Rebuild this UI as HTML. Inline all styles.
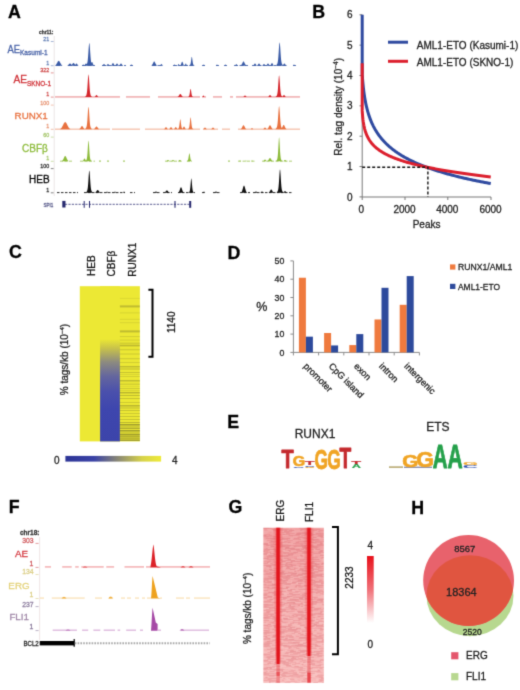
<!DOCTYPE html>
<html><head><meta charset="utf-8"><style>
html,body{margin:0;padding:0;background:#fff;width:520px;height:690px;overflow:hidden}
svg{display:block}
text{font-family:"Liberation Sans",sans-serif}
</style></head><body>
<svg width="520" height="690" viewBox="0 0 520 690">
<defs><filter id="bl" x="0" y="0" width="1" height="1" color-interpolation-filters="sRGB"><feConvolveMatrix order="3" kernelMatrix="0.0192 0.1001 0.0192 0.1001 0.5228 0.1001 0.0192 0.1001 0.0192" edgeMode="duplicate"/></filter></defs>
<rect width="520" height="690" fill="#fff"/>
<g filter="url(#bl)">
<rect width="520" height="690" fill="#fff"/>
<text x="8.05" y="18.10" font-size="17.8" fill="#000" text-anchor="start" font-weight="bold"  stroke="#000" stroke-width="0.28">A</text>
<text x="312.30" y="18.40" font-size="17.8" fill="#000" text-anchor="start" font-weight="bold"  stroke="#000" stroke-width="0.28">B</text>
<text x="8.90" y="258.20" font-size="17.8" fill="#000" text-anchor="start" font-weight="bold"  stroke="#000" stroke-width="0.28">C</text>
<text x="227.50" y="259.40" font-size="17.8" fill="#000" text-anchor="start" font-weight="bold"  stroke="#000" stroke-width="0.28">D</text>
<text x="227.30" y="427.60" font-size="17.8" fill="#000" text-anchor="start" font-weight="bold"  stroke="#000" stroke-width="0.28">E</text>
<text x="8.70" y="512.80" font-size="17.8" fill="#000" text-anchor="start" font-weight="bold"  stroke="#000" stroke-width="0.28">F</text>
<text x="228.60" y="513.00" font-size="17.8" fill="#000" text-anchor="start" font-weight="bold"  stroke="#000" stroke-width="0.28">G</text>
<text x="411.30" y="514.10" font-size="17.8" fill="#000" text-anchor="start" font-weight="bold"  stroke="#000" stroke-width="0.28">H</text>
<line x1="54.2" y1="36" x2="54.2" y2="196" stroke="#e6dede" stroke-width="0.8"/>
<text x="53.40" y="34.00" font-size="5.8" fill="#333" text-anchor="end" font-weight="bold" textLength="14.5" lengthAdjust="spacingAndGlyphs" stroke="#333" stroke-width="0.28">chr11:</text>
<text x="49.20" y="41.00" font-size="5.4" fill="#6a84b8" text-anchor="end" font-weight="normal"  stroke="#6a84b8" stroke-width="0.28">21</text>
<line x1="50.8" y1="41.50" x2="53.6" y2="41.50" stroke="#6a84b8" stroke-width="0.6"/>
<text x="49.20" y="64.50" font-size="5.4" fill="#6a84b8" text-anchor="end" font-weight="normal"  stroke="#6a84b8" stroke-width="0.28">1</text>
<line x1="50.8" y1="65.70" x2="53.6" y2="65.70" stroke="#6a84b8" stroke-width="0.6"/>
<text x="49.20" y="72.40" font-size="5.4" fill="#d05050" text-anchor="end" font-weight="normal"  stroke="#d05050" stroke-width="0.28">322</text>
<line x1="50.8" y1="72.90" x2="53.6" y2="72.90" stroke="#d05050" stroke-width="0.6"/>
<text x="49.20" y="95.90" font-size="5.4" fill="#d05050" text-anchor="end" font-weight="normal"  stroke="#d05050" stroke-width="0.28">1</text>
<line x1="50.8" y1="97.10" x2="53.6" y2="97.10" stroke="#d05050" stroke-width="0.6"/>
<text x="49.20" y="104.60" font-size="5.4" fill="#e89878" text-anchor="end" font-weight="normal"  stroke="#e89878" stroke-width="0.28">100</text>
<line x1="50.8" y1="105.10" x2="53.6" y2="105.10" stroke="#e89878" stroke-width="0.6"/>
<text x="49.20" y="128.10" font-size="5.4" fill="#e89878" text-anchor="end" font-weight="normal"  stroke="#e89878" stroke-width="0.28">1</text>
<line x1="50.8" y1="129.30" x2="53.6" y2="129.30" stroke="#e89878" stroke-width="0.6"/>
<text x="49.20" y="136.60" font-size="5.4" fill="#a8c870" text-anchor="end" font-weight="normal"  stroke="#a8c870" stroke-width="0.28">60</text>
<line x1="50.8" y1="137.10" x2="53.6" y2="137.10" stroke="#a8c870" stroke-width="0.6"/>
<text x="49.20" y="160.10" font-size="5.4" fill="#a8c870" text-anchor="end" font-weight="normal"  stroke="#a8c870" stroke-width="0.28">1</text>
<line x1="50.8" y1="161.30" x2="53.6" y2="161.30" stroke="#a8c870" stroke-width="0.6"/>
<text x="49.20" y="168.10" font-size="5.4" fill="#333" text-anchor="end" font-weight="normal"  stroke="#333" stroke-width="0.28">100</text>
<line x1="50.8" y1="168.60" x2="53.6" y2="168.60" stroke="#333" stroke-width="0.6"/>
<text x="49.20" y="191.60" font-size="5.4" fill="#333" text-anchor="end" font-weight="normal"  stroke="#333" stroke-width="0.28">1</text>
<line x1="50.8" y1="192.80" x2="53.6" y2="192.80" stroke="#333" stroke-width="0.6"/>
<text x="7.4" y="52.6" font-size="10.2" fill="#4a64a8" stroke="#4a64a8" stroke-width="0.28"><tspan textLength="12.6" lengthAdjust="spacingAndGlyphs">AE</tspan><tspan font-size="6.5" dy="2.4" textLength="27.6" lengthAdjust="spacingAndGlyphs">Kasumi-1</tspan></text>
<text x="13.4" y="83.4" font-size="10.2" fill="#d0343a" stroke="#d0343a" stroke-width="0.28"><tspan textLength="13.6" lengthAdjust="spacingAndGlyphs">AE</tspan><tspan font-size="6.5" dy="2.3" textLength="24" lengthAdjust="spacingAndGlyphs">SKNO-1</tspan></text>
<text x="47.80" y="118.60" font-size="9.8" fill="#e8713f" text-anchor="end" font-weight="normal"  stroke="#e8713f" stroke-width="0.28">RUNX1</text>
<text x="47.80" y="151.90" font-size="10" fill="#8dbb3b" text-anchor="end" font-weight="normal"  stroke="#8dbb3b" stroke-width="0.28">CBFβ</text>
<text x="49.60" y="182.60" font-size="10" fill="#000" text-anchor="end" font-weight="normal"  stroke="#000" stroke-width="0.28">HEB</text>
<path d="M55.10,65.70 L55.10,65.42 L55.40,65.26 L55.70,65.04 L56.00,64.73 L56.30,64.34 L56.60,63.86 L56.90,63.31 L57.20,62.73 L57.50,62.14 L57.80,61.61 L58.10,61.18 L58.40,60.90 L58.70,60.80 L59.00,60.90 L59.30,61.18 L59.60,61.61 L59.90,62.14 L60.20,62.73 L60.50,63.31 L60.80,63.86 L61.10,64.34 L61.40,64.73 L61.70,65.04 L62.00,65.26 L62.30,65.42 L62.30,65.70ZM67.20,65.70 L67.20,65.58 L67.43,65.50 L67.67,65.40 L67.90,65.26 L68.13,65.09 L68.37,64.87 L68.60,64.63 L68.83,64.37 L69.07,64.10 L69.30,63.86 L69.53,63.67 L69.77,63.54 L70.00,63.50 L70.23,63.54 L70.47,63.67 L70.70,63.86 L70.93,64.10 L71.17,64.37 L71.40,64.63 L71.63,64.87 L71.87,65.09 L72.10,65.26 L72.33,65.40 L72.57,65.50 L72.80,65.58 L72.80,65.70ZM70.70,65.70 L70.70,65.55 L70.93,65.46 L71.17,65.33 L71.40,65.17 L71.63,64.95 L71.87,64.69 L72.10,64.39 L72.33,64.06 L72.57,63.74 L72.80,63.44 L73.03,63.21 L73.27,63.05 L73.50,63.00 L73.73,63.05 L73.97,63.21 L74.20,63.44 L74.43,63.74 L74.67,64.06 L74.90,64.39 L75.13,64.69 L75.37,64.95 L75.60,65.17 L75.83,65.33 L76.07,65.46 L76.30,65.55 L76.30,65.70ZM74.50,65.70 L74.50,65.58 L74.67,65.50 L74.83,65.40 L75.00,65.26 L75.17,65.09 L75.33,64.87 L75.50,64.63 L75.67,64.37 L75.83,64.10 L76.00,63.86 L76.17,63.67 L76.33,63.54 L76.50,63.50 L76.67,63.54 L76.83,63.67 L77.00,63.86 L77.17,64.10 L77.33,64.37 L77.50,64.63 L77.67,64.87 L77.83,65.09 L78.00,65.26 L78.17,65.40 L78.33,65.50 L78.50,65.58 L78.50,65.70ZM82.00,65.70 L82.00,65.63 L82.11,65.59 L82.22,65.54 L82.33,65.46 L82.43,65.37 L82.54,65.25 L82.65,65.12 L82.76,64.97 L82.87,64.83 L82.97,64.70 L83.08,64.59 L83.19,64.52 L83.30,64.50 L83.41,64.52 L83.52,64.59 L83.62,64.70 L83.73,64.83 L83.84,64.97 L83.95,65.12 L84.06,65.25 L84.17,65.37 L84.28,65.46 L84.38,65.54 L84.49,65.59 L84.60,65.63 L84.60,65.70ZM84.00,65.70 L84.00,65.58 L84.17,65.50 L84.33,65.40 L84.50,65.26 L84.67,65.09 L84.83,64.87 L85.00,64.63 L85.17,64.37 L85.33,64.10 L85.50,63.86 L85.67,63.67 L85.83,63.54 L86.00,63.50 L86.17,63.54 L86.33,63.67 L86.50,63.86 L86.67,64.10 L86.83,64.37 L87.00,64.63 L87.17,64.87 L87.33,65.09 L87.50,65.26 L87.67,65.40 L87.83,65.50 L88.00,65.58 L88.00,65.70ZM85.70,65.70 L85.70,65.29 L86.00,65.10 L86.30,64.84 L86.60,64.48 L86.90,63.97 L87.20,63.19 L87.50,61.90 L87.80,59.77 L88.10,56.55 L88.40,52.31 L88.70,47.76 L89.00,44.17 L89.30,42.80 L89.60,44.17 L89.90,47.76 L90.20,52.31 L90.50,56.55 L90.80,59.77 L91.10,61.90 L91.40,63.19 L91.70,63.97 L92.00,64.48 L92.30,64.84 L92.60,65.10 L92.90,65.29 L92.90,65.70ZM90.00,65.70 L90.00,65.49 L90.17,65.37 L90.33,65.20 L90.50,64.97 L90.67,64.67 L90.83,64.31 L91.00,63.90 L91.17,63.46 L91.33,63.01 L91.50,62.61 L91.67,62.28 L91.83,62.07 L92.00,62.00 L92.17,62.07 L92.33,62.28 L92.50,62.61 L92.67,63.01 L92.83,63.46 L93.00,63.90 L93.17,64.31 L93.33,64.67 L93.50,64.97 L93.67,65.20 L93.83,65.37 L94.00,65.49 L94.00,65.70ZM102.00,65.70 L102.00,65.60 L102.17,65.55 L102.33,65.47 L102.50,65.36 L102.67,65.23 L102.83,65.06 L103.00,64.87 L103.17,64.67 L103.33,64.47 L103.50,64.28 L103.67,64.13 L103.83,64.03 L104.00,64.00 L104.17,64.03 L104.33,64.13 L104.50,64.28 L104.67,64.47 L104.83,64.67 L105.00,64.87 L105.17,65.06 L105.33,65.23 L105.50,65.36 L105.67,65.47 L105.83,65.55 L106.00,65.60 L106.00,65.70ZM106.00,65.70 L106.00,65.60 L106.17,65.55 L106.33,65.47 L106.50,65.36 L106.67,65.23 L106.83,65.06 L107.00,64.87 L107.17,64.67 L107.33,64.47 L107.50,64.28 L107.67,64.13 L107.83,64.03 L108.00,64.00 L108.17,64.03 L108.33,64.13 L108.50,64.28 L108.67,64.47 L108.83,64.67 L109.00,64.87 L109.17,65.06 L109.33,65.23 L109.50,65.36 L109.67,65.47 L109.83,65.55 L110.00,65.60 L110.00,65.70ZM111.00,65.70 L111.00,65.55 L111.17,65.46 L111.33,65.33 L111.50,65.17 L111.67,64.95 L111.83,64.69 L112.00,64.39 L112.17,64.06 L112.33,63.74 L112.50,63.44 L112.67,63.21 L112.83,63.05 L113.00,63.00 L113.17,63.05 L113.33,63.21 L113.50,63.44 L113.67,63.74 L113.83,64.06 L114.00,64.39 L114.17,64.69 L114.33,64.95 L114.50,65.17 L114.67,65.33 L114.83,65.46 L115.00,65.55 L115.00,65.70ZM115.00,65.70 L115.00,65.58 L115.17,65.50 L115.33,65.40 L115.50,65.26 L115.67,65.09 L115.83,64.87 L116.00,64.63 L116.17,64.37 L116.33,64.10 L116.50,63.86 L116.67,63.67 L116.83,63.54 L117.00,63.50 L117.17,63.54 L117.33,63.67 L117.50,63.86 L117.67,64.10 L117.83,64.37 L118.00,64.63 L118.17,64.87 L118.33,65.09 L118.50,65.26 L118.67,65.40 L118.83,65.50 L119.00,65.58 L119.00,65.70ZM119.00,65.70 L119.00,65.58 L119.17,65.50 L119.33,65.40 L119.50,65.26 L119.67,65.09 L119.83,64.87 L120.00,64.63 L120.17,64.37 L120.33,64.10 L120.50,63.86 L120.67,63.67 L120.83,63.54 L121.00,63.50 L121.17,63.54 L121.33,63.67 L121.50,63.86 L121.67,64.10 L121.83,64.37 L122.00,64.63 L122.17,64.87 L122.33,65.09 L122.50,65.26 L122.67,65.40 L122.83,65.50 L123.00,65.58 L123.00,65.70ZM130.00,65.70 L130.00,65.63 L130.11,65.59 L130.22,65.54 L130.32,65.46 L130.43,65.37 L130.54,65.25 L130.65,65.12 L130.76,64.97 L130.87,64.83 L130.97,64.70 L131.08,64.59 L131.19,64.52 L131.30,64.50 L131.41,64.52 L131.52,64.59 L131.62,64.70 L131.73,64.83 L131.84,64.97 L131.95,65.12 L132.06,65.25 L132.17,65.37 L132.28,65.46 L132.38,65.54 L132.49,65.59 L132.60,65.63 L132.60,65.70ZM151.40,65.70 L151.40,65.46 L151.63,65.33 L151.87,65.13 L152.10,64.87 L152.33,64.53 L152.57,64.12 L152.80,63.66 L153.03,63.15 L153.27,62.65 L153.50,62.19 L153.73,61.82 L153.97,61.58 L154.20,61.50 L154.43,61.58 L154.67,61.82 L154.90,62.19 L155.13,62.65 L155.37,63.15 L155.60,63.66 L155.83,64.12 L156.07,64.53 L156.30,64.87 L156.53,65.13 L156.77,65.33 L157.00,65.46 L157.00,65.70ZM159.70,65.70 L159.70,65.60 L159.84,65.55 L159.98,65.47 L160.13,65.36 L160.27,65.23 L160.41,65.06 L160.55,64.87 L160.69,64.67 L160.83,64.47 L160.98,64.28 L161.12,64.13 L161.26,64.03 L161.40,64.00 L161.54,64.03 L161.68,64.13 L161.83,64.28 L161.97,64.47 L162.11,64.67 L162.25,64.87 L162.39,65.06 L162.53,65.23 L162.68,65.36 L162.82,65.47 L162.96,65.55 L163.10,65.60 L163.10,65.70ZM173.30,65.70 L173.30,65.63 L173.41,65.59 L173.52,65.54 L173.62,65.46 L173.73,65.37 L173.84,65.25 L173.95,65.12 L174.06,64.97 L174.17,64.83 L174.27,64.70 L174.38,64.59 L174.49,64.52 L174.60,64.50 L174.71,64.52 L174.82,64.59 L174.92,64.70 L175.03,64.83 L175.14,64.97 L175.25,65.12 L175.36,65.25 L175.47,65.37 L175.57,65.46 L175.68,65.54 L175.79,65.59 L175.90,65.63 L175.90,65.70ZM177.30,65.70 L177.30,65.60 L177.41,65.55 L177.52,65.47 L177.62,65.36 L177.73,65.23 L177.84,65.06 L177.95,64.87 L178.06,64.67 L178.17,64.47 L178.27,64.28 L178.38,64.13 L178.49,64.03 L178.60,64.00 L178.71,64.03 L178.82,64.13 L178.92,64.28 L179.03,64.47 L179.14,64.67 L179.25,64.87 L179.36,65.06 L179.47,65.23 L179.57,65.36 L179.68,65.47 L179.79,65.55 L179.90,65.60 L179.90,65.70ZM180.20,65.70 L180.20,65.48 L180.37,65.34 L180.53,65.16 L180.70,64.91 L180.87,64.59 L181.03,64.20 L181.20,63.75 L181.37,63.27 L181.53,62.80 L181.70,62.36 L181.87,62.01 L182.03,61.78 L182.20,61.70 L182.37,61.78 L182.53,62.01 L182.70,62.36 L182.87,62.80 L183.03,63.27 L183.20,63.75 L183.37,64.20 L183.53,64.59 L183.70,64.91 L183.87,65.16 L184.03,65.34 L184.20,65.48 L184.20,65.70ZM184.50,65.70 L184.50,65.58 L184.61,65.50 L184.72,65.40 L184.82,65.26 L184.93,65.09 L185.04,64.87 L185.15,64.63 L185.26,64.37 L185.37,64.10 L185.47,63.86 L185.58,63.67 L185.69,63.54 L185.80,63.50 L185.91,63.54 L186.02,63.67 L186.12,63.86 L186.23,64.10 L186.34,64.37 L186.45,64.63 L186.56,64.87 L186.67,65.09 L186.78,65.26 L186.88,65.40 L186.99,65.50 L187.10,65.58 L187.10,65.70ZM189.00,65.70 L189.00,65.54 L189.23,65.47 L189.47,65.36 L189.70,65.23 L189.93,65.03 L190.17,64.72 L190.40,64.22 L190.63,63.40 L190.87,62.14 L191.10,60.49 L191.33,58.73 L191.57,57.33 L191.80,56.80 L192.03,57.33 L192.27,58.73 L192.50,60.49 L192.73,62.14 L192.97,63.40 L193.20,64.22 L193.43,64.72 L193.67,65.03 L193.90,65.23 L194.13,65.36 L194.37,65.47 L194.60,65.54 L194.60,65.70ZM202.70,65.70 L202.70,65.63 L202.79,65.59 L202.88,65.54 L202.98,65.46 L203.07,65.37 L203.16,65.25 L203.25,65.12 L203.34,64.97 L203.43,64.83 L203.53,64.70 L203.62,64.59 L203.71,64.52 L203.80,64.50 L203.89,64.52 L203.98,64.59 L204.08,64.70 L204.17,64.83 L204.26,64.97 L204.35,65.12 L204.44,65.25 L204.53,65.37 L204.63,65.46 L204.72,65.54 L204.81,65.59 L204.90,65.63 L204.90,65.70ZM215.90,65.70 L215.90,65.63 L215.99,65.59 L216.08,65.54 L216.18,65.46 L216.27,65.37 L216.36,65.25 L216.45,65.12 L216.54,64.97 L216.63,64.83 L216.72,64.70 L216.82,64.59 L216.91,64.52 L217.00,64.50 L217.09,64.52 L217.18,64.59 L217.28,64.70 L217.37,64.83 L217.46,64.97 L217.55,65.12 L217.64,65.25 L217.73,65.37 L217.83,65.46 L217.92,65.54 L218.01,65.59 L218.10,65.63 L218.10,65.70ZM224.40,65.70 L224.40,65.63 L224.49,65.59 L224.58,65.54 L224.68,65.46 L224.77,65.37 L224.86,65.25 L224.95,65.12 L225.04,64.97 L225.13,64.83 L225.22,64.70 L225.32,64.59 L225.41,64.52 L225.50,64.50 L225.59,64.52 L225.68,64.59 L225.78,64.70 L225.87,64.83 L225.96,64.97 L226.05,65.12 L226.14,65.25 L226.23,65.37 L226.33,65.46 L226.42,65.54 L226.51,65.59 L226.60,65.63 L226.60,65.70ZM235.00,65.70 L235.00,65.60 L235.11,65.55 L235.22,65.47 L235.32,65.36 L235.43,65.23 L235.54,65.06 L235.65,64.87 L235.76,64.67 L235.87,64.47 L235.97,64.28 L236.08,64.13 L236.19,64.03 L236.30,64.00 L236.41,64.03 L236.52,64.13 L236.62,64.28 L236.73,64.47 L236.84,64.67 L236.95,64.87 L237.06,65.06 L237.17,65.23 L237.28,65.36 L237.38,65.47 L237.49,65.55 L237.60,65.60 L237.60,65.70ZM240.70,65.70 L240.70,65.46 L240.93,65.33 L241.17,65.13 L241.40,64.87 L241.63,64.53 L241.87,64.12 L242.10,63.66 L242.33,63.15 L242.57,62.65 L242.80,62.19 L243.03,61.82 L243.27,61.58 L243.50,61.50 L243.73,61.58 L243.97,61.82 L244.20,62.19 L244.43,62.65 L244.67,63.15 L244.90,63.66 L245.13,64.12 L245.37,64.53 L245.60,64.87 L245.83,65.13 L246.07,65.33 L246.30,65.46 L246.30,65.70ZM253.00,65.70 L253.00,65.58 L253.17,65.50 L253.33,65.40 L253.50,65.26 L253.67,65.09 L253.83,64.87 L254.00,64.63 L254.17,64.37 L254.33,64.10 L254.50,63.86 L254.67,63.67 L254.83,63.54 L255.00,63.50 L255.17,63.54 L255.33,63.67 L255.50,63.86 L255.67,64.10 L255.83,64.37 L256.00,64.63 L256.17,64.87 L256.33,65.09 L256.50,65.26 L256.67,65.40 L256.83,65.50 L257.00,65.58 L257.00,65.70ZM257.00,65.70 L257.00,65.58 L257.17,65.50 L257.33,65.40 L257.50,65.26 L257.67,65.09 L257.83,64.87 L258.00,64.63 L258.17,64.37 L258.33,64.10 L258.50,63.86 L258.67,63.67 L258.83,63.54 L259.00,63.50 L259.17,63.54 L259.33,63.67 L259.50,63.86 L259.67,64.10 L259.83,64.37 L260.00,64.63 L260.17,64.87 L260.33,65.09 L260.50,65.26 L260.67,65.40 L260.83,65.50 L261.00,65.58 L261.00,65.70ZM262.00,65.70 L262.00,65.60 L262.17,65.55 L262.33,65.47 L262.50,65.36 L262.67,65.23 L262.83,65.06 L263.00,64.87 L263.17,64.67 L263.33,64.47 L263.50,64.28 L263.67,64.13 L263.83,64.03 L264.00,64.00 L264.17,64.03 L264.33,64.13 L264.50,64.28 L264.67,64.47 L264.83,64.67 L265.00,64.87 L265.17,65.06 L265.33,65.23 L265.50,65.36 L265.67,65.47 L265.83,65.55 L266.00,65.60 L266.00,65.70ZM266.00,65.70 L266.00,65.58 L266.17,65.50 L266.33,65.40 L266.50,65.26 L266.67,65.09 L266.83,64.87 L267.00,64.63 L267.17,64.37 L267.33,64.10 L267.50,63.86 L267.67,63.67 L267.83,63.54 L268.00,63.50 L268.17,63.54 L268.33,63.67 L268.50,63.86 L268.67,64.10 L268.83,64.37 L269.00,64.63 L269.17,64.87 L269.33,65.09 L269.50,65.26 L269.67,65.40 L269.83,65.50 L270.00,65.58 L270.00,65.70ZM270.00,65.70 L270.00,65.55 L270.17,65.46 L270.33,65.33 L270.50,65.17 L270.67,64.95 L270.83,64.69 L271.00,64.39 L271.17,64.06 L271.33,63.74 L271.50,63.44 L271.67,63.21 L271.83,63.05 L272.00,63.00 L272.17,63.05 L272.33,63.21 L272.50,63.44 L272.67,63.74 L272.83,64.06 L273.00,64.39 L273.17,64.69 L273.33,64.95 L273.50,65.17 L273.67,65.33 L273.83,65.46 L274.00,65.55 L274.00,65.70ZM276.00,65.70 L276.00,65.28 L276.30,65.08 L276.60,64.82 L276.90,64.45 L277.20,63.93 L277.50,63.13 L277.80,61.82 L278.10,59.64 L278.40,56.35 L278.70,52.01 L279.00,47.37 L279.30,43.70 L279.60,42.30 L279.90,43.70 L280.20,47.37 L280.50,52.01 L280.80,56.35 L281.10,59.64 L281.40,61.82 L281.70,63.13 L282.00,63.93 L282.30,64.45 L282.60,64.82 L282.90,65.08 L283.20,65.28 L283.20,65.70ZM282.40,65.70 L282.40,65.58 L282.57,65.50 L282.73,65.40 L282.90,65.26 L283.07,65.09 L283.23,64.87 L283.40,64.63 L283.57,64.37 L283.73,64.10 L283.90,63.86 L284.07,63.67 L284.23,63.54 L284.40,63.50 L284.57,63.54 L284.73,63.67 L284.90,63.86 L285.07,64.10 L285.23,64.37 L285.40,64.63 L285.57,64.87 L285.73,65.09 L285.90,65.26 L286.07,65.40 L286.23,65.50 L286.40,65.58 L286.40,65.70ZM292.90,65.70 L292.90,65.63 L292.99,65.59 L293.08,65.54 L293.17,65.46 L293.27,65.37 L293.36,65.25 L293.45,65.12 L293.54,64.97 L293.63,64.83 L293.72,64.70 L293.82,64.59 L293.91,64.52 L294.00,64.50 L294.09,64.52 L294.18,64.59 L294.27,64.70 L294.37,64.83 L294.46,64.97 L294.55,65.12 L294.64,65.25 L294.73,65.37 L294.82,65.46 L294.92,65.54 L295.01,65.59 L295.10,65.63 L295.10,65.70Z" fill="#3a5ba6"/>
<line x1="56" y1="65.50" x2="62" y2="65.50" stroke="#3a5ba6" stroke-width="1.0" opacity="0.85" stroke-dasharray="4 1.5"/>
<line x1="68" y1="65.50" x2="79" y2="65.50" stroke="#3a5ba6" stroke-width="1.0" opacity="0.85" stroke-dasharray="4 1.5"/>
<line x1="82" y1="65.50" x2="95" y2="65.50" stroke="#3a5ba6" stroke-width="1.0" opacity="0.85" stroke-dasharray="4 1.5"/>
<line x1="102" y1="65.50" x2="126" y2="65.50" stroke="#3a5ba6" stroke-width="1.0" opacity="0.85" stroke-dasharray="4 1.5"/>
<line x1="130" y1="65.50" x2="133" y2="65.50" stroke="#3a5ba6" stroke-width="1.0" opacity="0.85" stroke-dasharray="4 1.5"/>
<line x1="152" y1="65.50" x2="163" y2="65.50" stroke="#3a5ba6" stroke-width="1.0" opacity="0.85" stroke-dasharray="4 1.5"/>
<line x1="173" y1="65.50" x2="195" y2="65.50" stroke="#3a5ba6" stroke-width="1.0" opacity="0.85" stroke-dasharray="4 1.5"/>
<line x1="202" y1="65.50" x2="205" y2="65.50" stroke="#3a5ba6" stroke-width="1.0" opacity="0.85" stroke-dasharray="4 1.5"/>
<line x1="216" y1="65.50" x2="219" y2="65.50" stroke="#3a5ba6" stroke-width="1.0" opacity="0.85" stroke-dasharray="4 1.5"/>
<line x1="224" y1="65.50" x2="227" y2="65.50" stroke="#3a5ba6" stroke-width="1.0" opacity="0.85" stroke-dasharray="4 1.5"/>
<line x1="234" y1="65.50" x2="248" y2="65.50" stroke="#3a5ba6" stroke-width="1.0" opacity="0.85" stroke-dasharray="4 1.5"/>
<line x1="252" y1="65.50" x2="276" y2="65.50" stroke="#3a5ba6" stroke-width="1.0" opacity="0.85" stroke-dasharray="4 1.5"/>
<line x1="277" y1="65.50" x2="287" y2="65.50" stroke="#3a5ba6" stroke-width="1.0" opacity="0.85" stroke-dasharray="4 1.5"/>
<line x1="293" y1="65.50" x2="296" y2="65.50" stroke="#3a5ba6" stroke-width="1.0" opacity="0.85" stroke-dasharray="4 1.5"/>
<path d="M85.10,97.10 L85.10,96.69 L85.38,96.50 L85.67,96.24 L85.95,95.88 L86.23,95.38 L86.52,94.60 L86.80,93.31 L87.08,91.20 L87.37,87.99 L87.65,83.76 L87.93,79.24 L88.22,75.67 L88.50,74.30 L88.78,75.67 L89.07,79.24 L89.35,83.76 L89.63,87.99 L89.92,91.20 L90.20,93.31 L90.48,94.60 L90.77,95.38 L91.05,95.88 L91.33,96.24 L91.62,96.50 L91.90,96.69 L91.90,97.10ZM94.50,97.10 L94.50,96.98 L94.67,96.91 L94.83,96.82 L95.00,96.68 L95.17,96.52 L95.33,96.31 L95.50,96.08 L95.67,95.83 L95.83,95.58 L96.00,95.35 L96.17,95.16 L96.33,95.04 L96.50,95.00 L96.67,95.04 L96.83,95.16 L97.00,95.35 L97.17,95.58 L97.33,95.83 L97.50,96.08 L97.67,96.31 L97.83,96.52 L98.00,96.68 L98.17,96.82 L98.33,96.91 L98.50,96.98 L98.50,97.10ZM177.50,97.10 L177.50,96.93 L177.73,96.82 L177.97,96.68 L178.20,96.49 L178.43,96.24 L178.67,95.94 L178.90,95.59 L179.13,95.22 L179.37,94.85 L179.60,94.51 L179.83,94.24 L180.07,94.06 L180.30,94.00 L180.53,94.06 L180.77,94.24 L181.00,94.51 L181.23,94.85 L181.47,95.22 L181.70,95.59 L181.93,95.94 L182.17,96.24 L182.40,96.49 L182.63,96.68 L182.87,96.82 L183.10,96.93 L183.10,97.10ZM187.80,97.10 L187.80,96.95 L188.03,96.88 L188.27,96.78 L188.50,96.65 L188.73,96.47 L188.97,96.18 L189.20,95.71 L189.43,94.94 L189.67,93.76 L189.90,92.22 L190.13,90.56 L190.37,89.25 L190.60,88.75 L190.83,89.25 L191.07,90.56 L191.30,92.22 L191.53,93.76 L191.77,94.94 L192.00,95.71 L192.23,96.18 L192.47,96.47 L192.70,96.65 L192.93,96.78 L193.17,96.88 L193.40,96.95 L193.40,97.10ZM202.10,97.10 L202.10,97.01 L202.21,96.96 L202.32,96.88 L202.42,96.78 L202.53,96.66 L202.64,96.50 L202.75,96.32 L202.86,96.13 L202.97,95.94 L203.07,95.76 L203.18,95.62 L203.29,95.53 L203.40,95.50 L203.51,95.53 L203.62,95.62 L203.72,95.76 L203.83,95.94 L203.94,96.13 L204.05,96.32 L204.16,96.50 L204.27,96.66 L204.38,96.78 L204.48,96.88 L204.59,96.96 L204.70,97.01 L204.70,97.10ZM243.00,97.10 L243.00,97.01 L243.17,96.96 L243.33,96.88 L243.50,96.78 L243.67,96.66 L243.83,96.50 L244.00,96.32 L244.17,96.13 L244.33,95.94 L244.50,95.76 L244.67,95.62 L244.83,95.53 L245.00,95.50 L245.17,95.53 L245.33,95.62 L245.50,95.76 L245.67,95.94 L245.83,96.13 L246.00,96.32 L246.17,96.50 L246.33,96.66 L246.50,96.78 L246.67,96.88 L246.83,96.96 L247.00,97.01 L247.00,97.10ZM268.00,97.10 L268.00,96.98 L268.17,96.91 L268.33,96.82 L268.50,96.68 L268.67,96.52 L268.83,96.31 L269.00,96.08 L269.17,95.83 L269.33,95.58 L269.50,95.35 L269.67,95.16 L269.83,95.04 L270.00,95.00 L270.17,95.04 L270.33,95.16 L270.50,95.35 L270.67,95.58 L270.83,95.83 L271.00,96.08 L271.17,96.31 L271.33,96.52 L271.50,96.68 L271.67,96.82 L271.83,96.91 L272.00,96.98 L272.00,97.10ZM275.70,97.10 L275.70,96.71 L275.98,96.53 L276.27,96.28 L276.55,95.94 L276.83,95.45 L277.12,94.71 L277.40,93.48 L277.68,91.46 L277.97,88.39 L278.25,84.35 L278.53,80.02 L278.82,76.61 L279.10,75.30 L279.38,76.61 L279.67,80.02 L279.95,84.35 L280.23,88.39 L280.52,91.46 L280.80,93.48 L281.08,94.71 L281.37,95.45 L281.65,95.94 L281.93,96.28 L282.22,96.53 L282.50,96.71 L282.50,97.10ZM282.00,97.10 L282.00,96.98 L282.17,96.91 L282.33,96.82 L282.50,96.68 L282.67,96.52 L282.83,96.31 L283.00,96.08 L283.17,95.83 L283.33,95.58 L283.50,95.35 L283.67,95.16 L283.83,95.04 L284.00,95.00 L284.17,95.04 L284.33,95.16 L284.50,95.35 L284.67,95.58 L284.83,95.83 L285.00,96.08 L285.17,96.31 L285.33,96.52 L285.50,96.68 L285.67,96.82 L285.83,96.91 L286.00,96.98 L286.00,97.10Z" fill="#d5262c"/>
<line x1="55" y1="96.95" x2="120" y2="96.95" stroke="#d5262c" stroke-width="0.9" opacity="0.65"/>
<line x1="126" y1="96.95" x2="150" y2="96.95" stroke="#d5262c" stroke-width="0.9" opacity="0.65"/>
<line x1="158" y1="96.95" x2="200" y2="96.95" stroke="#d5262c" stroke-width="0.9" opacity="0.65"/>
<line x1="202" y1="96.95" x2="206" y2="96.95" stroke="#d5262c" stroke-width="0.9" opacity="0.65"/>
<line x1="213" y1="96.95" x2="222" y2="96.95" stroke="#d5262c" stroke-width="0.9" opacity="0.65"/>
<line x1="230" y1="96.95" x2="233" y2="96.95" stroke="#d5262c" stroke-width="0.9" opacity="0.65"/>
<line x1="236" y1="96.95" x2="300" y2="96.95" stroke="#d5262c" stroke-width="0.9" opacity="0.65"/>
<path d="M60.20,129.30 L60.20,128.90 L60.62,128.66 L61.03,128.33 L61.45,127.88 L61.87,127.30 L62.28,126.60 L62.70,125.80 L63.12,124.93 L63.53,124.07 L63.95,123.29 L64.37,122.65 L64.78,122.24 L65.20,122.10 L65.62,122.24 L66.03,122.65 L66.45,123.29 L66.87,124.07 L67.28,124.93 L67.70,125.80 L68.12,126.60 L68.53,127.30 L68.95,127.88 L69.37,128.33 L69.78,128.66 L70.20,128.90 L70.20,129.30ZM79.20,129.30 L79.20,129.11 L79.43,129.01 L79.67,128.85 L79.90,128.65 L80.13,128.38 L80.37,128.06 L80.60,127.69 L80.83,127.30 L81.07,126.90 L81.30,126.54 L81.53,126.25 L81.77,126.07 L82.00,126.00 L82.23,126.07 L82.47,126.25 L82.70,126.54 L82.93,126.90 L83.17,127.30 L83.40,127.69 L83.63,128.06 L83.87,128.38 L84.10,128.65 L84.33,128.85 L84.57,129.01 L84.80,129.11 L84.80,129.30ZM85.10,129.30 L85.10,128.90 L85.38,128.71 L85.67,128.45 L85.95,128.09 L86.23,127.59 L86.52,126.82 L86.80,125.55 L87.08,123.45 L87.37,120.27 L87.65,116.08 L87.93,111.60 L88.22,108.06 L88.50,106.70 L88.78,108.06 L89.07,111.60 L89.35,116.08 L89.63,120.27 L89.92,123.45 L90.20,125.55 L90.48,126.82 L90.77,127.59 L91.05,128.09 L91.33,128.45 L91.62,128.71 L91.90,128.90 L91.90,129.30ZM93.70,129.30 L93.70,129.14 L93.93,129.05 L94.17,128.92 L94.40,128.75 L94.63,128.52 L94.87,128.25 L95.10,127.94 L95.33,127.60 L95.57,127.27 L95.80,126.96 L96.03,126.72 L96.27,126.56 L96.50,126.50 L96.73,126.56 L96.97,126.72 L97.20,126.96 L97.43,127.27 L97.67,127.60 L97.90,127.94 L98.13,128.25 L98.37,128.52 L98.60,128.75 L98.83,128.92 L99.07,129.05 L99.30,129.14 L99.30,129.30ZM164.00,129.30 L164.00,129.17 L164.17,129.10 L164.33,128.99 L164.50,128.84 L164.67,128.66 L164.83,128.44 L165.00,128.18 L165.17,127.90 L165.33,127.63 L165.50,127.38 L165.67,127.18 L165.83,127.05 L166.00,127.00 L166.17,127.05 L166.33,127.18 L166.50,127.38 L166.67,127.63 L166.83,127.90 L167.00,128.18 L167.17,128.44 L167.33,128.66 L167.50,128.84 L167.67,128.99 L167.83,129.10 L168.00,129.17 L168.00,129.30ZM169.00,129.30 L169.00,129.17 L169.17,129.10 L169.33,128.99 L169.50,128.84 L169.67,128.66 L169.83,128.44 L170.00,128.18 L170.17,127.90 L170.33,127.63 L170.50,127.38 L170.67,127.18 L170.83,127.05 L171.00,127.00 L171.17,127.05 L171.33,127.18 L171.50,127.38 L171.67,127.63 L171.83,127.90 L172.00,128.18 L172.17,128.44 L172.33,128.66 L172.50,128.84 L172.67,128.99 L172.83,129.10 L173.00,129.17 L173.00,129.30ZM173.80,129.30 L173.80,129.17 L173.97,129.10 L174.13,128.99 L174.30,128.84 L174.47,128.66 L174.63,128.44 L174.80,128.18 L174.97,127.90 L175.13,127.63 L175.30,127.38 L175.47,127.18 L175.63,127.05 L175.80,127.00 L175.97,127.05 L176.13,127.18 L176.30,127.38 L176.47,127.63 L176.63,127.90 L176.80,128.18 L176.97,128.44 L177.13,128.66 L177.30,128.84 L177.47,128.99 L177.63,129.10 L177.80,129.17 L177.80,129.30ZM177.50,129.30 L177.50,129.12 L177.73,129.03 L177.97,128.92 L178.20,128.76 L178.43,128.54 L178.67,128.19 L178.90,127.62 L179.13,126.69 L179.37,125.26 L179.60,123.39 L179.83,121.39 L180.07,119.81 L180.30,119.20 L180.53,119.81 L180.77,121.39 L181.00,123.39 L181.23,125.26 L181.47,126.69 L181.70,127.62 L181.93,128.19 L182.17,128.54 L182.40,128.76 L182.63,128.92 L182.87,129.03 L183.10,129.12 L183.10,129.30ZM182.00,129.30 L182.00,129.14 L182.17,129.05 L182.33,128.92 L182.50,128.75 L182.67,128.52 L182.83,128.25 L183.00,127.94 L183.17,127.60 L183.33,127.27 L183.50,126.96 L183.67,126.72 L183.83,126.56 L184.00,126.50 L184.17,126.56 L184.33,126.72 L184.50,126.96 L184.67,127.27 L184.83,127.60 L185.00,127.94 L185.17,128.25 L185.33,128.52 L185.50,128.75 L185.67,128.92 L185.83,129.05 L186.00,129.14 L186.00,129.30ZM187.80,129.30 L187.80,129.09 L188.03,128.98 L188.27,128.85 L188.50,128.66 L188.73,128.39 L188.97,127.98 L189.20,127.31 L189.43,126.19 L189.67,124.50 L189.90,122.28 L190.13,119.90 L190.37,118.02 L190.60,117.30 L190.83,118.02 L191.07,119.90 L191.30,122.28 L191.53,124.50 L191.77,126.19 L192.00,127.31 L192.23,127.98 L192.47,128.39 L192.70,128.66 L192.93,128.85 L193.17,128.98 L193.40,129.09 L193.40,129.30ZM203.00,129.30 L203.00,129.20 L203.17,129.14 L203.33,129.06 L203.50,128.94 L203.67,128.80 L203.83,128.62 L204.00,128.42 L204.17,128.21 L204.33,127.99 L204.50,127.80 L204.67,127.64 L204.83,127.54 L205.00,127.50 L205.17,127.54 L205.33,127.64 L205.50,127.80 L205.67,127.99 L205.83,128.21 L206.00,128.42 L206.17,128.62 L206.33,128.80 L206.50,128.94 L206.67,129.06 L206.83,129.14 L207.00,129.20 L207.00,129.30ZM211.00,129.30 L211.00,129.20 L211.17,129.14 L211.33,129.06 L211.50,128.94 L211.67,128.80 L211.83,128.62 L212.00,128.42 L212.17,128.21 L212.33,127.99 L212.50,127.80 L212.67,127.64 L212.83,127.54 L213.00,127.50 L213.17,127.54 L213.33,127.64 L213.50,127.80 L213.67,127.99 L213.83,128.21 L214.00,128.42 L214.17,128.62 L214.33,128.80 L214.50,128.94 L214.67,129.06 L214.83,129.14 L215.00,129.20 L215.00,129.30ZM240.70,129.30 L240.70,129.07 L240.93,128.94 L241.17,128.75 L241.40,128.49 L241.63,128.16 L241.87,127.76 L242.10,127.30 L242.33,126.81 L242.57,126.32 L242.80,125.88 L243.03,125.52 L243.27,125.28 L243.50,125.20 L243.73,125.28 L243.97,125.52 L244.20,125.88 L244.43,126.32 L244.67,126.81 L244.90,127.30 L245.13,127.76 L245.37,128.16 L245.60,128.49 L245.83,128.75 L246.07,128.94 L246.30,129.07 L246.30,129.30ZM250.70,129.30 L250.70,129.23 L250.81,129.18 L250.92,129.12 L251.02,129.04 L251.13,128.94 L251.24,128.81 L251.35,128.67 L251.46,128.51 L251.57,128.36 L251.67,128.21 L251.78,128.10 L251.89,128.03 L252.00,128.00 L252.11,128.03 L252.22,128.10 L252.32,128.21 L252.43,128.36 L252.54,128.51 L252.65,128.67 L252.76,128.81 L252.87,128.94 L252.97,129.04 L253.08,129.12 L253.19,129.18 L253.30,129.23 L253.30,129.30ZM263.00,129.30 L263.00,129.20 L263.17,129.14 L263.33,129.06 L263.50,128.94 L263.67,128.80 L263.83,128.62 L264.00,128.42 L264.17,128.21 L264.33,127.99 L264.50,127.80 L264.67,127.64 L264.83,127.54 L265.00,127.50 L265.17,127.54 L265.33,127.64 L265.50,127.80 L265.67,127.99 L265.83,128.21 L266.00,128.42 L266.17,128.62 L266.33,128.80 L266.50,128.94 L266.67,129.06 L266.83,129.14 L267.00,129.20 L267.00,129.30ZM267.20,129.30 L267.20,129.07 L267.43,128.94 L267.67,128.75 L267.90,128.49 L268.13,128.16 L268.37,127.76 L268.60,127.30 L268.83,126.81 L269.07,126.32 L269.30,125.88 L269.53,125.52 L269.77,125.28 L270.00,125.20 L270.23,125.28 L270.47,125.52 L270.70,125.88 L270.93,126.32 L271.17,126.81 L271.40,127.30 L271.63,127.76 L271.87,128.16 L272.10,128.49 L272.33,128.75 L272.57,128.94 L272.80,129.07 L272.80,129.30ZM275.50,129.30 L275.50,128.89 L275.80,128.69 L276.10,128.42 L276.40,128.06 L276.70,127.54 L277.00,126.75 L277.30,125.43 L277.60,123.27 L277.90,119.99 L278.20,115.67 L278.50,111.05 L278.80,107.40 L279.10,106.00 L279.40,107.40 L279.70,111.05 L280.00,115.67 L280.30,119.99 L280.60,123.27 L280.90,125.43 L281.20,126.75 L281.50,127.54 L281.80,128.06 L282.10,128.42 L282.40,128.69 L282.70,128.89 L282.70,129.30ZM280.90,129.30 L280.90,129.06 L281.13,128.92 L281.37,128.72 L281.60,128.45 L281.83,128.10 L282.07,127.69 L282.30,127.21 L282.53,126.69 L282.77,126.18 L283.00,125.71 L283.23,125.33 L283.47,125.09 L283.70,125.00 L283.93,125.09 L284.17,125.33 L284.40,125.71 L284.63,126.18 L284.87,126.69 L285.10,127.21 L285.33,127.69 L285.57,128.10 L285.80,128.45 L286.03,128.72 L286.27,128.92 L286.50,129.06 L286.50,129.30Z" fill="#e8713f"/>
<line x1="55" y1="129.15" x2="110" y2="129.15" stroke="#e8713f" stroke-width="0.9" opacity="0.65"/>
<line x1="112" y1="129.15" x2="140" y2="129.15" stroke="#e8713f" stroke-width="0.9" opacity="0.65"/>
<line x1="145" y1="129.15" x2="200" y2="129.15" stroke="#e8713f" stroke-width="0.9" opacity="0.65"/>
<line x1="203" y1="129.15" x2="218" y2="129.15" stroke="#e8713f" stroke-width="0.9" opacity="0.65"/>
<line x1="222" y1="129.15" x2="230" y2="129.15" stroke="#e8713f" stroke-width="0.9" opacity="0.65"/>
<line x1="238" y1="129.15" x2="300" y2="129.15" stroke="#e8713f" stroke-width="0.9" opacity="0.65"/>
<path d="M61.90,161.30 L61.90,161.00 L62.18,160.83 L62.45,160.58 L62.73,160.25 L63.00,159.83 L63.28,159.31 L63.55,158.72 L63.83,158.09 L64.10,157.45 L64.38,156.87 L64.65,156.41 L64.93,156.10 L65.20,156.00 L65.48,156.10 L65.75,156.41 L66.03,156.87 L66.30,157.45 L66.58,158.09 L66.85,158.72 L67.12,159.31 L67.40,159.83 L67.68,160.25 L67.95,160.58 L68.23,160.83 L68.50,161.00 L68.50,161.30ZM82.50,161.30 L82.50,161.14 L82.67,161.05 L82.83,160.92 L83.00,160.75 L83.17,160.52 L83.33,160.25 L83.50,159.94 L83.67,159.60 L83.83,159.27 L84.00,158.96 L84.17,158.72 L84.33,158.56 L84.50,158.50 L84.67,158.56 L84.83,158.72 L85.00,158.96 L85.17,159.27 L85.33,159.60 L85.50,159.94 L85.67,160.25 L85.83,160.52 L86.00,160.75 L86.17,160.92 L86.33,161.05 L86.50,161.14 L86.50,161.30ZM85.50,161.30 L85.50,160.93 L85.75,160.75 L86.00,160.51 L86.25,160.18 L86.50,159.72 L86.75,159.01 L87.00,157.83 L87.25,155.89 L87.50,152.94 L87.75,149.08 L88.00,144.93 L88.25,141.65 L88.50,140.40 L88.75,141.65 L89.00,144.93 L89.25,149.08 L89.50,152.94 L89.75,155.89 L90.00,157.83 L90.25,159.01 L90.50,159.72 L90.75,160.18 L91.00,160.51 L91.25,160.75 L91.50,160.93 L91.50,161.30ZM98.90,161.30 L98.90,161.26 L98.99,161.23 L99.08,161.19 L99.18,161.14 L99.27,161.08 L99.36,161.00 L99.45,160.91 L99.54,160.81 L99.63,160.72 L99.73,160.63 L99.82,160.56 L99.91,160.52 L100.00,160.50 L100.09,160.52 L100.18,160.56 L100.28,160.63 L100.37,160.72 L100.46,160.81 L100.55,160.91 L100.64,161.00 L100.73,161.08 L100.83,161.14 L100.92,161.19 L101.01,161.23 L101.10,161.26 L101.10,161.30ZM106.90,161.30 L106.90,161.26 L106.99,161.23 L107.08,161.19 L107.18,161.14 L107.27,161.08 L107.36,161.00 L107.45,160.91 L107.54,160.81 L107.63,160.72 L107.73,160.63 L107.82,160.56 L107.91,160.52 L108.00,160.50 L108.09,160.52 L108.18,160.56 L108.28,160.63 L108.37,160.72 L108.46,160.81 L108.55,160.91 L108.64,161.00 L108.73,161.08 L108.83,161.14 L108.92,161.19 L109.01,161.23 L109.10,161.26 L109.10,161.30ZM122.90,161.30 L122.90,161.26 L122.99,161.23 L123.08,161.19 L123.18,161.14 L123.27,161.08 L123.36,161.00 L123.45,160.91 L123.54,160.81 L123.63,160.72 L123.73,160.63 L123.82,160.56 L123.91,160.52 L124.00,160.50 L124.09,160.52 L124.18,160.56 L124.28,160.63 L124.37,160.72 L124.46,160.81 L124.55,160.91 L124.64,161.00 L124.73,161.08 L124.83,161.14 L124.92,161.19 L125.01,161.23 L125.10,161.26 L125.10,161.30ZM166.00,161.30 L166.00,161.23 L166.17,161.18 L166.33,161.12 L166.50,161.04 L166.67,160.94 L166.83,160.81 L167.00,160.67 L167.17,160.51 L167.33,160.36 L167.50,160.21 L167.67,160.10 L167.83,160.03 L168.00,160.00 L168.17,160.03 L168.33,160.10 L168.50,160.21 L168.67,160.36 L168.83,160.51 L169.00,160.67 L169.17,160.81 L169.33,160.94 L169.50,161.04 L169.67,161.12 L169.83,161.18 L170.00,161.23 L170.00,161.30ZM171.00,161.30 L171.00,161.23 L171.17,161.18 L171.33,161.12 L171.50,161.04 L171.67,160.94 L171.83,160.81 L172.00,160.67 L172.17,160.51 L172.33,160.36 L172.50,160.21 L172.67,160.10 L172.83,160.03 L173.00,160.00 L173.17,160.03 L173.33,160.10 L173.50,160.21 L173.67,160.36 L173.83,160.51 L174.00,160.67 L174.17,160.81 L174.33,160.94 L174.50,161.04 L174.67,161.12 L174.83,161.18 L175.00,161.23 L175.00,161.30ZM177.80,161.30 L177.80,161.23 L177.97,161.18 L178.13,161.12 L178.30,161.04 L178.47,160.94 L178.63,160.81 L178.80,160.67 L178.97,160.51 L179.13,160.36 L179.30,160.21 L179.47,160.10 L179.63,160.03 L179.80,160.00 L179.97,160.03 L180.13,160.10 L180.30,160.21 L180.47,160.36 L180.63,160.51 L180.80,160.67 L180.97,160.81 L181.13,160.94 L181.30,161.04 L181.47,161.12 L181.63,161.18 L181.80,161.23 L181.80,161.30ZM186.60,161.30 L186.60,161.16 L186.83,161.09 L187.07,160.99 L187.30,160.87 L187.53,160.69 L187.77,160.41 L188.00,159.96 L188.23,159.20 L188.47,158.06 L188.70,156.56 L188.93,154.96 L189.17,153.69 L189.40,153.20 L189.63,153.69 L189.87,154.96 L190.10,156.56 L190.33,158.06 L190.57,159.20 L190.80,159.96 L191.03,160.41 L191.27,160.69 L191.50,160.87 L191.73,160.99 L191.97,161.09 L192.20,161.16 L192.20,161.30ZM227.90,161.30 L227.90,161.26 L227.99,161.23 L228.08,161.19 L228.18,161.14 L228.27,161.08 L228.36,161.00 L228.45,160.91 L228.54,160.81 L228.63,160.72 L228.72,160.63 L228.82,160.56 L228.91,160.52 L229.00,160.50 L229.09,160.52 L229.18,160.56 L229.28,160.63 L229.37,160.72 L229.46,160.81 L229.55,160.91 L229.64,161.00 L229.73,161.08 L229.83,161.14 L229.92,161.19 L230.01,161.23 L230.10,161.26 L230.10,161.30ZM238.70,161.30 L238.70,161.26 L238.81,161.23 L238.92,161.19 L239.02,161.14 L239.13,161.08 L239.24,161.00 L239.35,160.91 L239.46,160.81 L239.57,160.72 L239.67,160.63 L239.78,160.56 L239.89,160.52 L240.00,160.50 L240.11,160.52 L240.22,160.56 L240.32,160.63 L240.43,160.72 L240.54,160.81 L240.65,160.91 L240.76,161.00 L240.87,161.08 L240.97,161.14 L241.08,161.19 L241.19,161.23 L241.30,161.26 L241.30,161.30ZM244.70,161.30 L244.70,161.26 L244.81,161.23 L244.92,161.19 L245.02,161.14 L245.13,161.08 L245.24,161.00 L245.35,160.91 L245.46,160.81 L245.57,160.72 L245.67,160.63 L245.78,160.56 L245.89,160.52 L246.00,160.50 L246.11,160.52 L246.22,160.56 L246.32,160.63 L246.43,160.72 L246.54,160.81 L246.65,160.91 L246.76,161.00 L246.87,161.08 L246.97,161.14 L247.08,161.19 L247.19,161.23 L247.30,161.26 L247.30,161.30ZM250.70,161.30 L250.70,161.26 L250.81,161.23 L250.92,161.19 L251.02,161.14 L251.13,161.08 L251.24,161.00 L251.35,160.91 L251.46,160.81 L251.57,160.72 L251.67,160.63 L251.78,160.56 L251.89,160.52 L252.00,160.50 L252.11,160.52 L252.22,160.56 L252.32,160.63 L252.43,160.72 L252.54,160.81 L252.65,160.91 L252.76,161.00 L252.87,161.08 L252.97,161.14 L253.08,161.19 L253.19,161.23 L253.30,161.26 L253.30,161.30ZM263.00,161.30 L263.00,161.20 L263.17,161.14 L263.33,161.06 L263.50,160.94 L263.67,160.80 L263.83,160.62 L264.00,160.42 L264.17,160.21 L264.33,159.99 L264.50,159.80 L264.67,159.64 L264.83,159.54 L265.00,159.50 L265.17,159.54 L265.33,159.64 L265.50,159.80 L265.67,159.99 L265.83,160.21 L266.00,160.42 L266.17,160.62 L266.33,160.80 L266.50,160.94 L266.67,161.06 L266.83,161.14 L267.00,161.20 L267.00,161.30ZM267.20,161.30 L267.20,161.11 L267.43,161.01 L267.67,160.85 L267.90,160.65 L268.13,160.38 L268.37,160.06 L268.60,159.69 L268.83,159.30 L269.07,158.90 L269.30,158.54 L269.53,158.25 L269.77,158.07 L270.00,158.00 L270.23,158.07 L270.47,158.25 L270.70,158.54 L270.93,158.90 L271.17,159.30 L271.40,159.69 L271.63,160.06 L271.87,160.38 L272.10,160.65 L272.33,160.85 L272.57,161.01 L272.80,161.11 L272.80,161.30ZM276.10,161.30 L276.10,160.87 L276.35,160.67 L276.60,160.39 L276.85,160.02 L277.10,159.49 L277.35,158.67 L277.60,157.32 L277.85,155.09 L278.10,151.71 L278.35,147.26 L278.60,142.50 L278.85,138.74 L279.10,137.30 L279.35,138.74 L279.60,142.50 L279.85,147.26 L280.10,151.71 L280.35,155.09 L280.60,157.32 L280.85,158.67 L281.10,159.49 L281.35,160.02 L281.60,160.39 L281.85,160.67 L282.10,160.87 L282.10,161.30ZM283.00,161.30 L283.00,161.23 L283.17,161.18 L283.33,161.12 L283.50,161.04 L283.67,160.94 L283.83,160.81 L284.00,160.67 L284.17,160.51 L284.33,160.36 L284.50,160.21 L284.67,160.10 L284.83,160.03 L285.00,160.00 L285.17,160.03 L285.33,160.10 L285.50,160.21 L285.67,160.36 L285.83,160.51 L286.00,160.67 L286.17,160.81 L286.33,160.94 L286.50,161.04 L286.67,161.12 L286.83,161.18 L287.00,161.23 L287.00,161.30Z" fill="#8dbb3b"/>
<line x1="60" y1="161.15" x2="72" y2="161.15" stroke="#8dbb3b" stroke-width="0.9" opacity="0.8" stroke-dasharray="3 1.5"/>
<line x1="80" y1="161.15" x2="95" y2="161.15" stroke="#8dbb3b" stroke-width="0.9" opacity="0.8" stroke-dasharray="3 1.5"/>
<line x1="99" y1="161.15" x2="101" y2="161.15" stroke="#8dbb3b" stroke-width="0.9" opacity="0.8" stroke-dasharray="3 1.5"/>
<line x1="107" y1="161.15" x2="109" y2="161.15" stroke="#8dbb3b" stroke-width="0.9" opacity="0.8" stroke-dasharray="3 1.5"/>
<line x1="123" y1="161.15" x2="125" y2="161.15" stroke="#8dbb3b" stroke-width="0.9" opacity="0.8" stroke-dasharray="3 1.5"/>
<line x1="165" y1="161.15" x2="182" y2="161.15" stroke="#8dbb3b" stroke-width="0.9" opacity="0.8" stroke-dasharray="3 1.5"/>
<line x1="187" y1="161.15" x2="192" y2="161.15" stroke="#8dbb3b" stroke-width="0.9" opacity="0.8" stroke-dasharray="3 1.5"/>
<line x1="228" y1="161.15" x2="230" y2="161.15" stroke="#8dbb3b" stroke-width="0.9" opacity="0.8" stroke-dasharray="3 1.5"/>
<line x1="238" y1="161.15" x2="255" y2="161.15" stroke="#8dbb3b" stroke-width="0.9" opacity="0.8" stroke-dasharray="3 1.5"/>
<line x1="262" y1="161.15" x2="292" y2="161.15" stroke="#8dbb3b" stroke-width="0.9" opacity="0.8" stroke-dasharray="3 1.5"/>
<path d="M85.90,192.80 L85.90,192.40 L86.18,192.21 L86.47,191.95 L86.75,191.60 L87.03,191.11 L87.32,190.34 L87.60,189.08 L87.88,187.00 L88.17,183.85 L88.45,179.70 L88.73,175.25 L89.02,171.74 L89.30,170.40 L89.58,171.74 L89.87,175.25 L90.15,179.70 L90.43,183.85 L90.72,187.00 L91.00,189.08 L91.28,190.34 L91.57,191.11 L91.85,191.60 L92.13,191.95 L92.42,192.21 L92.70,192.40 L92.70,192.80ZM94.90,192.80 L94.90,192.64 L95.13,192.55 L95.37,192.42 L95.60,192.25 L95.83,192.02 L96.07,191.75 L96.30,191.44 L96.53,191.10 L96.77,190.77 L97.00,190.46 L97.23,190.22 L97.47,190.06 L97.70,190.00 L97.93,190.06 L98.17,190.22 L98.40,190.46 L98.63,190.77 L98.87,191.10 L99.10,191.44 L99.33,191.75 L99.57,192.02 L99.80,192.25 L100.03,192.42 L100.27,192.55 L100.50,192.64 L100.50,192.80ZM105.90,192.80 L105.90,192.73 L105.99,192.68 L106.08,192.62 L106.18,192.54 L106.27,192.44 L106.36,192.31 L106.45,192.17 L106.54,192.01 L106.63,191.86 L106.73,191.71 L106.82,191.60 L106.91,191.53 L107.00,191.50 L107.09,191.53 L107.18,191.60 L107.28,191.71 L107.37,191.86 L107.46,192.01 L107.55,192.17 L107.64,192.31 L107.73,192.44 L107.83,192.54 L107.92,192.62 L108.01,192.68 L108.10,192.73 L108.10,192.80ZM113.90,192.80 L113.90,192.73 L113.99,192.68 L114.08,192.62 L114.18,192.54 L114.27,192.44 L114.36,192.31 L114.45,192.17 L114.54,192.01 L114.63,191.86 L114.73,191.71 L114.82,191.60 L114.91,191.53 L115.00,191.50 L115.09,191.53 L115.18,191.60 L115.28,191.71 L115.37,191.86 L115.46,192.01 L115.55,192.17 L115.64,192.31 L115.73,192.44 L115.83,192.54 L115.92,192.62 L116.01,192.68 L116.10,192.73 L116.10,192.80ZM122.90,192.80 L122.90,192.73 L122.99,192.68 L123.08,192.62 L123.18,192.54 L123.27,192.44 L123.36,192.31 L123.45,192.17 L123.54,192.01 L123.63,191.86 L123.73,191.71 L123.82,191.60 L123.91,191.53 L124.00,191.50 L124.09,191.53 L124.18,191.60 L124.28,191.71 L124.37,191.86 L124.46,192.01 L124.55,192.17 L124.64,192.31 L124.73,192.44 L124.83,192.54 L124.92,192.62 L125.01,192.68 L125.10,192.73 L125.10,192.80ZM154.00,192.80 L154.00,192.73 L154.17,192.68 L154.33,192.62 L154.50,192.54 L154.67,192.44 L154.83,192.31 L155.00,192.17 L155.17,192.01 L155.33,191.86 L155.50,191.71 L155.67,191.60 L155.83,191.53 L156.00,191.50 L156.17,191.53 L156.33,191.60 L156.50,191.71 L156.67,191.86 L156.83,192.01 L157.00,192.17 L157.17,192.31 L157.33,192.44 L157.50,192.54 L157.67,192.62 L157.83,192.68 L158.00,192.73 L158.00,192.80ZM164.10,192.80 L164.10,192.67 L164.33,192.59 L164.57,192.48 L164.80,192.33 L165.03,192.13 L165.27,191.90 L165.50,191.63 L165.73,191.34 L165.97,191.06 L166.20,190.80 L166.43,190.58 L166.67,190.45 L166.90,190.40 L167.13,190.45 L167.37,190.58 L167.60,190.80 L167.83,191.06 L168.07,191.34 L168.30,191.63 L168.53,191.90 L168.77,192.13 L169.00,192.33 L169.23,192.48 L169.47,192.59 L169.70,192.67 L169.70,192.80ZM178.40,192.80 L178.40,192.49 L178.62,192.30 L178.83,192.04 L179.05,191.69 L179.27,191.24 L179.48,190.70 L179.70,190.07 L179.92,189.40 L180.13,188.73 L180.35,188.12 L180.57,187.63 L180.78,187.31 L181.00,187.20 L181.22,187.31 L181.43,187.63 L181.65,188.12 L181.87,188.73 L182.08,189.40 L182.30,190.07 L182.52,190.70 L182.73,191.24 L182.95,191.69 L183.17,192.04 L183.38,192.30 L183.60,192.49 L183.60,192.80ZM188.50,192.80 L188.50,192.54 L188.73,192.42 L188.97,192.25 L189.20,192.03 L189.43,191.71 L189.67,191.21 L189.90,190.39 L190.13,189.05 L190.37,187.00 L190.60,184.32 L190.83,181.44 L191.07,179.17 L191.30,178.30 L191.53,179.17 L191.77,181.44 L192.00,184.32 L192.23,187.00 L192.47,189.05 L192.70,190.39 L192.93,191.21 L193.17,191.71 L193.40,192.03 L193.63,192.25 L193.87,192.42 L194.10,192.54 L194.10,192.80ZM202.90,192.80 L202.90,192.73 L202.99,192.68 L203.08,192.62 L203.18,192.54 L203.27,192.44 L203.36,192.31 L203.45,192.17 L203.54,192.01 L203.63,191.86 L203.72,191.71 L203.82,191.60 L203.91,191.53 L204.00,191.50 L204.09,191.53 L204.18,191.60 L204.28,191.71 L204.37,191.86 L204.46,192.01 L204.55,192.17 L204.64,192.31 L204.73,192.44 L204.83,192.54 L204.92,192.62 L205.01,192.68 L205.10,192.73 L205.10,192.80ZM214.00,192.80 L214.00,192.73 L214.17,192.68 L214.33,192.62 L214.50,192.54 L214.67,192.44 L214.83,192.31 L215.00,192.17 L215.17,192.01 L215.33,191.86 L215.50,191.71 L215.67,191.60 L215.83,191.53 L216.00,191.50 L216.17,191.53 L216.33,191.60 L216.50,191.71 L216.67,191.86 L216.83,192.01 L217.00,192.17 L217.17,192.31 L217.33,192.44 L217.50,192.54 L217.67,192.62 L217.83,192.68 L218.00,192.73 L218.00,192.80ZM241.20,192.80 L241.20,192.40 L241.43,192.16 L241.67,191.83 L241.90,191.38 L242.13,190.80 L242.37,190.10 L242.60,189.30 L242.83,188.43 L243.07,187.57 L243.30,186.79 L243.53,186.15 L243.77,185.74 L244.00,185.60 L244.23,185.74 L244.47,186.15 L244.70,186.79 L244.93,187.57 L245.17,188.43 L245.40,189.30 L245.63,190.10 L245.87,190.80 L246.10,191.38 L246.33,191.83 L246.57,192.16 L246.80,192.40 L246.80,192.80ZM254.00,192.80 L254.00,192.73 L254.17,192.68 L254.33,192.62 L254.50,192.54 L254.67,192.44 L254.83,192.31 L255.00,192.17 L255.17,192.01 L255.33,191.86 L255.50,191.71 L255.67,191.60 L255.83,191.53 L256.00,191.50 L256.17,191.53 L256.33,191.60 L256.50,191.71 L256.67,191.86 L256.83,192.01 L257.00,192.17 L257.17,192.31 L257.33,192.44 L257.50,192.54 L257.67,192.62 L257.83,192.68 L258.00,192.73 L258.00,192.80ZM260.00,192.80 L260.00,192.73 L260.17,192.68 L260.33,192.62 L260.50,192.54 L260.67,192.44 L260.83,192.31 L261.00,192.17 L261.17,192.01 L261.33,191.86 L261.50,191.71 L261.67,191.60 L261.83,191.53 L262.00,191.50 L262.17,191.53 L262.33,191.60 L262.50,191.71 L262.67,191.86 L262.83,192.01 L263.00,192.17 L263.17,192.31 L263.33,192.44 L263.50,192.54 L263.67,192.62 L263.83,192.68 L264.00,192.73 L264.00,192.80ZM268.60,192.80 L268.60,192.61 L268.82,192.51 L269.03,192.35 L269.25,192.15 L269.47,191.88 L269.68,191.56 L269.90,191.19 L270.12,190.80 L270.33,190.40 L270.55,190.04 L270.77,189.75 L270.98,189.57 L271.20,189.50 L271.42,189.57 L271.63,189.75 L271.85,190.04 L272.07,190.40 L272.28,190.80 L272.50,191.19 L272.72,191.56 L272.93,191.88 L273.15,192.15 L273.37,192.35 L273.58,192.51 L273.80,192.61 L273.80,192.80ZM276.60,192.80 L276.60,192.38 L276.88,192.18 L277.17,191.91 L277.45,191.54 L277.73,191.02 L278.02,190.21 L278.30,188.88 L278.58,186.69 L278.87,183.37 L279.15,179.00 L279.43,174.31 L279.72,170.62 L280.00,169.20 L280.28,170.62 L280.57,174.31 L280.85,179.00 L281.13,183.37 L281.42,186.69 L281.70,188.88 L281.98,190.21 L282.27,191.02 L282.55,191.54 L282.83,191.91 L283.12,192.18 L283.40,192.38 L283.40,192.80ZM283.00,192.80 L283.00,192.70 L283.17,192.64 L283.33,192.56 L283.50,192.44 L283.67,192.30 L283.83,192.12 L284.00,191.92 L284.17,191.71 L284.33,191.49 L284.50,191.30 L284.67,191.14 L284.83,191.04 L285.00,191.00 L285.17,191.04 L285.33,191.14 L285.50,191.30 L285.67,191.49 L285.83,191.71 L286.00,191.92 L286.17,192.12 L286.33,192.30 L286.50,192.44 L286.67,192.56 L286.83,192.64 L287.00,192.70 L287.00,192.80Z" fill="#111111"/>
<line x1="57" y1="192.60" x2="78" y2="192.60" stroke="#111111" stroke-width="1.0" opacity="0.9" stroke-dasharray="2.5 1.5"/>
<line x1="84" y1="192.60" x2="125" y2="192.60" stroke="#111111" stroke-width="1.0" opacity="0.9" stroke-dasharray="2.5 1.5"/>
<line x1="130" y1="192.60" x2="135" y2="192.60" stroke="#111111" stroke-width="1.0" opacity="0.9" stroke-dasharray="2.5 1.5"/>
<line x1="153" y1="192.60" x2="160" y2="192.60" stroke="#111111" stroke-width="1.0" opacity="0.9" stroke-dasharray="2.5 1.5"/>
<line x1="163" y1="192.60" x2="172" y2="192.60" stroke="#111111" stroke-width="1.0" opacity="0.9" stroke-dasharray="2.5 1.5"/>
<line x1="178" y1="192.60" x2="195" y2="192.60" stroke="#111111" stroke-width="1.0" opacity="0.9" stroke-dasharray="2.5 1.5"/>
<line x1="202" y1="192.60" x2="206" y2="192.60" stroke="#111111" stroke-width="1.0" opacity="0.9" stroke-dasharray="2.5 1.5"/>
<line x1="213" y1="192.60" x2="220" y2="192.60" stroke="#111111" stroke-width="1.0" opacity="0.9" stroke-dasharray="2.5 1.5"/>
<line x1="240" y1="192.60" x2="250" y2="192.60" stroke="#111111" stroke-width="1.0" opacity="0.9" stroke-dasharray="2.5 1.5"/>
<line x1="253" y1="192.60" x2="293" y2="192.60" stroke="#111111" stroke-width="1.0" opacity="0.9" stroke-dasharray="2.5 1.5"/>
<text x="53.40" y="206.60" font-size="5.6" fill="#5a5c8c" text-anchor="end" font-weight="normal" textLength="10" lengthAdjust="spacingAndGlyphs" stroke="#5a5c8c" stroke-width="0.28">SPI1</text>
<line x1="65" y1="204.3" x2="189.5" y2="204.3" stroke="#26286e" stroke-width="0.9" stroke-dasharray="2.2 1.2" opacity="0.85"/>
<rect x="62.3" y="200.9" width="3.2" height="6.6" fill="#26286e"/>
<line x1="84.2" y1="201.0" x2="84.2" y2="207.8" stroke="#26286e" stroke-width="1"/>
<line x1="89.5" y1="201.0" x2="89.5" y2="207.8" stroke="#26286e" stroke-width="1"/>
<line x1="175" y1="201.0" x2="175" y2="207.8" stroke="#26286e" stroke-width="1.1"/>
<line x1="190.2" y1="201.0" x2="190.2" y2="207.8" stroke="#26286e" stroke-width="2"/>
<line x1="362.2" y1="14.8" x2="362.2" y2="197" stroke="#777" stroke-width="1"/>
<line x1="362.2" y1="197" x2="491" y2="197" stroke="#777" stroke-width="1"/>
<line x1="359.5" y1="196.90" x2="362.2" y2="196.90" stroke="#777" stroke-width="1"/>
<text x="352.60" y="200.50" font-size="10" fill="#222" text-anchor="end" font-weight="normal"  stroke="#222" stroke-width="0.28">0</text>
<line x1="359.5" y1="166.55" x2="362.2" y2="166.55" stroke="#777" stroke-width="1"/>
<text x="352.60" y="170.15" font-size="10" fill="#222" text-anchor="end" font-weight="normal"  stroke="#222" stroke-width="0.28">1</text>
<line x1="359.5" y1="136.20" x2="362.2" y2="136.20" stroke="#777" stroke-width="1"/>
<text x="352.60" y="139.80" font-size="10" fill="#222" text-anchor="end" font-weight="normal"  stroke="#222" stroke-width="0.28">2</text>
<line x1="359.5" y1="105.85" x2="362.2" y2="105.85" stroke="#777" stroke-width="1"/>
<text x="352.60" y="109.45" font-size="10" fill="#222" text-anchor="end" font-weight="normal"  stroke="#222" stroke-width="0.28">3</text>
<line x1="359.5" y1="75.50" x2="362.2" y2="75.50" stroke="#777" stroke-width="1"/>
<text x="352.60" y="79.10" font-size="10" fill="#222" text-anchor="end" font-weight="normal"  stroke="#222" stroke-width="0.28">4</text>
<line x1="359.5" y1="45.15" x2="362.2" y2="45.15" stroke="#777" stroke-width="1"/>
<text x="352.60" y="48.75" font-size="10" fill="#222" text-anchor="end" font-weight="normal"  stroke="#222" stroke-width="0.28">5</text>
<line x1="359.5" y1="14.80" x2="362.2" y2="14.80" stroke="#777" stroke-width="1"/>
<text x="352.60" y="18.40" font-size="10" fill="#222" text-anchor="end" font-weight="normal"  stroke="#222" stroke-width="0.28">6</text>
<line x1="362.2" y1="197" x2="362.2" y2="200" stroke="#777" stroke-width="1"/>
<text x="361.20" y="212.60" font-size="10" fill="#222" text-anchor="middle" font-weight="normal"  stroke="#222" stroke-width="0.28">0</text>
<line x1="405" y1="197" x2="405" y2="200" stroke="#777" stroke-width="1"/>
<text x="404.50" y="212.60" font-size="10" fill="#222" text-anchor="middle" font-weight="normal"  stroke="#222" stroke-width="0.28">2000</text>
<line x1="447.8" y1="197" x2="447.8" y2="200" stroke="#777" stroke-width="1"/>
<text x="447.30" y="212.60" font-size="10" fill="#222" text-anchor="middle" font-weight="normal"  stroke="#222" stroke-width="0.28">4000</text>
<line x1="491" y1="197" x2="491" y2="200" stroke="#777" stroke-width="1"/>
<text x="490.50" y="212.60" font-size="10" fill="#222" text-anchor="middle" font-weight="normal"  stroke="#222" stroke-width="0.28">6000</text>
<text x="426.60" y="227.60" font-size="10" fill="#222" text-anchor="middle" font-weight="normal"  stroke="#222" stroke-width="0.28">Peaks</text>
<text transform="translate(341.6,106.8) rotate(-90)" font-size="10.1" fill="#222" text-anchor="middle" stroke="#222" stroke-width="0.28">Rel. tag density (10<tspan font-size="6.5" dy="-4">−4</tspan><tspan dy="4">)</tspan></text>
<polyline points="362.20,14.80 362.20,73.85 362.20,73.85 362.20,73.88 362.21,73.94 362.21,74.05 362.22,74.20 362.24,74.40 362.25,74.65 362.27,74.96 362.30,75.33 362.33,75.76 362.36,76.26 362.40,76.81 362.45,77.42 362.50,78.09 362.55,78.82 362.61,79.59 362.68,80.42 362.75,81.30 362.83,82.21 362.92,83.17 363.01,84.16 363.12,85.19 363.22,86.24 363.34,87.32 363.46,88.42 363.59,89.54 363.73,90.67 363.87,91.81 364.03,92.97 364.19,94.13 364.36,95.29 364.54,96.46 364.72,97.63 364.92,98.80 365.12,99.97 365.34,101.13 365.56,102.29 365.79,103.44 366.03,104.59 366.28,105.72 366.54,106.85 366.81,107.97 367.09,109.09 367.38,110.19 367.68,111.28 367.99,112.36 368.31,113.43 368.64,114.49 368.98,115.54 369.33,116.57 369.69,117.60 370.06,118.61 370.45,119.62 370.84,120.61 371.25,121.59 371.66,122.56 372.09,123.52 372.53,124.46 372.98,125.40 373.44,126.33 373.92,127.24 374.41,128.14 374.90,129.04 375.41,129.92 375.94,130.80 376.47,131.66 377.02,132.51 377.58,133.35 378.15,134.19 378.73,135.01 379.33,135.83 379.94,136.63 380.56,137.43 381.20,138.22 381.84,139.00 382.51,139.77 383.18,140.53 383.87,141.28 384.57,142.03 385.28,142.76 386.01,143.49 386.75,144.21 387.51,144.93 388.28,145.63 389.06,146.33 389.86,147.02 390.67,147.71 391.49,148.39 392.33,149.06 393.19,149.72 394.06,150.37 394.94,151.02 395.83,151.67 396.75,152.30 397.67,152.94 398.61,153.56 399.57,154.18 400.54,154.79 401.52,155.40 402.53,156.00 403.54,156.59 404.57,157.18 405.62,157.76 406.68,158.34 407.76,158.92 408.85,159.48 409.96,160.04 411.08,160.60 412.22,161.15 413.38,161.70 414.55,162.24 415.73,162.78 416.94,163.31 418.16,163.84 419.39,164.36 420.64,164.88 421.91,165.39 423.19,165.90 424.49,166.41 425.81,166.91 427.14,167.41 428.49,167.90 429.86,168.39 431.25,168.87 432.65,169.35 434.06,169.83 435.50,170.30 436.95,170.77 438.42,171.23 439.90,171.69 441.41,172.15 442.93,172.60 444.46,173.05 446.02,173.49 447.59,173.94 449.18,174.38 450.79,174.81 452.41,175.24 454.06,175.67 455.72,176.10 457.40,176.52 459.09,176.94 460.81,177.35 462.54,177.76 464.29,178.17 466.06,178.58 467.85,178.98 469.66,179.38 471.48,179.78 473.32,180.17 475.19,180.56 477.07,180.95 478.96,181.33 480.88,181.71 482.82,182.09 484.77,182.47 486.75,182.84 488.74,183.21 490.75,183.58" fill="none" stroke="#2f4aa0" stroke-width="3" stroke-linejoin="round"/>
<polyline points="362.20,63.36 362.20,110.57 362.20,110.57 362.20,110.60 362.21,110.67 362.21,110.79 362.22,110.95 362.24,111.16 362.25,111.43 362.27,111.76 362.30,112.14 362.33,112.58 362.36,113.07 362.40,113.61 362.45,114.19 362.50,114.82 362.55,115.47 362.61,116.16 362.68,116.88 362.75,117.61 362.83,118.36 362.92,119.13 363.01,119.90 363.12,120.68 363.22,121.47 363.34,122.25 363.46,123.03 363.59,123.81 363.73,124.59 363.87,125.36 364.03,126.13 364.19,126.88 364.36,127.63 364.54,128.37 364.72,129.10 364.92,129.82 365.12,130.53 365.34,131.23 365.56,131.92 365.79,132.60 366.03,133.27 366.28,133.93 366.54,134.58 366.81,135.22 367.09,135.85 367.38,136.47 367.68,137.08 367.99,137.68 368.31,138.27 368.64,138.85 368.98,139.43 369.33,140.00 369.69,140.55 370.06,141.10 370.45,141.65 370.84,142.18 371.25,142.71 371.66,143.23 372.09,143.74 372.53,144.24 372.98,144.74 373.44,145.23 373.92,145.72 374.41,146.20 374.90,146.67 375.41,147.13 375.94,147.60 376.47,148.05 377.02,148.50 377.58,148.94 378.15,149.38 378.73,149.81 379.33,150.24 379.94,150.67 380.56,151.08 381.20,151.50 381.84,151.91 382.51,152.31 383.18,152.71 383.87,153.11 384.57,153.50 385.28,153.89 386.01,154.27 386.75,154.65 387.51,155.03 388.28,155.40 389.06,155.77 389.86,156.13 390.67,156.50 391.49,156.85 392.33,157.21 393.19,157.56 394.06,157.91 394.94,158.26 395.83,158.60 396.75,158.94 397.67,159.28 398.61,159.61 399.57,159.94 400.54,160.27 401.52,160.60 402.53,160.92 403.54,161.24 404.57,161.56 405.62,161.88 406.68,162.19 407.76,162.50 408.85,162.81 409.96,163.12 411.08,163.42 412.22,163.72 413.38,164.02 414.55,164.32 415.73,164.62 416.94,164.91 418.16,165.21 419.39,165.50 420.64,165.79 421.91,166.07 423.19,166.36 424.49,166.64 425.81,166.92 427.14,167.20 428.49,167.48 429.86,167.76 431.25,168.04 432.65,168.31 434.06,168.58 435.50,168.85 436.95,169.12 438.42,169.39 439.90,169.66 441.41,169.92 442.93,170.19 444.46,170.45 446.02,170.71 447.59,170.97 449.18,171.23 450.79,171.49 452.41,171.74 454.06,172.00 455.72,172.25 457.40,172.51 459.09,172.76 460.81,173.01 462.54,173.26 464.29,173.51 466.06,173.76 467.85,174.01 469.66,174.25 471.48,174.50 473.32,174.74 475.19,174.98 477.07,175.23 478.96,175.47 480.88,175.71 482.82,175.95 484.77,176.19 486.75,176.43 488.74,176.66 490.75,176.90" fill="none" stroke="#dc1f2d" stroke-width="3" stroke-linejoin="round"/>
<polyline points="362.2,167.2 427.9,167.2 427.9,197" fill="none" stroke="#111" stroke-width="1.4" stroke-dasharray="3 2"/>
<line x1="388" y1="42.2" x2="408" y2="42.2" stroke="#2f4aa0" stroke-width="3"/>
<line x1="388" y1="61.3" x2="408" y2="61.3" stroke="#dc1f2d" stroke-width="3"/>
<text x="416.80" y="48.80" font-size="10" fill="#222" text-anchor="start" font-weight="normal"  stroke="#222" stroke-width="0.28">AML1-ETO (Kasumi-1)</text>
<text x="416.80" y="65.80" font-size="10" fill="#222" text-anchor="start" font-weight="normal"  stroke="#222" stroke-width="0.28">AML1-ETO (SKNO-1)</text>
<text transform="translate(91.20,265.60) rotate(-90)" x="0" y="3.60" font-size="10" fill="#111" text-anchor="middle" stroke="#111" stroke-width="0.28">HEB</text>
<text transform="translate(111.60,263.50) rotate(-90)" x="0" y="3.60" font-size="10" fill="#111" text-anchor="middle" stroke="#111" stroke-width="0.28">CBFβ</text>
<text transform="translate(131.90,259.70) rotate(-90)" x="0" y="3.60" font-size="10" fill="#111" text-anchor="middle" stroke="#111" stroke-width="0.28">RUNX1</text>
<defs><linearGradient id="cg" x1="0" y1="0" x2="0" y2="1"><stop offset="0" stop-color="#ece834"/><stop offset="0.34" stop-color="#ece834"/><stop offset="0.40" stop-color="#c8c24a"/><stop offset="0.49" stop-color="#8c8a80"/><stop offset="0.58" stop-color="#64669e"/><stop offset="0.68" stop-color="#4a50ac"/><stop offset="0.79" stop-color="#3e46ae"/><stop offset="1" stop-color="#3c44aa"/></linearGradient><linearGradient id="cb" x1="0" y1="0" x2="1" y2="0"><stop offset="0" stop-color="#2c3496"/><stop offset="0.3" stop-color="#3a42a6"/><stop offset="0.55" stop-color="#8a8874"/><stop offset="0.8" stop-color="#d6d24a"/><stop offset="1" stop-color="#eeea38"/></linearGradient><linearGradient id="rg" x1="0" y1="0" x2="0" y2="1"><stop offset="0" stop-color="#e8101a"/><stop offset="0.5" stop-color="#f07078"/><stop offset="1" stop-color="#ffffff"/></linearGradient></defs>
<rect x="79.8" y="286.2" width="60.1" height="155.2" fill="#ece834"/>
<rect x="100.1" y="286.2" width="19.8" height="155.2" fill="url(#cg)"/>
<rect x="119.9" y="297.9" width="20" height="1" fill="#6e6a28" opacity="0.12"/>
<rect x="119.9" y="305.4" width="20" height="2" fill="#6e6a28" opacity="0.35"/>
<rect x="119.9" y="312.4" width="20" height="1" fill="#6e6a28" opacity="0.15"/>
<rect x="119.9" y="318.8" width="20" height="1" fill="#6e6a28" opacity="0.15"/>
<rect x="119.9" y="322.2" width="20" height="1" fill="#6e6a28" opacity="0.15"/>
<rect x="119.9" y="330.4" width="20" height="2" fill="#6e6a28" opacity="0.35"/>
<rect x="119.9" y="336.1" width="20" height="1" fill="#6e6a28" opacity="0.20"/>
<rect x="119.9" y="339.6" width="20" height="1" fill="#6e6a28" opacity="0.20"/>
<rect x="119.9" y="342.5" width="20" height="1" fill="#6e6a28" opacity="0.20"/>
<rect x="119.9" y="344.8" width="20" height="1.5" fill="#6e6a28" opacity="0.30"/>
<rect x="119.9" y="348.9" width="20" height="1" fill="#6e6a28" opacity="0.20"/>
<rect x="119.9" y="353.5" width="20" height="1" fill="#6e6a28" opacity="0.25"/>
<rect x="119.9" y="358.2" width="20" height="1" fill="#6e6a28" opacity="0.25"/>
<rect x="119.9" y="362.0" width="20" height="1" fill="#6e6a28" opacity="0.20"/>
<rect x="119.9" y="366.0" width="20" height="1.5" fill="#6e6a28" opacity="0.30"/>
<rect x="119.9" y="368.5" width="20" height="1" fill="#6e6a28" opacity="0.35"/>
<rect x="119.9" y="372.0" width="20" height="1" fill="#6e6a28" opacity="0.30"/>
<rect x="119.9" y="376.0" width="20" height="1" fill="#6e6a28" opacity="0.20"/>
<rect x="119.9" y="380.0" width="20" height="1.5" fill="#6e6a28" opacity="0.35"/>
<rect x="119.9" y="384.0" width="20" height="1" fill="#6e6a28" opacity="0.20"/>
<rect x="119.9" y="388.0" width="20" height="1" fill="#6e6a28" opacity="0.25"/>
<rect x="119.9" y="392.0" width="20" height="1.5" fill="#6e6a28" opacity="0.35"/>
<rect x="119.9" y="395.0" width="20" height="1" fill="#6e6a28" opacity="0.35"/>
<rect x="119.9" y="398.0" width="20" height="1" fill="#6e6a28" opacity="0.30"/>
<rect x="119.9" y="402.0" width="20" height="1" fill="#6e6a28" opacity="0.25"/>
<rect x="119.9" y="405.0" width="20" height="1.5" fill="#6e6a28" opacity="0.40"/>
<rect x="119.9" y="407.5" width="20" height="1" fill="#6e6a28" opacity="0.35"/>
<rect x="119.9" y="410.0" width="20" height="1" fill="#6e6a28" opacity="0.30"/>
<rect x="119.9" y="413.0" width="20" height="1" fill="#6e6a28" opacity="0.25"/>
<rect x="119.9" y="416.0" width="20" height="1" fill="#6e6a28" opacity="0.30"/>
<rect x="119.9" y="419.0" width="20" height="1" fill="#6e6a28" opacity="0.30"/>
<rect x="119.9" y="422.0" width="20" height="1" fill="#6e6a28" opacity="0.40"/>
<rect x="119.9" y="424.0" width="20" height="1.5" fill="#6e6a28" opacity="0.60"/>
<rect x="119.9" y="426.5" width="20" height="1" fill="#6e6a28" opacity="0.45"/>
<rect x="119.9" y="428.0" width="20" height="1" fill="#6e6a28" opacity="0.50"/>
<rect x="119.9" y="430.0" width="20" height="1.5" fill="#6e6a28" opacity="0.60"/>
<rect x="119.9" y="432.5" width="20" height="1" fill="#6e6a28" opacity="0.40"/>
<rect x="119.9" y="434.0" width="20" height="1.5" fill="#6e6a28" opacity="0.60"/>
<rect x="119.9" y="436.0" width="20" height="1" fill="#6e6a28" opacity="0.45"/>
<rect x="119.9" y="437.5" width="20" height="1.2" fill="#6e6a28" opacity="0.55"/>
<rect x="119.9" y="439.5" width="20" height="1.5" fill="#6e6a28" opacity="0.60"/>
<rect x="119.9" y="365.9" width="20" height="0.8" fill="#8a8630" opacity="0.14"/>
<rect x="119.9" y="392.1" width="20" height="0.8" fill="#8a8630" opacity="0.13"/>
<rect x="119.9" y="382.9" width="20" height="0.8" fill="#8a8630" opacity="0.17"/>
<rect x="119.9" y="344.6" width="20" height="0.8" fill="#8a8630" opacity="0.20"/>
<rect x="119.9" y="343.0" width="20" height="0.8" fill="#8a8630" opacity="0.19"/>
<rect x="119.9" y="345.6" width="20" height="0.8" fill="#8a8630" opacity="0.13"/>
<rect x="119.9" y="374.0" width="20" height="0.8" fill="#8a8630" opacity="0.24"/>
<rect x="119.9" y="349.9" width="20" height="0.8" fill="#8a8630" opacity="0.15"/>
<rect x="119.9" y="390.2" width="20" height="0.8" fill="#8a8630" opacity="0.26"/>
<rect x="119.9" y="386.2" width="20" height="0.8" fill="#8a8630" opacity="0.18"/>
<path d="M148.4,289.8 H152.5 V356.8 H148.4" fill="none" stroke="#000" stroke-width="2"/>
<text transform="translate(171.20,322.30) rotate(-90)" x="0" y="3.60" font-size="10" fill="#111" text-anchor="middle" stroke="#111" stroke-width="0.28">1140</text>
<text transform="translate(68.2,359.6) rotate(-90)" font-size="10" fill="#222" text-anchor="middle" stroke="#222" stroke-width="0.28">% tags/kb (10<tspan font-size="6" dy="-4">−4</tspan><tspan dy="4">)</tspan></text>
<rect x="65.4" y="455.9" width="95.7" height="5.7" fill="url(#cb)"/>
<text x="56.80" y="463.60" font-size="10" fill="#222" text-anchor="middle" font-weight="normal"  stroke="#222" stroke-width="0.28">0</text>
<text x="174.70" y="463.60" font-size="10" fill="#222" text-anchor="middle" font-weight="normal"  stroke="#222" stroke-width="0.28">4</text>
<line x1="293.4" y1="260.9" x2="293.4" y2="352.4" stroke="#8a8a8a" stroke-width="1"/>
<line x1="293.4" y1="352.4" x2="419.4" y2="352.4" stroke="#8a8a8a" stroke-width="1"/>
<line x1="290.4" y1="352.40" x2="293.4" y2="352.40" stroke="#8a8a8a" stroke-width="1"/>
<text x="284.40" y="355.50" font-size="8.8" fill="#222" text-anchor="end" font-weight="normal"  stroke="#222" stroke-width="0.28">0</text>
<line x1="290.4" y1="334.10" x2="293.4" y2="334.10" stroke="#8a8a8a" stroke-width="1"/>
<text x="284.40" y="337.20" font-size="8.8" fill="#222" text-anchor="end" font-weight="normal"  stroke="#222" stroke-width="0.28">10</text>
<line x1="290.4" y1="315.80" x2="293.4" y2="315.80" stroke="#8a8a8a" stroke-width="1"/>
<text x="284.40" y="318.90" font-size="8.8" fill="#222" text-anchor="end" font-weight="normal"  stroke="#222" stroke-width="0.28">20</text>
<line x1="290.4" y1="297.50" x2="293.4" y2="297.50" stroke="#8a8a8a" stroke-width="1"/>
<text x="284.40" y="300.60" font-size="8.8" fill="#222" text-anchor="end" font-weight="normal"  stroke="#222" stroke-width="0.28">30</text>
<line x1="290.4" y1="279.20" x2="293.4" y2="279.20" stroke="#8a8a8a" stroke-width="1"/>
<text x="284.40" y="282.30" font-size="8.8" fill="#222" text-anchor="end" font-weight="normal"  stroke="#222" stroke-width="0.28">40</text>
<line x1="290.4" y1="260.90" x2="293.4" y2="260.90" stroke="#8a8a8a" stroke-width="1"/>
<text x="284.40" y="264.00" font-size="8.8" fill="#222" text-anchor="end" font-weight="normal"  stroke="#222" stroke-width="0.28">50</text>
<line x1="293.40" y1="352.4" x2="293.40" y2="355.4" stroke="#8a8a8a" stroke-width="1"/>
<line x1="318.60" y1="352.4" x2="318.60" y2="355.4" stroke="#8a8a8a" stroke-width="1"/>
<line x1="343.80" y1="352.4" x2="343.80" y2="355.4" stroke="#8a8a8a" stroke-width="1"/>
<line x1="369.00" y1="352.4" x2="369.00" y2="355.4" stroke="#8a8a8a" stroke-width="1"/>
<line x1="394.20" y1="352.4" x2="394.20" y2="355.4" stroke="#8a8a8a" stroke-width="1"/>
<line x1="419.40" y1="352.4" x2="419.40" y2="355.4" stroke="#8a8a8a" stroke-width="1"/>
<text x="261.90" y="311.40" font-size="12.5" fill="#222" text-anchor="middle" font-weight="normal"  stroke="#222" stroke-width="0.28">%</text>
<rect x="298.90" y="277.74" width="7.0" height="74.66" fill="#ef7a3e"/>
<rect x="305.90" y="336.66" width="7.0" height="15.74" fill="#2d4a9c"/>
<rect x="324.10" y="333.00" width="7.0" height="19.40" fill="#ef7a3e"/>
<rect x="331.10" y="345.45" width="7.0" height="6.95" fill="#2d4a9c"/>
<rect x="349.30" y="345.08" width="7.0" height="7.32" fill="#ef7a3e"/>
<rect x="356.30" y="334.10" width="7.0" height="18.30" fill="#2d4a9c"/>
<rect x="374.50" y="319.46" width="7.0" height="32.94" fill="#ef7a3e"/>
<rect x="381.50" y="287.80" width="7.0" height="64.60" fill="#2d4a9c"/>
<rect x="399.70" y="304.82" width="7.0" height="47.58" fill="#ef7a3e"/>
<rect x="406.70" y="276.09" width="7.0" height="76.31" fill="#2d4a9c"/>
<text transform="translate(303.00,366.80) rotate(45)" font-size="9.1" fill="#222" stroke="#222" stroke-width="0.28">promoter</text>
<text transform="translate(328.20,366.80) rotate(45)" font-size="9.1" fill="#222" stroke="#222" stroke-width="0.28">CpG island</text>
<text transform="translate(353.40,366.80) rotate(45)" font-size="9.1" fill="#222" stroke="#222" stroke-width="0.28">exon</text>
<text transform="translate(378.60,366.80) rotate(45)" font-size="9.1" fill="#222" stroke="#222" stroke-width="0.28">intron</text>
<text transform="translate(403.80,366.80) rotate(45)" font-size="9.1" fill="#222" stroke="#222" stroke-width="0.28">intergenic</text>
<rect x="450" y="264.4" width="5.4" height="5.2" fill="#ef7a3e"/>
<rect x="450" y="283.8" width="5.4" height="5.2" fill="#2d4a9c"/>
<text x="458.00" y="270.20" font-size="9" fill="#222" text-anchor="start" font-weight="normal" textLength="54.4" lengthAdjust="spacingAndGlyphs" stroke="#222" stroke-width="0.28">RUNX1/AML1</text>
<text x="458.00" y="289.60" font-size="9" fill="#222" text-anchor="start" font-weight="normal" textLength="42" lengthAdjust="spacingAndGlyphs" stroke="#222" stroke-width="0.28">AML1-ETO</text>
<text x="315.00" y="437.70" font-size="12" fill="#222" text-anchor="middle" font-weight="normal"  stroke="#222" stroke-width="0.28">RUNX1</text>
<text x="437.80" y="430.80" font-size="12" fill="#222" text-anchor="middle" font-weight="normal"  stroke="#222" stroke-width="0.28">ETS</text>
<text transform="translate(281.56,468.30) scale(0.1993,0.2510)" font-size="100" font-weight="bold" fill="#c42a2e" stroke="#c42a2e" stroke-width="0.7" vector-effect="non-scaling-stroke" stroke-linejoin="round">T</text>
<text transform="translate(292.63,466.47) scale(0.1596,0.1440)" font-size="100" font-weight="bold" fill="#f0a424" stroke="#f0a424" stroke-width="0.7" vector-effect="non-scaling-stroke" stroke-linejoin="round">G</text>
<text transform="translate(293.37,467.52) scale(0.1489,0.0160)" font-size="100" font-weight="bold" fill="#3050b0" stroke="#3050b0" stroke-width="0.3" vector-effect="non-scaling-stroke" stroke-linejoin="round">C</text>
<text transform="translate(304.74,465.40) scale(0.1623,0.0604)" font-size="100" font-weight="bold" fill="#c42a2e" stroke="#c42a2e" stroke-width="0.3" vector-effect="non-scaling-stroke" stroke-linejoin="round">T</text>
<text transform="translate(304.94,466.62) scale(0.1332,0.0160)" font-size="100" font-weight="bold" fill="#3050b0" stroke="#3050b0" stroke-width="0.3" vector-effect="non-scaling-stroke" stroke-linejoin="round">C</text>
<text transform="translate(304.98,468.33) scale(0.1245,0.0227)" font-size="100" font-weight="bold" fill="#f0a424" stroke="#f0a424" stroke-width="0.3" vector-effect="non-scaling-stroke" stroke-linejoin="round">G</text>
<text transform="translate(314.47,468.62) scale(0.1728,0.2680)" font-size="100" font-weight="bold" fill="#f0a424" stroke="#f0a424" stroke-width="0.7" vector-effect="non-scaling-stroke" stroke-linejoin="round">G</text>
<text transform="translate(327.27,468.62) scale(0.1742,0.2680)" font-size="100" font-weight="bold" fill="#f0a424" stroke="#f0a424" stroke-width="0.7" vector-effect="non-scaling-stroke" stroke-linejoin="round">G</text>
<text transform="translate(339.48,468.30) scale(0.1922,0.2881)" font-size="100" font-weight="bold" fill="#c42a2e" stroke="#c42a2e" stroke-width="0.7" vector-effect="non-scaling-stroke" stroke-linejoin="round">T</text>
<text transform="translate(351.34,464.80) scale(0.1623,0.0521)" font-size="100" font-weight="bold" fill="#c42a2e" stroke="#c42a2e" stroke-width="0.3" vector-effect="non-scaling-stroke" stroke-linejoin="round">T</text>
<text transform="translate(351.67,468.40) scale(0.1281,0.0494)" font-size="100" font-weight="bold" fill="#24a04a" stroke="#24a04a" stroke-width="0.3" vector-effect="non-scaling-stroke" stroke-linejoin="round">A</text>
<rect x="389" y="466.4" width="14" height="1.4" fill="#b0a060"/>
<rect x="404" y="466.6" width="28" height="1.4" fill="#8a90b0"/>
<text transform="translate(402.33,466.50) scale(0.2064,0.1640)" font-size="100" font-weight="bold" fill="#f0a424" stroke="#f0a424" stroke-width="0.7" vector-effect="non-scaling-stroke" stroke-linejoin="round">G</text>
<text transform="translate(416.34,466.86) scale(0.2284,0.2160)" font-size="100" font-weight="bold" fill="#f0a424" stroke="#f0a424" stroke-width="0.7" vector-effect="non-scaling-stroke" stroke-linejoin="round">G</text>
<text transform="translate(432.86,468.40) scale(0.2047,0.3251)" font-size="100" font-weight="bold" fill="#24a04a" stroke="#24a04a" stroke-width="0.7" vector-effect="non-scaling-stroke" stroke-linejoin="round">A</text>
<text transform="translate(447.56,468.40) scale(0.2103,0.3251)" font-size="100" font-weight="bold" fill="#24a04a" stroke="#24a04a" stroke-width="0.7" vector-effect="non-scaling-stroke" stroke-linejoin="round">A</text>
<text transform="translate(462.99,465.25) scale(0.1918,0.0427)" font-size="100" font-weight="bold" fill="#f0a424" stroke="#f0a424" stroke-width="0.3" vector-effect="non-scaling-stroke" stroke-linejoin="round">G</text>
<text transform="translate(462.94,467.64) scale(0.2053,0.0320)" font-size="100" font-weight="bold" fill="#3050b0" stroke="#3050b0" stroke-width="0.3" vector-effect="non-scaling-stroke" stroke-linejoin="round">C</text>
<text x="39.40" y="535.00" font-size="6.4" fill="#333" text-anchor="end" font-weight="bold" textLength="19.4" lengthAdjust="spacingAndGlyphs" stroke="#333" stroke-width="0.28">chr18:</text>
<line x1="39.6" y1="537" x2="39.6" y2="640" stroke="#ecdede" stroke-width="0.8"/>
<text x="33.60" y="543.30" font-size="6.8" fill="#d05a5e" text-anchor="end" font-weight="normal"  stroke="#d05a5e" stroke-width="0.28">303</text>
<line x1="35.5" y1="543.40" x2="38.6" y2="543.40" stroke="#d05a5e" stroke-width="0.6"/>
<text x="33.20" y="566.10" font-size="6.8" fill="#d05a5e" text-anchor="end" font-weight="normal"  stroke="#d05a5e" stroke-width="0.28">1</text>
<line x1="35.5" y1="567.40" x2="38.6" y2="567.40" stroke="#d05a5e" stroke-width="0.6"/>
<text x="33.60" y="574.40" font-size="6.8" fill="#dccf88" text-anchor="end" font-weight="normal"  stroke="#dccf88" stroke-width="0.28">134</text>
<line x1="35.5" y1="574.50" x2="38.6" y2="574.50" stroke="#dccf88" stroke-width="0.6"/>
<text x="33.20" y="597.20" font-size="6.8" fill="#dccf88" text-anchor="end" font-weight="normal"  stroke="#dccf88" stroke-width="0.28">1</text>
<line x1="35.5" y1="598.50" x2="38.6" y2="598.50" stroke="#dccf88" stroke-width="0.6"/>
<text x="33.60" y="606.50" font-size="6.8" fill="#8a7a9c" text-anchor="end" font-weight="normal"  stroke="#8a7a9c" stroke-width="0.28">237</text>
<line x1="35.5" y1="606.60" x2="38.6" y2="606.60" stroke="#8a7a9c" stroke-width="0.6"/>
<text x="33.20" y="629.30" font-size="6.8" fill="#8a7a9c" text-anchor="end" font-weight="normal"  stroke="#8a7a9c" stroke-width="0.28">1</text>
<line x1="35.5" y1="630.60" x2="38.6" y2="630.60" stroke="#8a7a9c" stroke-width="0.6"/>
<text x="28.10" y="556.60" font-size="9.8" fill="#d43a40" text-anchor="end" font-weight="normal"  stroke="#d43a40" stroke-width="0.28">AE</text>
<text x="29.60" y="589.10" font-size="9.8" fill="#e4d27a" text-anchor="end" font-weight="normal"  stroke="#e4d27a" stroke-width="0.28">ERG</text>
<text x="29.00" y="620.20" font-size="9.8" fill="#a088a8" text-anchor="end" font-weight="normal"  stroke="#a088a8" stroke-width="0.28">FLI1</text>
<path d="M150,567.4 C151.6,566 152.4,548 153.4,544.5 C154.4,548 155.2,566 157.2,566.6 L161,567.4Z" fill="#dc2228"/>
<path d="M151,598.6 C151.6,596 152,580 152.6,576 L157.8,597.5 L160.5,598.6Z" fill="#eea21e"/>
<path d="M151,630.7 C151.5,628 152,612 152.6,607.7 L155.8,622.5 L157.6,624 L157.6,630.7Z" fill="#a64aa6"/>
<line x1="44.9" y1="566.9499999999999" x2="51" y2="566.9499999999999" stroke="#dc2228" stroke-width="0.9" opacity="0.6"/>
<line x1="62.2" y1="566.9499999999999" x2="71.7" y2="566.9499999999999" stroke="#dc2228" stroke-width="0.9" opacity="0.6"/>
<line x1="75.2" y1="566.9499999999999" x2="78.7" y2="566.9499999999999" stroke="#dc2228" stroke-width="0.9" opacity="0.6"/>
<line x1="81.3" y1="566.9499999999999" x2="103.7" y2="566.9499999999999" stroke="#dc2228" stroke-width="0.9" opacity="0.6"/>
<line x1="106.3" y1="566.9499999999999" x2="114.1" y2="566.9499999999999" stroke="#dc2228" stroke-width="0.9" opacity="0.6"/>
<line x1="124.5" y1="566.9499999999999" x2="144" y2="566.9499999999999" stroke="#dc2228" stroke-width="0.9" opacity="0.6"/>
<line x1="146" y1="566.9499999999999" x2="150" y2="566.9499999999999" stroke="#dc2228" stroke-width="0.9" opacity="0.6"/>
<line x1="157" y1="566.9499999999999" x2="210" y2="566.9499999999999" stroke="#dc2228" stroke-width="0.9" opacity="0.6"/>
<line x1="40" y1="598.05" x2="44" y2="598.05" stroke="#eea21e" stroke-width="0.9" opacity="0.45"/>
<line x1="51.8" y1="598.05" x2="84.7" y2="598.05" stroke="#eea21e" stroke-width="0.9" opacity="0.45"/>
<line x1="95" y1="598.05" x2="102" y2="598.05" stroke="#eea21e" stroke-width="0.9" opacity="0.45"/>
<line x1="109" y1="598.05" x2="112" y2="598.05" stroke="#eea21e" stroke-width="0.9" opacity="0.45"/>
<line x1="121" y1="598.05" x2="125" y2="598.05" stroke="#eea21e" stroke-width="0.9" opacity="0.45"/>
<line x1="127" y1="598.05" x2="131" y2="598.05" stroke="#eea21e" stroke-width="0.9" opacity="0.45"/>
<line x1="135" y1="598.05" x2="139" y2="598.05" stroke="#eea21e" stroke-width="0.9" opacity="0.45"/>
<line x1="142" y1="598.05" x2="145" y2="598.05" stroke="#eea21e" stroke-width="0.9" opacity="0.45"/>
<line x1="147" y1="598.05" x2="151" y2="598.05" stroke="#eea21e" stroke-width="0.9" opacity="0.45"/>
<line x1="160" y1="598.05" x2="162" y2="598.05" stroke="#eea21e" stroke-width="0.9" opacity="0.45"/>
<line x1="176" y1="598.05" x2="184" y2="598.05" stroke="#eea21e" stroke-width="0.9" opacity="0.45"/>
<line x1="186" y1="598.05" x2="190" y2="598.05" stroke="#eea21e" stroke-width="0.9" opacity="0.45"/>
<line x1="194" y1="598.05" x2="210" y2="598.05" stroke="#eea21e" stroke-width="0.9" opacity="0.45"/>
<line x1="52.7" y1="630.15" x2="76.9" y2="630.15" stroke="#a64aa6" stroke-width="0.9" opacity="0.6"/>
<line x1="82.1" y1="630.15" x2="88.2" y2="630.15" stroke="#a64aa6" stroke-width="0.9" opacity="0.6"/>
<line x1="93.4" y1="630.15" x2="100.3" y2="630.15" stroke="#a64aa6" stroke-width="0.9" opacity="0.6"/>
<line x1="103.7" y1="630.15" x2="115" y2="630.15" stroke="#a64aa6" stroke-width="0.9" opacity="0.6"/>
<line x1="117.6" y1="630.15" x2="120.2" y2="630.15" stroke="#a64aa6" stroke-width="0.9" opacity="0.6"/>
<line x1="126.2" y1="630.15" x2="136" y2="630.15" stroke="#a64aa6" stroke-width="0.9" opacity="0.6"/>
<line x1="140" y1="630.15" x2="143" y2="630.15" stroke="#a64aa6" stroke-width="0.9" opacity="0.6"/>
<line x1="158" y1="630.15" x2="161" y2="630.15" stroke="#a64aa6" stroke-width="0.9" opacity="0.6"/>
<line x1="181" y1="630.15" x2="209" y2="630.15" stroke="#a64aa6" stroke-width="0.9" opacity="0.6"/>
<path d="M61.5,598.5 Q64,594.9 66.5,598.5Z" fill="#eea21e" opacity="0.8"/>
<path d="M108.2,598.5 Q110.7,594.5 113.2,598.5Z" fill="#eea21e" opacity="0.8"/>
<path d="M180.5,567.4 Q183,564.4 185.5,567.4Z" fill="#dc2228" opacity="0.8"/>
<path d="M188.5,567.4 Q191,564.4 193.5,567.4Z" fill="#dc2228" opacity="0.8"/>
<path d="M179.5,630.6 Q182,627.6 184.5,630.6Z" fill="#a64aa6" opacity="0.8"/>
<path d="M65.5,630.6 Q68,628.6 70.5,630.6Z" fill="#a64aa6" opacity="0.8"/>
<path d="M82.5,567.4 Q85,565.4 87.5,567.4Z" fill="#dc2228" opacity="0.8"/>
<rect x="39.7" y="641" width="34.6" height="4.4" fill="#000"/>
<line x1="74.2" y1="638.9" x2="74.2" y2="646.7" stroke="#000" stroke-width="1.2"/>
<line x1="74.8" y1="643.2" x2="209.8" y2="643.2" stroke="#a8a8a8" stroke-width="2" stroke-dasharray="1.6 1.2"/>
<text x="38.80" y="646.40" font-size="6.8" fill="#222" text-anchor="end" font-weight="normal" textLength="15.4" lengthAdjust="spacingAndGlyphs" stroke="#222" stroke-width="0.28">BCL2</text>
<text transform="translate(279.90,510.60) rotate(-90)" x="0" y="3.60" font-size="10" fill="#111" text-anchor="middle" stroke="#111" stroke-width="0.28">ERG</text>
<text transform="translate(309.60,512.00) rotate(-90)" x="0" y="3.60" font-size="10" fill="#111" text-anchor="middle" stroke="#111" stroke-width="0.28">FLI1</text>
<defs><linearGradient id="sg" x1="0" y1="0" x2="1" y2="0"><stop offset="0" stop-color="#e8222a" stop-opacity="0"/><stop offset="0.3" stop-color="#e2141c"/><stop offset="0.7" stop-color="#e2141c"/><stop offset="1" stop-color="#e8222a" stop-opacity="0"/></linearGradient><linearGradient id="sglow" x1="0" y1="0" x2="1" y2="0"><stop offset="0" stop-color="#ea3a40" stop-opacity="0"/><stop offset="0.5" stop-color="#ea3a40" stop-opacity="0.55"/><stop offset="1" stop-color="#ea3a40" stop-opacity="0"/></linearGradient><linearGradient id="gbg" x1="0" y1="0" x2="0" y2="1"><stop offset="0" stop-color="#f0989a"/><stop offset="0.5" stop-color="#f3a6a7"/><stop offset="1" stop-color="#f6b2b2"/></linearGradient></defs>
<rect x="263.4" y="527.8" width="60.4" height="155" fill="url(#gbg)"/>
<rect x="263.4" y="527.8" width="5.9" height="1" fill="#d8747a" opacity="0.40"/>
<rect x="269.3" y="527.8" width="2.8" height="1" fill="#d8747a" opacity="0.14"/>
<rect x="272.1" y="527.8" width="2.9" height="1" fill="#fdd8d4" opacity="0.12"/>
<rect x="275.0" y="527.8" width="4.1" height="1" fill="#fdd8d4" opacity="0.17"/>
<rect x="279.1" y="527.8" width="4.0" height="1" fill="#d8747a" opacity="0.12"/>
<rect x="283.1" y="527.8" width="2.4" height="1" fill="#fdd8d4" opacity="0.19"/>
<rect x="285.5" y="527.8" width="2.9" height="1" fill="#fdd8d4" opacity="0.20"/>
<rect x="288.4" y="527.8" width="2.8" height="1" fill="#fdd8d4" opacity="0.27"/>
<rect x="291.3" y="527.8" width="2.6" height="1" fill="#fdd8d4" opacity="0.22"/>
<rect x="293.9" y="527.8" width="5.4" height="1" fill="#fdd8d4" opacity="0.15"/>
<rect x="299.3" y="527.8" width="5.9" height="1" fill="#d8747a" opacity="0.25"/>
<rect x="305.2" y="527.8" width="4.9" height="1" fill="#d8747a" opacity="0.27"/>
<rect x="310.1" y="527.8" width="1.7" height="1" fill="#fdd8d4" opacity="0.28"/>
<rect x="311.8" y="527.8" width="4.1" height="1" fill="#fdd8d4" opacity="0.16"/>
<rect x="315.9" y="527.8" width="4.6" height="1" fill="#fdd8d4" opacity="0.23"/>
<rect x="320.5" y="527.8" width="3.3" height="1" fill="#fdd8d4" opacity="0.33"/>
<rect x="263.4" y="528.8" width="3.6" height="1" fill="#fdd8d4" opacity="0.09"/>
<rect x="267.0" y="528.8" width="4.7" height="1" fill="#fdd8d4" opacity="0.35"/>
<rect x="271.7" y="528.8" width="5.2" height="1" fill="#d8747a" opacity="0.23"/>
<rect x="276.9" y="528.8" width="4.5" height="1" fill="#d8747a" opacity="0.26"/>
<rect x="281.4" y="528.8" width="2.3" height="1" fill="#d8747a" opacity="0.12"/>
<rect x="283.7" y="528.8" width="5.0" height="1" fill="#d8747a" opacity="0.19"/>
<rect x="288.6" y="528.8" width="3.3" height="1" fill="#fdd8d4" opacity="0.09"/>
<rect x="291.9" y="528.8" width="3.5" height="1" fill="#fdd8d4" opacity="0.32"/>
<rect x="295.4" y="528.8" width="5.2" height="1" fill="#fdd8d4" opacity="0.15"/>
<rect x="300.6" y="528.8" width="3.4" height="1" fill="#d8747a" opacity="0.41"/>
<rect x="303.9" y="528.8" width="5.8" height="1" fill="#d8747a" opacity="0.16"/>
<rect x="309.8" y="528.8" width="2.5" height="1" fill="#d8747a" opacity="0.27"/>
<rect x="312.3" y="528.8" width="4.2" height="1" fill="#d8747a" opacity="0.10"/>
<rect x="316.5" y="528.8" width="3.4" height="1" fill="#d8747a" opacity="0.30"/>
<rect x="319.8" y="528.8" width="4.0" height="1" fill="#fdd8d4" opacity="0.22"/>
<rect x="263.4" y="529.8" width="4.3" height="1" fill="#fdd8d4" opacity="0.09"/>
<rect x="267.7" y="529.8" width="5.5" height="1" fill="#fdd8d4" opacity="0.32"/>
<rect x="273.2" y="529.8" width="5.1" height="1" fill="#d8747a" opacity="0.24"/>
<rect x="278.3" y="529.8" width="2.0" height="1" fill="#fdd8d4" opacity="0.09"/>
<rect x="280.3" y="529.8" width="1.8" height="1" fill="#d8747a" opacity="0.16"/>
<rect x="282.1" y="529.8" width="3.0" height="1" fill="#d8747a" opacity="0.10"/>
<rect x="285.1" y="529.8" width="2.2" height="1" fill="#d8747a" opacity="0.23"/>
<rect x="287.3" y="529.8" width="1.6" height="1" fill="#fdd8d4" opacity="0.24"/>
<rect x="288.9" y="529.8" width="2.2" height="1" fill="#d8747a" opacity="0.22"/>
<rect x="291.1" y="529.8" width="3.1" height="1" fill="#d8747a" opacity="0.40"/>
<rect x="294.2" y="529.8" width="6.0" height="1" fill="#fdd8d4" opacity="0.21"/>
<rect x="300.2" y="529.8" width="1.9" height="1" fill="#d8747a" opacity="0.22"/>
<rect x="302.1" y="529.8" width="2.7" height="1" fill="#fdd8d4" opacity="0.12"/>
<rect x="304.8" y="529.8" width="1.6" height="1" fill="#fdd8d4" opacity="0.22"/>
<rect x="306.4" y="529.8" width="2.2" height="1" fill="#fdd8d4" opacity="0.08"/>
<rect x="308.5" y="529.8" width="3.9" height="1" fill="#fdd8d4" opacity="0.31"/>
<rect x="312.4" y="529.8" width="4.6" height="1" fill="#d8747a" opacity="0.23"/>
<rect x="317.0" y="529.8" width="2.3" height="1" fill="#fdd8d4" opacity="0.22"/>
<rect x="319.3" y="529.8" width="4.5" height="1" fill="#d8747a" opacity="0.18"/>
<rect x="263.4" y="530.8" width="5.2" height="1" fill="#fdd8d4" opacity="0.31"/>
<rect x="268.6" y="530.8" width="5.1" height="1" fill="#fdd8d4" opacity="0.28"/>
<rect x="273.7" y="530.8" width="2.5" height="1" fill="#fdd8d4" opacity="0.17"/>
<rect x="276.2" y="530.8" width="1.6" height="1" fill="#d8747a" opacity="0.20"/>
<rect x="277.8" y="530.8" width="2.7" height="1" fill="#fdd8d4" opacity="0.34"/>
<rect x="280.5" y="530.8" width="3.5" height="1" fill="#fdd8d4" opacity="0.35"/>
<rect x="284.0" y="530.8" width="5.8" height="1" fill="#d8747a" opacity="0.18"/>
<rect x="289.8" y="530.8" width="2.5" height="1" fill="#d8747a" opacity="0.17"/>
<rect x="292.3" y="530.8" width="4.3" height="1" fill="#fdd8d4" opacity="0.31"/>
<rect x="296.6" y="530.8" width="3.7" height="1" fill="#fdd8d4" opacity="0.30"/>
<rect x="300.3" y="530.8" width="1.9" height="1" fill="#fdd8d4" opacity="0.33"/>
<rect x="302.2" y="530.8" width="5.0" height="1" fill="#fdd8d4" opacity="0.21"/>
<rect x="307.2" y="530.8" width="2.3" height="1" fill="#fdd8d4" opacity="0.17"/>
<rect x="309.5" y="530.8" width="5.1" height="1" fill="#fdd8d4" opacity="0.18"/>
<rect x="314.6" y="530.8" width="3.3" height="1" fill="#fdd8d4" opacity="0.28"/>
<rect x="317.9" y="530.8" width="2.3" height="1" fill="#d8747a" opacity="0.15"/>
<rect x="320.2" y="530.8" width="3.6" height="1" fill="#fdd8d4" opacity="0.11"/>
<rect x="263.4" y="531.8" width="5.2" height="1" fill="#fdd8d4" opacity="0.26"/>
<rect x="268.6" y="531.8" width="3.1" height="1" fill="#fdd8d4" opacity="0.11"/>
<rect x="271.7" y="531.8" width="1.6" height="1" fill="#fdd8d4" opacity="0.26"/>
<rect x="273.3" y="531.8" width="3.9" height="1" fill="#fdd8d4" opacity="0.19"/>
<rect x="277.1" y="531.8" width="5.4" height="1" fill="#fdd8d4" opacity="0.13"/>
<rect x="282.6" y="531.8" width="2.6" height="1" fill="#d8747a" opacity="0.18"/>
<rect x="285.2" y="531.8" width="4.1" height="1" fill="#d8747a" opacity="0.24"/>
<rect x="289.3" y="531.8" width="2.1" height="1" fill="#fdd8d4" opacity="0.17"/>
<rect x="291.4" y="531.8" width="3.6" height="1" fill="#fdd8d4" opacity="0.33"/>
<rect x="295.0" y="531.8" width="3.4" height="1" fill="#fdd8d4" opacity="0.21"/>
<rect x="298.4" y="531.8" width="3.9" height="1" fill="#fdd8d4" opacity="0.08"/>
<rect x="302.3" y="531.8" width="3.5" height="1" fill="#d8747a" opacity="0.10"/>
<rect x="305.7" y="531.8" width="5.1" height="1" fill="#d8747a" opacity="0.26"/>
<rect x="310.8" y="531.8" width="4.8" height="1" fill="#fdd8d4" opacity="0.16"/>
<rect x="315.6" y="531.8" width="3.8" height="1" fill="#fdd8d4" opacity="0.29"/>
<rect x="319.4" y="531.8" width="2.0" height="1" fill="#fdd8d4" opacity="0.14"/>
<rect x="321.4" y="531.8" width="2.4" height="1" fill="#fdd8d4" opacity="0.22"/>
<rect x="263.4" y="532.8" width="4.0" height="1" fill="#fdd8d4" opacity="0.33"/>
<rect x="267.4" y="532.8" width="3.5" height="1" fill="#fdd8d4" opacity="0.22"/>
<rect x="270.9" y="532.8" width="3.8" height="1" fill="#fdd8d4" opacity="0.20"/>
<rect x="274.7" y="532.8" width="3.9" height="1" fill="#fdd8d4" opacity="0.34"/>
<rect x="278.6" y="532.8" width="4.6" height="1" fill="#fdd8d4" opacity="0.34"/>
<rect x="283.3" y="532.8" width="2.7" height="1" fill="#fdd8d4" opacity="0.34"/>
<rect x="285.9" y="532.8" width="5.3" height="1" fill="#d8747a" opacity="0.14"/>
<rect x="291.2" y="532.8" width="3.5" height="1" fill="#d8747a" opacity="0.18"/>
<rect x="294.7" y="532.8" width="1.8" height="1" fill="#fdd8d4" opacity="0.30"/>
<rect x="296.5" y="532.8" width="5.5" height="1" fill="#d8747a" opacity="0.35"/>
<rect x="302.1" y="532.8" width="4.5" height="1" fill="#d8747a" opacity="0.41"/>
<rect x="306.5" y="532.8" width="5.9" height="1" fill="#d8747a" opacity="0.43"/>
<rect x="312.4" y="532.8" width="3.3" height="1" fill="#fdd8d4" opacity="0.36"/>
<rect x="315.7" y="532.8" width="5.2" height="1" fill="#d8747a" opacity="0.25"/>
<rect x="320.9" y="532.8" width="2.9" height="1" fill="#d8747a" opacity="0.17"/>
<rect x="263.4" y="533.8" width="2.9" height="1" fill="#fdd8d4" opacity="0.08"/>
<rect x="266.3" y="533.8" width="4.0" height="1" fill="#d8747a" opacity="0.11"/>
<rect x="270.3" y="533.8" width="3.0" height="1" fill="#fdd8d4" opacity="0.22"/>
<rect x="273.3" y="533.8" width="1.8" height="1" fill="#fdd8d4" opacity="0.30"/>
<rect x="275.1" y="533.8" width="5.9" height="1" fill="#d8747a" opacity="0.19"/>
<rect x="281.0" y="533.8" width="1.7" height="1" fill="#fdd8d4" opacity="0.15"/>
<rect x="282.7" y="533.8" width="2.1" height="1" fill="#d8747a" opacity="0.41"/>
<rect x="284.7" y="533.8" width="5.2" height="1" fill="#d8747a" opacity="0.15"/>
<rect x="289.9" y="533.8" width="5.6" height="1" fill="#fdd8d4" opacity="0.27"/>
<rect x="295.6" y="533.8" width="1.9" height="1" fill="#d8747a" opacity="0.34"/>
<rect x="297.5" y="533.8" width="3.4" height="1" fill="#d8747a" opacity="0.42"/>
<rect x="300.9" y="533.8" width="4.4" height="1" fill="#fdd8d4" opacity="0.10"/>
<rect x="305.2" y="533.8" width="5.4" height="1" fill="#d8747a" opacity="0.40"/>
<rect x="310.6" y="533.8" width="3.5" height="1" fill="#d8747a" opacity="0.29"/>
<rect x="314.1" y="533.8" width="5.7" height="1" fill="#d8747a" opacity="0.14"/>
<rect x="319.8" y="533.8" width="3.9" height="1" fill="#d8747a" opacity="0.14"/>
<rect x="323.7" y="533.8" width="0.1" height="1" fill="#d8747a" opacity="0.17"/>
<rect x="263.4" y="534.8" width="2.9" height="1" fill="#d8747a" opacity="0.36"/>
<rect x="266.3" y="534.8" width="2.8" height="1" fill="#fdd8d4" opacity="0.12"/>
<rect x="269.1" y="534.8" width="3.1" height="1" fill="#d8747a" opacity="0.19"/>
<rect x="272.2" y="534.8" width="1.6" height="1" fill="#fdd8d4" opacity="0.23"/>
<rect x="273.7" y="534.8" width="2.4" height="1" fill="#fdd8d4" opacity="0.34"/>
<rect x="276.1" y="534.8" width="2.0" height="1" fill="#fdd8d4" opacity="0.20"/>
<rect x="278.1" y="534.8" width="3.7" height="1" fill="#fdd8d4" opacity="0.19"/>
<rect x="281.8" y="534.8" width="3.8" height="1" fill="#fdd8d4" opacity="0.36"/>
<rect x="285.6" y="534.8" width="3.0" height="1" fill="#fdd8d4" opacity="0.28"/>
<rect x="288.6" y="534.8" width="4.4" height="1" fill="#d8747a" opacity="0.22"/>
<rect x="293.0" y="534.8" width="1.7" height="1" fill="#d8747a" opacity="0.12"/>
<rect x="294.7" y="534.8" width="4.8" height="1" fill="#d8747a" opacity="0.16"/>
<rect x="299.6" y="534.8" width="1.9" height="1" fill="#fdd8d4" opacity="0.32"/>
<rect x="301.4" y="534.8" width="4.5" height="1" fill="#d8747a" opacity="0.18"/>
<rect x="306.0" y="534.8" width="2.8" height="1" fill="#fdd8d4" opacity="0.12"/>
<rect x="308.8" y="534.8" width="3.5" height="1" fill="#d8747a" opacity="0.43"/>
<rect x="312.3" y="534.8" width="5.9" height="1" fill="#fdd8d4" opacity="0.14"/>
<rect x="318.2" y="534.8" width="5.6" height="1" fill="#d8747a" opacity="0.22"/>
<rect x="263.4" y="535.8" width="1.5" height="1" fill="#d8747a" opacity="0.26"/>
<rect x="264.9" y="535.8" width="3.8" height="1" fill="#d8747a" opacity="0.27"/>
<rect x="268.7" y="535.8" width="1.5" height="1" fill="#d8747a" opacity="0.13"/>
<rect x="270.2" y="535.8" width="3.3" height="1" fill="#d8747a" opacity="0.11"/>
<rect x="273.5" y="535.8" width="2.9" height="1" fill="#d8747a" opacity="0.30"/>
<rect x="276.4" y="535.8" width="3.9" height="1" fill="#fdd8d4" opacity="0.26"/>
<rect x="280.2" y="535.8" width="4.7" height="1" fill="#fdd8d4" opacity="0.19"/>
<rect x="285.0" y="535.8" width="3.0" height="1" fill="#fdd8d4" opacity="0.12"/>
<rect x="287.9" y="535.8" width="4.8" height="1" fill="#fdd8d4" opacity="0.09"/>
<rect x="292.7" y="535.8" width="5.3" height="1" fill="#fdd8d4" opacity="0.25"/>
<rect x="297.9" y="535.8" width="4.8" height="1" fill="#fdd8d4" opacity="0.11"/>
<rect x="302.7" y="535.8" width="3.9" height="1" fill="#fdd8d4" opacity="0.31"/>
<rect x="306.6" y="535.8" width="5.1" height="1" fill="#fdd8d4" opacity="0.24"/>
<rect x="311.7" y="535.8" width="5.5" height="1" fill="#fdd8d4" opacity="0.27"/>
<rect x="317.2" y="535.8" width="2.5" height="1" fill="#d8747a" opacity="0.14"/>
<rect x="319.8" y="535.8" width="3.1" height="1" fill="#d8747a" opacity="0.39"/>
<rect x="322.9" y="535.8" width="0.9" height="1" fill="#fdd8d4" opacity="0.25"/>
<rect x="263.4" y="536.8" width="4.6" height="1" fill="#fdd8d4" opacity="0.07"/>
<rect x="268.0" y="536.8" width="5.1" height="1" fill="#fdd8d4" opacity="0.22"/>
<rect x="273.1" y="536.8" width="3.9" height="1" fill="#fdd8d4" opacity="0.09"/>
<rect x="277.0" y="536.8" width="4.8" height="1" fill="#d8747a" opacity="0.12"/>
<rect x="281.8" y="536.8" width="2.7" height="1" fill="#fdd8d4" opacity="0.13"/>
<rect x="284.5" y="536.8" width="4.8" height="1" fill="#fdd8d4" opacity="0.22"/>
<rect x="289.3" y="536.8" width="3.2" height="1" fill="#fdd8d4" opacity="0.27"/>
<rect x="292.5" y="536.8" width="5.0" height="1" fill="#fdd8d4" opacity="0.26"/>
<rect x="297.5" y="536.8" width="1.8" height="1" fill="#d8747a" opacity="0.19"/>
<rect x="299.3" y="536.8" width="4.8" height="1" fill="#d8747a" opacity="0.29"/>
<rect x="304.2" y="536.8" width="1.6" height="1" fill="#d8747a" opacity="0.19"/>
<rect x="305.7" y="536.8" width="4.5" height="1" fill="#fdd8d4" opacity="0.27"/>
<rect x="310.2" y="536.8" width="2.8" height="1" fill="#fdd8d4" opacity="0.21"/>
<rect x="313.1" y="536.8" width="3.6" height="1" fill="#d8747a" opacity="0.41"/>
<rect x="316.7" y="536.8" width="2.4" height="1" fill="#fdd8d4" opacity="0.35"/>
<rect x="319.1" y="536.8" width="1.6" height="1" fill="#fdd8d4" opacity="0.31"/>
<rect x="320.6" y="536.8" width="3.2" height="1" fill="#d8747a" opacity="0.19"/>
<rect x="263.4" y="537.8" width="2.4" height="1" fill="#fdd8d4" opacity="0.13"/>
<rect x="265.8" y="537.8" width="4.1" height="1" fill="#d8747a" opacity="0.28"/>
<rect x="270.0" y="537.8" width="5.8" height="1" fill="#d8747a" opacity="0.38"/>
<rect x="275.7" y="537.8" width="3.8" height="1" fill="#fdd8d4" opacity="0.28"/>
<rect x="279.5" y="537.8" width="2.5" height="1" fill="#fdd8d4" opacity="0.22"/>
<rect x="282.1" y="537.8" width="1.6" height="1" fill="#d8747a" opacity="0.27"/>
<rect x="283.7" y="537.8" width="3.5" height="1" fill="#d8747a" opacity="0.15"/>
<rect x="287.2" y="537.8" width="3.0" height="1" fill="#d8747a" opacity="0.39"/>
<rect x="290.3" y="537.8" width="1.5" height="1" fill="#fdd8d4" opacity="0.32"/>
<rect x="291.8" y="537.8" width="2.0" height="1" fill="#fdd8d4" opacity="0.28"/>
<rect x="293.8" y="537.8" width="5.6" height="1" fill="#d8747a" opacity="0.23"/>
<rect x="299.4" y="537.8" width="3.3" height="1" fill="#fdd8d4" opacity="0.25"/>
<rect x="302.6" y="537.8" width="3.1" height="1" fill="#d8747a" opacity="0.19"/>
<rect x="305.8" y="537.8" width="1.7" height="1" fill="#d8747a" opacity="0.38"/>
<rect x="307.5" y="537.8" width="2.8" height="1" fill="#fdd8d4" opacity="0.15"/>
<rect x="310.3" y="537.8" width="2.7" height="1" fill="#fdd8d4" opacity="0.13"/>
<rect x="313.0" y="537.8" width="3.2" height="1" fill="#fdd8d4" opacity="0.33"/>
<rect x="316.1" y="537.8" width="5.2" height="1" fill="#fdd8d4" opacity="0.34"/>
<rect x="321.3" y="537.8" width="2.5" height="1" fill="#fdd8d4" opacity="0.28"/>
<rect x="263.4" y="538.8" width="1.7" height="1" fill="#fdd8d4" opacity="0.21"/>
<rect x="265.1" y="538.8" width="4.9" height="1" fill="#fdd8d4" opacity="0.16"/>
<rect x="270.0" y="538.8" width="1.7" height="1" fill="#fdd8d4" opacity="0.11"/>
<rect x="271.7" y="538.8" width="3.6" height="1" fill="#d8747a" opacity="0.20"/>
<rect x="275.4" y="538.8" width="4.8" height="1" fill="#fdd8d4" opacity="0.15"/>
<rect x="280.2" y="538.8" width="4.5" height="1" fill="#d8747a" opacity="0.29"/>
<rect x="284.6" y="538.8" width="3.3" height="1" fill="#d8747a" opacity="0.15"/>
<rect x="287.9" y="538.8" width="2.4" height="1" fill="#fdd8d4" opacity="0.22"/>
<rect x="290.3" y="538.8" width="2.5" height="1" fill="#fdd8d4" opacity="0.37"/>
<rect x="292.8" y="538.8" width="3.5" height="1" fill="#d8747a" opacity="0.16"/>
<rect x="296.4" y="538.8" width="1.9" height="1" fill="#d8747a" opacity="0.13"/>
<rect x="298.3" y="538.8" width="2.6" height="1" fill="#d8747a" opacity="0.29"/>
<rect x="300.8" y="538.8" width="5.5" height="1" fill="#fdd8d4" opacity="0.19"/>
<rect x="306.3" y="538.8" width="3.4" height="1" fill="#fdd8d4" opacity="0.18"/>
<rect x="309.7" y="538.8" width="3.0" height="1" fill="#d8747a" opacity="0.19"/>
<rect x="312.7" y="538.8" width="5.9" height="1" fill="#d8747a" opacity="0.27"/>
<rect x="318.6" y="538.8" width="4.3" height="1" fill="#fdd8d4" opacity="0.14"/>
<rect x="322.9" y="538.8" width="0.9" height="1" fill="#d8747a" opacity="0.23"/>
<rect x="263.4" y="539.8" width="3.5" height="1" fill="#fdd8d4" opacity="0.32"/>
<rect x="266.9" y="539.8" width="5.4" height="1" fill="#d8747a" opacity="0.11"/>
<rect x="272.3" y="539.8" width="4.7" height="1" fill="#fdd8d4" opacity="0.21"/>
<rect x="277.0" y="539.8" width="4.1" height="1" fill="#d8747a" opacity="0.23"/>
<rect x="281.2" y="539.8" width="5.7" height="1" fill="#fdd8d4" opacity="0.33"/>
<rect x="286.8" y="539.8" width="5.9" height="1" fill="#d8747a" opacity="0.13"/>
<rect x="292.7" y="539.8" width="2.2" height="1" fill="#fdd8d4" opacity="0.28"/>
<rect x="294.9" y="539.8" width="5.7" height="1" fill="#fdd8d4" opacity="0.27"/>
<rect x="300.6" y="539.8" width="4.9" height="1" fill="#fdd8d4" opacity="0.24"/>
<rect x="305.6" y="539.8" width="1.7" height="1" fill="#fdd8d4" opacity="0.14"/>
<rect x="307.3" y="539.8" width="5.6" height="1" fill="#fdd8d4" opacity="0.16"/>
<rect x="312.9" y="539.8" width="2.1" height="1" fill="#d8747a" opacity="0.32"/>
<rect x="315.0" y="539.8" width="4.6" height="1" fill="#d8747a" opacity="0.12"/>
<rect x="319.6" y="539.8" width="3.9" height="1" fill="#fdd8d4" opacity="0.19"/>
<rect x="323.5" y="539.8" width="0.3" height="1" fill="#fdd8d4" opacity="0.08"/>
<rect x="263.4" y="540.8" width="2.9" height="1" fill="#fdd8d4" opacity="0.36"/>
<rect x="266.3" y="540.8" width="4.4" height="1" fill="#fdd8d4" opacity="0.22"/>
<rect x="270.7" y="540.8" width="2.6" height="1" fill="#d8747a" opacity="0.43"/>
<rect x="273.2" y="540.8" width="4.7" height="1" fill="#d8747a" opacity="0.10"/>
<rect x="277.9" y="540.8" width="3.7" height="1" fill="#fdd8d4" opacity="0.20"/>
<rect x="281.6" y="540.8" width="2.7" height="1" fill="#fdd8d4" opacity="0.35"/>
<rect x="284.3" y="540.8" width="2.5" height="1" fill="#d8747a" opacity="0.21"/>
<rect x="286.8" y="540.8" width="3.4" height="1" fill="#fdd8d4" opacity="0.13"/>
<rect x="290.2" y="540.8" width="5.1" height="1" fill="#fdd8d4" opacity="0.22"/>
<rect x="295.3" y="540.8" width="2.4" height="1" fill="#fdd8d4" opacity="0.17"/>
<rect x="297.7" y="540.8" width="5.2" height="1" fill="#d8747a" opacity="0.17"/>
<rect x="302.9" y="540.8" width="4.9" height="1" fill="#d8747a" opacity="0.42"/>
<rect x="307.8" y="540.8" width="3.7" height="1" fill="#d8747a" opacity="0.17"/>
<rect x="311.6" y="540.8" width="3.4" height="1" fill="#fdd8d4" opacity="0.36"/>
<rect x="314.9" y="540.8" width="2.2" height="1" fill="#d8747a" opacity="0.17"/>
<rect x="317.1" y="540.8" width="5.9" height="1" fill="#d8747a" opacity="0.12"/>
<rect x="323.0" y="540.8" width="0.8" height="1" fill="#d8747a" opacity="0.40"/>
<rect x="263.4" y="541.8" width="5.5" height="1" fill="#fdd8d4" opacity="0.37"/>
<rect x="268.9" y="541.8" width="5.7" height="1" fill="#d8747a" opacity="0.16"/>
<rect x="274.6" y="541.8" width="5.7" height="1" fill="#fdd8d4" opacity="0.08"/>
<rect x="280.3" y="541.8" width="4.5" height="1" fill="#d8747a" opacity="0.22"/>
<rect x="284.8" y="541.8" width="3.0" height="1" fill="#d8747a" opacity="0.10"/>
<rect x="287.8" y="541.8" width="2.8" height="1" fill="#d8747a" opacity="0.42"/>
<rect x="290.5" y="541.8" width="2.1" height="1" fill="#fdd8d4" opacity="0.14"/>
<rect x="292.6" y="541.8" width="3.1" height="1" fill="#fdd8d4" opacity="0.32"/>
<rect x="295.7" y="541.8" width="3.4" height="1" fill="#d8747a" opacity="0.26"/>
<rect x="299.1" y="541.8" width="3.2" height="1" fill="#fdd8d4" opacity="0.13"/>
<rect x="302.3" y="541.8" width="3.1" height="1" fill="#fdd8d4" opacity="0.08"/>
<rect x="305.4" y="541.8" width="3.3" height="1" fill="#fdd8d4" opacity="0.30"/>
<rect x="308.8" y="541.8" width="1.7" height="1" fill="#d8747a" opacity="0.12"/>
<rect x="310.5" y="541.8" width="5.6" height="1" fill="#d8747a" opacity="0.35"/>
<rect x="316.1" y="541.8" width="5.5" height="1" fill="#d8747a" opacity="0.19"/>
<rect x="321.7" y="541.8" width="2.1" height="1" fill="#fdd8d4" opacity="0.15"/>
<rect x="263.4" y="542.8" width="4.7" height="1" fill="#d8747a" opacity="0.19"/>
<rect x="268.1" y="542.8" width="1.5" height="1" fill="#fdd8d4" opacity="0.35"/>
<rect x="269.6" y="542.8" width="4.4" height="1" fill="#fdd8d4" opacity="0.08"/>
<rect x="274.0" y="542.8" width="2.6" height="1" fill="#fdd8d4" opacity="0.36"/>
<rect x="276.5" y="542.8" width="5.8" height="1" fill="#d8747a" opacity="0.18"/>
<rect x="282.3" y="542.8" width="3.4" height="1" fill="#fdd8d4" opacity="0.35"/>
<rect x="285.8" y="542.8" width="2.3" height="1" fill="#fdd8d4" opacity="0.30"/>
<rect x="288.1" y="542.8" width="5.2" height="1" fill="#fdd8d4" opacity="0.26"/>
<rect x="293.3" y="542.8" width="3.0" height="1" fill="#d8747a" opacity="0.22"/>
<rect x="296.3" y="542.8" width="5.0" height="1" fill="#d8747a" opacity="0.16"/>
<rect x="301.3" y="542.8" width="4.9" height="1" fill="#d8747a" opacity="0.12"/>
<rect x="306.2" y="542.8" width="1.7" height="1" fill="#fdd8d4" opacity="0.17"/>
<rect x="307.8" y="542.8" width="5.9" height="1" fill="#fdd8d4" opacity="0.37"/>
<rect x="313.7" y="542.8" width="2.7" height="1" fill="#d8747a" opacity="0.13"/>
<rect x="316.4" y="542.8" width="3.7" height="1" fill="#fdd8d4" opacity="0.21"/>
<rect x="320.2" y="542.8" width="2.6" height="1" fill="#d8747a" opacity="0.31"/>
<rect x="322.7" y="542.8" width="1.1" height="1" fill="#fdd8d4" opacity="0.33"/>
<rect x="263.4" y="543.8" width="4.5" height="1" fill="#d8747a" opacity="0.38"/>
<rect x="267.9" y="543.8" width="2.8" height="1" fill="#fdd8d4" opacity="0.19"/>
<rect x="270.7" y="543.8" width="4.8" height="1" fill="#d8747a" opacity="0.18"/>
<rect x="275.5" y="543.8" width="2.6" height="1" fill="#d8747a" opacity="0.40"/>
<rect x="278.1" y="543.8" width="4.1" height="1" fill="#d8747a" opacity="0.23"/>
<rect x="282.2" y="543.8" width="6.0" height="1" fill="#fdd8d4" opacity="0.14"/>
<rect x="288.2" y="543.8" width="5.1" height="1" fill="#fdd8d4" opacity="0.37"/>
<rect x="293.3" y="543.8" width="2.0" height="1" fill="#fdd8d4" opacity="0.32"/>
<rect x="295.3" y="543.8" width="5.3" height="1" fill="#fdd8d4" opacity="0.09"/>
<rect x="300.6" y="543.8" width="2.8" height="1" fill="#d8747a" opacity="0.16"/>
<rect x="303.4" y="543.8" width="5.9" height="1" fill="#fdd8d4" opacity="0.35"/>
<rect x="309.3" y="543.8" width="3.2" height="1" fill="#fdd8d4" opacity="0.21"/>
<rect x="312.5" y="543.8" width="2.7" height="1" fill="#fdd8d4" opacity="0.36"/>
<rect x="315.1" y="543.8" width="2.0" height="1" fill="#fdd8d4" opacity="0.26"/>
<rect x="317.1" y="543.8" width="2.5" height="1" fill="#d8747a" opacity="0.14"/>
<rect x="319.6" y="543.8" width="2.4" height="1" fill="#d8747a" opacity="0.30"/>
<rect x="322.0" y="543.8" width="1.8" height="1" fill="#d8747a" opacity="0.10"/>
<rect x="263.4" y="544.8" width="3.0" height="1" fill="#fdd8d4" opacity="0.13"/>
<rect x="266.4" y="544.8" width="2.9" height="1" fill="#d8747a" opacity="0.37"/>
<rect x="269.3" y="544.8" width="4.0" height="1" fill="#d8747a" opacity="0.13"/>
<rect x="273.2" y="544.8" width="3.3" height="1" fill="#fdd8d4" opacity="0.27"/>
<rect x="276.5" y="544.8" width="1.9" height="1" fill="#d8747a" opacity="0.33"/>
<rect x="278.4" y="544.8" width="3.3" height="1" fill="#d8747a" opacity="0.20"/>
<rect x="281.8" y="544.8" width="5.8" height="1" fill="#d8747a" opacity="0.29"/>
<rect x="287.6" y="544.8" width="3.1" height="1" fill="#d8747a" opacity="0.39"/>
<rect x="290.7" y="544.8" width="6.0" height="1" fill="#d8747a" opacity="0.16"/>
<rect x="296.7" y="544.8" width="4.8" height="1" fill="#d8747a" opacity="0.10"/>
<rect x="301.4" y="544.8" width="5.6" height="1" fill="#d8747a" opacity="0.37"/>
<rect x="307.0" y="544.8" width="3.3" height="1" fill="#fdd8d4" opacity="0.21"/>
<rect x="310.3" y="544.8" width="2.2" height="1" fill="#d8747a" opacity="0.28"/>
<rect x="312.6" y="544.8" width="4.4" height="1" fill="#fdd8d4" opacity="0.10"/>
<rect x="316.9" y="544.8" width="4.3" height="1" fill="#d8747a" opacity="0.27"/>
<rect x="321.2" y="544.8" width="2.2" height="1" fill="#d8747a" opacity="0.27"/>
<rect x="323.4" y="544.8" width="0.4" height="1" fill="#d8747a" opacity="0.26"/>
<rect x="263.4" y="545.8" width="5.1" height="1" fill="#fdd8d4" opacity="0.14"/>
<rect x="268.5" y="545.8" width="2.1" height="1" fill="#fdd8d4" opacity="0.37"/>
<rect x="270.6" y="545.8" width="3.7" height="1" fill="#d8747a" opacity="0.41"/>
<rect x="274.3" y="545.8" width="3.2" height="1" fill="#fdd8d4" opacity="0.26"/>
<rect x="277.5" y="545.8" width="5.2" height="1" fill="#d8747a" opacity="0.36"/>
<rect x="282.7" y="545.8" width="2.5" height="1" fill="#d8747a" opacity="0.38"/>
<rect x="285.2" y="545.8" width="5.2" height="1" fill="#d8747a" opacity="0.17"/>
<rect x="290.5" y="545.8" width="3.3" height="1" fill="#fdd8d4" opacity="0.19"/>
<rect x="293.7" y="545.8" width="2.1" height="1" fill="#d8747a" opacity="0.34"/>
<rect x="295.8" y="545.8" width="5.5" height="1" fill="#d8747a" opacity="0.29"/>
<rect x="301.3" y="545.8" width="4.9" height="1" fill="#d8747a" opacity="0.38"/>
<rect x="306.2" y="545.8" width="2.0" height="1" fill="#fdd8d4" opacity="0.24"/>
<rect x="308.3" y="545.8" width="4.3" height="1" fill="#d8747a" opacity="0.24"/>
<rect x="312.6" y="545.8" width="4.1" height="1" fill="#d8747a" opacity="0.32"/>
<rect x="316.7" y="545.8" width="3.5" height="1" fill="#d8747a" opacity="0.10"/>
<rect x="320.2" y="545.8" width="3.6" height="1" fill="#fdd8d4" opacity="0.15"/>
<rect x="263.4" y="546.8" width="4.9" height="1" fill="#fdd8d4" opacity="0.22"/>
<rect x="268.3" y="546.8" width="2.3" height="1" fill="#fdd8d4" opacity="0.11"/>
<rect x="270.6" y="546.8" width="2.1" height="1" fill="#d8747a" opacity="0.13"/>
<rect x="272.7" y="546.8" width="3.5" height="1" fill="#fdd8d4" opacity="0.09"/>
<rect x="276.2" y="546.8" width="4.4" height="1" fill="#d8747a" opacity="0.34"/>
<rect x="280.6" y="546.8" width="5.0" height="1" fill="#fdd8d4" opacity="0.09"/>
<rect x="285.6" y="546.8" width="3.8" height="1" fill="#d8747a" opacity="0.42"/>
<rect x="289.3" y="546.8" width="2.1" height="1" fill="#fdd8d4" opacity="0.38"/>
<rect x="291.5" y="546.8" width="4.8" height="1" fill="#fdd8d4" opacity="0.14"/>
<rect x="296.2" y="546.8" width="5.9" height="1" fill="#fdd8d4" opacity="0.37"/>
<rect x="302.2" y="546.8" width="5.6" height="1" fill="#d8747a" opacity="0.36"/>
<rect x="307.8" y="546.8" width="5.7" height="1" fill="#d8747a" opacity="0.21"/>
<rect x="313.5" y="546.8" width="4.9" height="1" fill="#d8747a" opacity="0.40"/>
<rect x="318.4" y="546.8" width="2.7" height="1" fill="#fdd8d4" opacity="0.12"/>
<rect x="321.1" y="546.8" width="2.7" height="1" fill="#fdd8d4" opacity="0.14"/>
<rect x="263.4" y="547.8" width="2.7" height="1" fill="#fdd8d4" opacity="0.17"/>
<rect x="266.1" y="547.8" width="1.7" height="1" fill="#d8747a" opacity="0.15"/>
<rect x="267.7" y="547.8" width="5.7" height="1" fill="#fdd8d4" opacity="0.35"/>
<rect x="273.5" y="547.8" width="2.3" height="1" fill="#fdd8d4" opacity="0.11"/>
<rect x="275.7" y="547.8" width="3.9" height="1" fill="#fdd8d4" opacity="0.19"/>
<rect x="279.6" y="547.8" width="5.4" height="1" fill="#fdd8d4" opacity="0.25"/>
<rect x="285.0" y="547.8" width="5.5" height="1" fill="#d8747a" opacity="0.43"/>
<rect x="290.5" y="547.8" width="4.3" height="1" fill="#d8747a" opacity="0.36"/>
<rect x="294.8" y="547.8" width="2.7" height="1" fill="#fdd8d4" opacity="0.25"/>
<rect x="297.5" y="547.8" width="3.1" height="1" fill="#fdd8d4" opacity="0.21"/>
<rect x="300.7" y="547.8" width="2.3" height="1" fill="#fdd8d4" opacity="0.09"/>
<rect x="303.0" y="547.8" width="5.2" height="1" fill="#d8747a" opacity="0.31"/>
<rect x="308.1" y="547.8" width="5.9" height="1" fill="#fdd8d4" opacity="0.28"/>
<rect x="314.1" y="547.8" width="2.9" height="1" fill="#d8747a" opacity="0.11"/>
<rect x="317.0" y="547.8" width="2.2" height="1" fill="#fdd8d4" opacity="0.21"/>
<rect x="319.1" y="547.8" width="3.8" height="1" fill="#fdd8d4" opacity="0.12"/>
<rect x="323.0" y="547.8" width="0.8" height="1" fill="#fdd8d4" opacity="0.08"/>
<rect x="263.4" y="548.8" width="1.5" height="1" fill="#d8747a" opacity="0.13"/>
<rect x="264.9" y="548.8" width="3.1" height="1" fill="#d8747a" opacity="0.29"/>
<rect x="268.0" y="548.8" width="4.2" height="1" fill="#d8747a" opacity="0.31"/>
<rect x="272.2" y="548.8" width="3.6" height="1" fill="#d8747a" opacity="0.41"/>
<rect x="275.8" y="548.8" width="2.6" height="1" fill="#d8747a" opacity="0.13"/>
<rect x="278.4" y="548.8" width="4.4" height="1" fill="#fdd8d4" opacity="0.32"/>
<rect x="282.8" y="548.8" width="3.3" height="1" fill="#d8747a" opacity="0.10"/>
<rect x="286.1" y="548.8" width="4.4" height="1" fill="#fdd8d4" opacity="0.18"/>
<rect x="290.5" y="548.8" width="4.4" height="1" fill="#d8747a" opacity="0.41"/>
<rect x="294.9" y="548.8" width="4.8" height="1" fill="#d8747a" opacity="0.40"/>
<rect x="299.7" y="548.8" width="1.7" height="1" fill="#fdd8d4" opacity="0.20"/>
<rect x="301.4" y="548.8" width="2.6" height="1" fill="#d8747a" opacity="0.36"/>
<rect x="304.0" y="548.8" width="1.6" height="1" fill="#fdd8d4" opacity="0.37"/>
<rect x="305.5" y="548.8" width="2.1" height="1" fill="#d8747a" opacity="0.30"/>
<rect x="307.7" y="548.8" width="3.8" height="1" fill="#fdd8d4" opacity="0.33"/>
<rect x="311.4" y="548.8" width="2.3" height="1" fill="#d8747a" opacity="0.20"/>
<rect x="313.7" y="548.8" width="1.7" height="1" fill="#fdd8d4" opacity="0.32"/>
<rect x="315.4" y="548.8" width="4.7" height="1" fill="#d8747a" opacity="0.38"/>
<rect x="320.2" y="548.8" width="3.6" height="1" fill="#fdd8d4" opacity="0.30"/>
<rect x="263.4" y="549.8" width="3.5" height="1" fill="#d8747a" opacity="0.13"/>
<rect x="266.9" y="549.8" width="2.5" height="1" fill="#d8747a" opacity="0.21"/>
<rect x="269.5" y="549.8" width="4.9" height="1" fill="#fdd8d4" opacity="0.34"/>
<rect x="274.4" y="549.8" width="4.7" height="1" fill="#d8747a" opacity="0.28"/>
<rect x="279.1" y="549.8" width="3.5" height="1" fill="#fdd8d4" opacity="0.24"/>
<rect x="282.5" y="549.8" width="2.7" height="1" fill="#fdd8d4" opacity="0.37"/>
<rect x="285.2" y="549.8" width="2.5" height="1" fill="#fdd8d4" opacity="0.08"/>
<rect x="287.7" y="549.8" width="2.7" height="1" fill="#d8747a" opacity="0.35"/>
<rect x="290.4" y="549.8" width="5.8" height="1" fill="#fdd8d4" opacity="0.18"/>
<rect x="296.1" y="549.8" width="5.5" height="1" fill="#d8747a" opacity="0.18"/>
<rect x="301.6" y="549.8" width="5.6" height="1" fill="#fdd8d4" opacity="0.29"/>
<rect x="307.2" y="549.8" width="4.5" height="1" fill="#fdd8d4" opacity="0.22"/>
<rect x="311.7" y="549.8" width="5.3" height="1" fill="#fdd8d4" opacity="0.34"/>
<rect x="316.9" y="549.8" width="3.5" height="1" fill="#fdd8d4" opacity="0.25"/>
<rect x="320.4" y="549.8" width="2.9" height="1" fill="#d8747a" opacity="0.30"/>
<rect x="323.3" y="549.8" width="0.5" height="1" fill="#fdd8d4" opacity="0.12"/>
<rect x="263.4" y="550.8" width="1.6" height="1" fill="#d8747a" opacity="0.41"/>
<rect x="265.0" y="550.8" width="3.1" height="1" fill="#d8747a" opacity="0.11"/>
<rect x="268.1" y="550.8" width="1.7" height="1" fill="#fdd8d4" opacity="0.27"/>
<rect x="269.8" y="550.8" width="4.6" height="1" fill="#fdd8d4" opacity="0.10"/>
<rect x="274.4" y="550.8" width="4.2" height="1" fill="#d8747a" opacity="0.37"/>
<rect x="278.6" y="550.8" width="5.2" height="1" fill="#fdd8d4" opacity="0.10"/>
<rect x="283.7" y="550.8" width="5.4" height="1" fill="#fdd8d4" opacity="0.37"/>
<rect x="289.1" y="550.8" width="2.0" height="1" fill="#d8747a" opacity="0.13"/>
<rect x="291.1" y="550.8" width="1.7" height="1" fill="#fdd8d4" opacity="0.33"/>
<rect x="292.8" y="550.8" width="4.4" height="1" fill="#fdd8d4" opacity="0.27"/>
<rect x="297.1" y="550.8" width="2.8" height="1" fill="#d8747a" opacity="0.13"/>
<rect x="299.9" y="550.8" width="4.9" height="1" fill="#d8747a" opacity="0.20"/>
<rect x="304.8" y="550.8" width="3.4" height="1" fill="#d8747a" opacity="0.18"/>
<rect x="308.2" y="550.8" width="2.8" height="1" fill="#fdd8d4" opacity="0.19"/>
<rect x="311.0" y="550.8" width="2.9" height="1" fill="#fdd8d4" opacity="0.23"/>
<rect x="314.0" y="550.8" width="5.3" height="1" fill="#fdd8d4" opacity="0.09"/>
<rect x="319.3" y="550.8" width="3.4" height="1" fill="#d8747a" opacity="0.35"/>
<rect x="322.7" y="550.8" width="1.1" height="1" fill="#fdd8d4" opacity="0.24"/>
<rect x="263.4" y="551.8" width="2.5" height="1" fill="#fdd8d4" opacity="0.11"/>
<rect x="265.9" y="551.8" width="5.2" height="1" fill="#d8747a" opacity="0.10"/>
<rect x="271.1" y="551.8" width="2.4" height="1" fill="#fdd8d4" opacity="0.38"/>
<rect x="273.5" y="551.8" width="1.5" height="1" fill="#fdd8d4" opacity="0.23"/>
<rect x="275.0" y="551.8" width="5.1" height="1" fill="#d8747a" opacity="0.26"/>
<rect x="280.1" y="551.8" width="3.1" height="1" fill="#fdd8d4" opacity="0.16"/>
<rect x="283.1" y="551.8" width="5.7" height="1" fill="#d8747a" opacity="0.17"/>
<rect x="288.9" y="551.8" width="4.6" height="1" fill="#fdd8d4" opacity="0.11"/>
<rect x="293.5" y="551.8" width="4.4" height="1" fill="#d8747a" opacity="0.36"/>
<rect x="297.9" y="551.8" width="4.6" height="1" fill="#fdd8d4" opacity="0.27"/>
<rect x="302.5" y="551.8" width="3.1" height="1" fill="#d8747a" opacity="0.23"/>
<rect x="305.6" y="551.8" width="5.5" height="1" fill="#d8747a" opacity="0.39"/>
<rect x="311.1" y="551.8" width="1.6" height="1" fill="#d8747a" opacity="0.18"/>
<rect x="312.8" y="551.8" width="5.6" height="1" fill="#fdd8d4" opacity="0.20"/>
<rect x="318.3" y="551.8" width="5.5" height="1" fill="#d8747a" opacity="0.25"/>
<rect x="323.8" y="551.8" width="0.0" height="1" fill="#fdd8d4" opacity="0.31"/>
<rect x="263.4" y="552.8" width="4.4" height="1" fill="#d8747a" opacity="0.20"/>
<rect x="267.8" y="552.8" width="2.2" height="1" fill="#fdd8d4" opacity="0.28"/>
<rect x="270.0" y="552.8" width="4.8" height="1" fill="#d8747a" opacity="0.24"/>
<rect x="274.8" y="552.8" width="5.0" height="1" fill="#fdd8d4" opacity="0.12"/>
<rect x="279.8" y="552.8" width="3.6" height="1" fill="#fdd8d4" opacity="0.15"/>
<rect x="283.4" y="552.8" width="2.4" height="1" fill="#d8747a" opacity="0.33"/>
<rect x="285.8" y="552.8" width="5.3" height="1" fill="#d8747a" opacity="0.15"/>
<rect x="291.1" y="552.8" width="2.6" height="1" fill="#d8747a" opacity="0.27"/>
<rect x="293.7" y="552.8" width="2.2" height="1" fill="#d8747a" opacity="0.16"/>
<rect x="295.9" y="552.8" width="5.9" height="1" fill="#fdd8d4" opacity="0.11"/>
<rect x="301.8" y="552.8" width="5.8" height="1" fill="#d8747a" opacity="0.22"/>
<rect x="307.6" y="552.8" width="5.9" height="1" fill="#fdd8d4" opacity="0.31"/>
<rect x="313.5" y="552.8" width="3.5" height="1" fill="#d8747a" opacity="0.31"/>
<rect x="317.0" y="552.8" width="2.0" height="1" fill="#d8747a" opacity="0.22"/>
<rect x="319.0" y="552.8" width="1.7" height="1" fill="#d8747a" opacity="0.36"/>
<rect x="320.6" y="552.8" width="3.2" height="1" fill="#fdd8d4" opacity="0.28"/>
<rect x="263.4" y="553.8" width="3.6" height="1" fill="#d8747a" opacity="0.30"/>
<rect x="267.0" y="553.8" width="3.3" height="1" fill="#fdd8d4" opacity="0.36"/>
<rect x="270.3" y="553.8" width="3.4" height="1" fill="#fdd8d4" opacity="0.31"/>
<rect x="273.7" y="553.8" width="3.4" height="1" fill="#d8747a" opacity="0.34"/>
<rect x="277.1" y="553.8" width="5.5" height="1" fill="#fdd8d4" opacity="0.30"/>
<rect x="282.6" y="553.8" width="5.3" height="1" fill="#fdd8d4" opacity="0.28"/>
<rect x="287.9" y="553.8" width="3.5" height="1" fill="#d8747a" opacity="0.30"/>
<rect x="291.5" y="553.8" width="1.9" height="1" fill="#d8747a" opacity="0.36"/>
<rect x="293.4" y="553.8" width="4.7" height="1" fill="#fdd8d4" opacity="0.16"/>
<rect x="298.1" y="553.8" width="3.4" height="1" fill="#fdd8d4" opacity="0.27"/>
<rect x="301.5" y="553.8" width="3.3" height="1" fill="#fdd8d4" opacity="0.37"/>
<rect x="304.9" y="553.8" width="2.3" height="1" fill="#fdd8d4" opacity="0.32"/>
<rect x="307.2" y="553.8" width="3.2" height="1" fill="#fdd8d4" opacity="0.38"/>
<rect x="310.4" y="553.8" width="1.7" height="1" fill="#fdd8d4" opacity="0.13"/>
<rect x="312.1" y="553.8" width="5.0" height="1" fill="#fdd8d4" opacity="0.24"/>
<rect x="317.1" y="553.8" width="2.0" height="1" fill="#fdd8d4" opacity="0.25"/>
<rect x="319.1" y="553.8" width="4.7" height="1" fill="#fdd8d4" opacity="0.28"/>
<rect x="263.4" y="554.8" width="5.2" height="1" fill="#fdd8d4" opacity="0.21"/>
<rect x="268.6" y="554.8" width="5.8" height="1" fill="#d8747a" opacity="0.32"/>
<rect x="274.4" y="554.8" width="3.3" height="1" fill="#fdd8d4" opacity="0.12"/>
<rect x="277.7" y="554.8" width="5.9" height="1" fill="#d8747a" opacity="0.11"/>
<rect x="283.6" y="554.8" width="2.7" height="1" fill="#d8747a" opacity="0.10"/>
<rect x="286.3" y="554.8" width="3.4" height="1" fill="#d8747a" opacity="0.33"/>
<rect x="289.7" y="554.8" width="3.1" height="1" fill="#d8747a" opacity="0.17"/>
<rect x="292.8" y="554.8" width="4.8" height="1" fill="#fdd8d4" opacity="0.24"/>
<rect x="297.6" y="554.8" width="2.5" height="1" fill="#fdd8d4" opacity="0.20"/>
<rect x="300.1" y="554.8" width="2.5" height="1" fill="#d8747a" opacity="0.35"/>
<rect x="302.6" y="554.8" width="5.1" height="1" fill="#fdd8d4" opacity="0.23"/>
<rect x="307.7" y="554.8" width="4.0" height="1" fill="#d8747a" opacity="0.41"/>
<rect x="311.7" y="554.8" width="3.1" height="1" fill="#fdd8d4" opacity="0.34"/>
<rect x="314.8" y="554.8" width="5.2" height="1" fill="#fdd8d4" opacity="0.17"/>
<rect x="320.0" y="554.8" width="3.8" height="1" fill="#d8747a" opacity="0.37"/>
<rect x="263.4" y="555.8" width="3.1" height="1" fill="#fdd8d4" opacity="0.16"/>
<rect x="266.5" y="555.8" width="3.2" height="1" fill="#d8747a" opacity="0.24"/>
<rect x="269.7" y="555.8" width="2.3" height="1" fill="#d8747a" opacity="0.33"/>
<rect x="272.0" y="555.8" width="2.8" height="1" fill="#d8747a" opacity="0.19"/>
<rect x="274.8" y="555.8" width="3.7" height="1" fill="#d8747a" opacity="0.31"/>
<rect x="278.4" y="555.8" width="4.5" height="1" fill="#d8747a" opacity="0.40"/>
<rect x="282.9" y="555.8" width="5.3" height="1" fill="#d8747a" opacity="0.37"/>
<rect x="288.3" y="555.8" width="5.6" height="1" fill="#fdd8d4" opacity="0.12"/>
<rect x="293.8" y="555.8" width="5.2" height="1" fill="#fdd8d4" opacity="0.08"/>
<rect x="299.1" y="555.8" width="1.6" height="1" fill="#fdd8d4" opacity="0.29"/>
<rect x="300.6" y="555.8" width="2.6" height="1" fill="#d8747a" opacity="0.14"/>
<rect x="303.3" y="555.8" width="2.6" height="1" fill="#fdd8d4" opacity="0.19"/>
<rect x="305.8" y="555.8" width="2.2" height="1" fill="#fdd8d4" opacity="0.33"/>
<rect x="308.0" y="555.8" width="2.3" height="1" fill="#fdd8d4" opacity="0.27"/>
<rect x="310.2" y="555.8" width="5.0" height="1" fill="#fdd8d4" opacity="0.36"/>
<rect x="315.3" y="555.8" width="5.0" height="1" fill="#fdd8d4" opacity="0.14"/>
<rect x="320.3" y="555.8" width="3.5" height="1" fill="#fdd8d4" opacity="0.31"/>
<rect x="263.4" y="556.8" width="3.5" height="1" fill="#fdd8d4" opacity="0.26"/>
<rect x="266.9" y="556.8" width="2.7" height="1" fill="#d8747a" opacity="0.14"/>
<rect x="269.6" y="556.8" width="3.7" height="1" fill="#d8747a" opacity="0.25"/>
<rect x="273.3" y="556.8" width="2.1" height="1" fill="#fdd8d4" opacity="0.24"/>
<rect x="275.4" y="556.8" width="3.9" height="1" fill="#fdd8d4" opacity="0.08"/>
<rect x="279.4" y="556.8" width="5.3" height="1" fill="#fdd8d4" opacity="0.26"/>
<rect x="284.6" y="556.8" width="4.5" height="1" fill="#fdd8d4" opacity="0.20"/>
<rect x="289.1" y="556.8" width="3.4" height="1" fill="#fdd8d4" opacity="0.10"/>
<rect x="292.5" y="556.8" width="4.4" height="1" fill="#fdd8d4" opacity="0.09"/>
<rect x="296.9" y="556.8" width="4.2" height="1" fill="#fdd8d4" opacity="0.38"/>
<rect x="301.1" y="556.8" width="3.0" height="1" fill="#fdd8d4" opacity="0.24"/>
<rect x="304.1" y="556.8" width="3.7" height="1" fill="#fdd8d4" opacity="0.09"/>
<rect x="307.8" y="556.8" width="4.7" height="1" fill="#fdd8d4" opacity="0.19"/>
<rect x="312.5" y="556.8" width="5.4" height="1" fill="#d8747a" opacity="0.25"/>
<rect x="317.9" y="556.8" width="3.9" height="1" fill="#fdd8d4" opacity="0.15"/>
<rect x="321.8" y="556.8" width="2.0" height="1" fill="#d8747a" opacity="0.28"/>
<rect x="263.4" y="557.8" width="5.2" height="1" fill="#d8747a" opacity="0.37"/>
<rect x="268.6" y="557.8" width="3.3" height="1" fill="#fdd8d4" opacity="0.17"/>
<rect x="271.9" y="557.8" width="3.8" height="1" fill="#fdd8d4" opacity="0.29"/>
<rect x="275.7" y="557.8" width="5.1" height="1" fill="#d8747a" opacity="0.20"/>
<rect x="280.8" y="557.8" width="2.8" height="1" fill="#fdd8d4" opacity="0.28"/>
<rect x="283.6" y="557.8" width="5.0" height="1" fill="#d8747a" opacity="0.33"/>
<rect x="288.7" y="557.8" width="5.5" height="1" fill="#fdd8d4" opacity="0.10"/>
<rect x="294.1" y="557.8" width="2.9" height="1" fill="#d8747a" opacity="0.16"/>
<rect x="297.0" y="557.8" width="5.6" height="1" fill="#fdd8d4" opacity="0.29"/>
<rect x="302.6" y="557.8" width="5.1" height="1" fill="#fdd8d4" opacity="0.27"/>
<rect x="307.7" y="557.8" width="4.3" height="1" fill="#fdd8d4" opacity="0.30"/>
<rect x="312.0" y="557.8" width="4.2" height="1" fill="#fdd8d4" opacity="0.15"/>
<rect x="316.1" y="557.8" width="4.5" height="1" fill="#fdd8d4" opacity="0.32"/>
<rect x="320.6" y="557.8" width="2.0" height="1" fill="#d8747a" opacity="0.11"/>
<rect x="322.6" y="557.8" width="1.2" height="1" fill="#fdd8d4" opacity="0.29"/>
<rect x="263.4" y="558.8" width="3.2" height="1" fill="#fdd8d4" opacity="0.33"/>
<rect x="266.6" y="558.8" width="4.0" height="1" fill="#d8747a" opacity="0.19"/>
<rect x="270.6" y="558.8" width="3.4" height="1" fill="#d8747a" opacity="0.24"/>
<rect x="274.0" y="558.8" width="4.4" height="1" fill="#fdd8d4" opacity="0.10"/>
<rect x="278.4" y="558.8" width="4.1" height="1" fill="#d8747a" opacity="0.13"/>
<rect x="282.4" y="558.8" width="5.1" height="1" fill="#fdd8d4" opacity="0.37"/>
<rect x="287.6" y="558.8" width="3.5" height="1" fill="#d8747a" opacity="0.22"/>
<rect x="291.1" y="558.8" width="4.2" height="1" fill="#fdd8d4" opacity="0.39"/>
<rect x="295.2" y="558.8" width="3.6" height="1" fill="#d8747a" opacity="0.13"/>
<rect x="298.9" y="558.8" width="4.4" height="1" fill="#d8747a" opacity="0.14"/>
<rect x="303.3" y="558.8" width="1.6" height="1" fill="#d8747a" opacity="0.32"/>
<rect x="304.9" y="558.8" width="2.0" height="1" fill="#fdd8d4" opacity="0.11"/>
<rect x="306.9" y="558.8" width="5.4" height="1" fill="#d8747a" opacity="0.10"/>
<rect x="312.3" y="558.8" width="4.7" height="1" fill="#d8747a" opacity="0.34"/>
<rect x="317.1" y="558.8" width="2.3" height="1" fill="#d8747a" opacity="0.35"/>
<rect x="319.4" y="558.8" width="4.4" height="1" fill="#fdd8d4" opacity="0.31"/>
<rect x="263.4" y="559.8" width="1.9" height="1" fill="#fdd8d4" opacity="0.31"/>
<rect x="265.3" y="559.8" width="3.6" height="1" fill="#fdd8d4" opacity="0.16"/>
<rect x="268.9" y="559.8" width="5.8" height="1" fill="#fdd8d4" opacity="0.08"/>
<rect x="274.7" y="559.8" width="1.6" height="1" fill="#fdd8d4" opacity="0.34"/>
<rect x="276.3" y="559.8" width="1.9" height="1" fill="#d8747a" opacity="0.33"/>
<rect x="278.1" y="559.8" width="2.2" height="1" fill="#fdd8d4" opacity="0.24"/>
<rect x="280.4" y="559.8" width="1.8" height="1" fill="#d8747a" opacity="0.28"/>
<rect x="282.1" y="559.8" width="3.5" height="1" fill="#fdd8d4" opacity="0.13"/>
<rect x="285.6" y="559.8" width="5.1" height="1" fill="#d8747a" opacity="0.31"/>
<rect x="290.7" y="559.8" width="4.3" height="1" fill="#d8747a" opacity="0.22"/>
<rect x="295.0" y="559.8" width="5.0" height="1" fill="#fdd8d4" opacity="0.33"/>
<rect x="300.1" y="559.8" width="4.1" height="1" fill="#d8747a" opacity="0.11"/>
<rect x="304.1" y="559.8" width="5.9" height="1" fill="#fdd8d4" opacity="0.35"/>
<rect x="310.0" y="559.8" width="3.0" height="1" fill="#fdd8d4" opacity="0.39"/>
<rect x="313.0" y="559.8" width="5.2" height="1" fill="#fdd8d4" opacity="0.18"/>
<rect x="318.2" y="559.8" width="3.4" height="1" fill="#fdd8d4" opacity="0.20"/>
<rect x="321.7" y="559.8" width="2.1" height="1" fill="#fdd8d4" opacity="0.37"/>
<rect x="263.4" y="560.8" width="5.1" height="1" fill="#d8747a" opacity="0.09"/>
<rect x="268.5" y="560.8" width="2.7" height="1" fill="#d8747a" opacity="0.29"/>
<rect x="271.2" y="560.8" width="5.2" height="1" fill="#fdd8d4" opacity="0.09"/>
<rect x="276.4" y="560.8" width="5.2" height="1" fill="#fdd8d4" opacity="0.36"/>
<rect x="281.6" y="560.8" width="4.1" height="1" fill="#d8747a" opacity="0.37"/>
<rect x="285.7" y="560.8" width="5.1" height="1" fill="#fdd8d4" opacity="0.38"/>
<rect x="290.8" y="560.8" width="3.1" height="1" fill="#d8747a" opacity="0.28"/>
<rect x="293.9" y="560.8" width="5.1" height="1" fill="#d8747a" opacity="0.34"/>
<rect x="299.0" y="560.8" width="5.7" height="1" fill="#d8747a" opacity="0.29"/>
<rect x="304.7" y="560.8" width="4.5" height="1" fill="#fdd8d4" opacity="0.15"/>
<rect x="309.2" y="560.8" width="2.6" height="1" fill="#fdd8d4" opacity="0.34"/>
<rect x="311.9" y="560.8" width="3.6" height="1" fill="#d8747a" opacity="0.36"/>
<rect x="315.5" y="560.8" width="5.0" height="1" fill="#d8747a" opacity="0.28"/>
<rect x="320.4" y="560.8" width="3.4" height="1" fill="#fdd8d4" opacity="0.25"/>
<rect x="263.4" y="561.8" width="3.6" height="1" fill="#fdd8d4" opacity="0.14"/>
<rect x="267.0" y="561.8" width="2.4" height="1" fill="#d8747a" opacity="0.32"/>
<rect x="269.4" y="561.8" width="3.1" height="1" fill="#fdd8d4" opacity="0.21"/>
<rect x="272.5" y="561.8" width="3.8" height="1" fill="#d8747a" opacity="0.11"/>
<rect x="276.4" y="561.8" width="6.0" height="1" fill="#d8747a" opacity="0.13"/>
<rect x="282.4" y="561.8" width="4.3" height="1" fill="#fdd8d4" opacity="0.13"/>
<rect x="286.7" y="561.8" width="4.2" height="1" fill="#d8747a" opacity="0.26"/>
<rect x="290.9" y="561.8" width="1.6" height="1" fill="#d8747a" opacity="0.42"/>
<rect x="292.5" y="561.8" width="5.4" height="1" fill="#fdd8d4" opacity="0.26"/>
<rect x="297.9" y="561.8" width="2.7" height="1" fill="#fdd8d4" opacity="0.22"/>
<rect x="300.6" y="561.8" width="5.8" height="1" fill="#fdd8d4" opacity="0.35"/>
<rect x="306.3" y="561.8" width="5.8" height="1" fill="#d8747a" opacity="0.11"/>
<rect x="312.2" y="561.8" width="2.4" height="1" fill="#d8747a" opacity="0.12"/>
<rect x="314.6" y="561.8" width="1.7" height="1" fill="#fdd8d4" opacity="0.36"/>
<rect x="316.3" y="561.8" width="3.6" height="1" fill="#fdd8d4" opacity="0.38"/>
<rect x="319.9" y="561.8" width="1.8" height="1" fill="#fdd8d4" opacity="0.21"/>
<rect x="321.6" y="561.8" width="2.0" height="1" fill="#fdd8d4" opacity="0.16"/>
<rect x="323.7" y="561.8" width="0.1" height="1" fill="#fdd8d4" opacity="0.39"/>
<rect x="263.4" y="562.8" width="4.5" height="1" fill="#d8747a" opacity="0.24"/>
<rect x="267.9" y="562.8" width="2.2" height="1" fill="#fdd8d4" opacity="0.40"/>
<rect x="270.1" y="562.8" width="2.5" height="1" fill="#d8747a" opacity="0.18"/>
<rect x="272.6" y="562.8" width="3.1" height="1" fill="#fdd8d4" opacity="0.38"/>
<rect x="275.7" y="562.8" width="5.3" height="1" fill="#d8747a" opacity="0.35"/>
<rect x="281.0" y="562.8" width="4.7" height="1" fill="#fdd8d4" opacity="0.40"/>
<rect x="285.7" y="562.8" width="1.8" height="1" fill="#d8747a" opacity="0.34"/>
<rect x="287.4" y="562.8" width="5.7" height="1" fill="#fdd8d4" opacity="0.18"/>
<rect x="293.2" y="562.8" width="4.2" height="1" fill="#fdd8d4" opacity="0.12"/>
<rect x="297.3" y="562.8" width="3.0" height="1" fill="#d8747a" opacity="0.13"/>
<rect x="300.3" y="562.8" width="3.7" height="1" fill="#d8747a" opacity="0.17"/>
<rect x="303.9" y="562.8" width="2.1" height="1" fill="#fdd8d4" opacity="0.09"/>
<rect x="306.1" y="562.8" width="4.7" height="1" fill="#d8747a" opacity="0.10"/>
<rect x="310.8" y="562.8" width="5.7" height="1" fill="#d8747a" opacity="0.40"/>
<rect x="316.5" y="562.8" width="5.4" height="1" fill="#fdd8d4" opacity="0.13"/>
<rect x="321.9" y="562.8" width="1.9" height="1" fill="#d8747a" opacity="0.40"/>
<rect x="263.4" y="563.8" width="5.3" height="1" fill="#fdd8d4" opacity="0.23"/>
<rect x="268.7" y="563.8" width="3.0" height="1" fill="#fdd8d4" opacity="0.24"/>
<rect x="271.7" y="563.8" width="4.3" height="1" fill="#d8747a" opacity="0.17"/>
<rect x="276.0" y="563.8" width="1.8" height="1" fill="#fdd8d4" opacity="0.26"/>
<rect x="277.8" y="563.8" width="2.2" height="1" fill="#fdd8d4" opacity="0.17"/>
<rect x="280.0" y="563.8" width="3.4" height="1" fill="#d8747a" opacity="0.18"/>
<rect x="283.3" y="563.8" width="5.3" height="1" fill="#d8747a" opacity="0.15"/>
<rect x="288.6" y="563.8" width="3.7" height="1" fill="#d8747a" opacity="0.39"/>
<rect x="292.3" y="563.8" width="2.0" height="1" fill="#fdd8d4" opacity="0.10"/>
<rect x="294.3" y="563.8" width="5.5" height="1" fill="#fdd8d4" opacity="0.15"/>
<rect x="299.8" y="563.8" width="3.6" height="1" fill="#d8747a" opacity="0.18"/>
<rect x="303.5" y="563.8" width="2.4" height="1" fill="#d8747a" opacity="0.42"/>
<rect x="305.9" y="563.8" width="6.0" height="1" fill="#fdd8d4" opacity="0.11"/>
<rect x="311.9" y="563.8" width="2.8" height="1" fill="#fdd8d4" opacity="0.10"/>
<rect x="314.7" y="563.8" width="4.8" height="1" fill="#d8747a" opacity="0.41"/>
<rect x="319.5" y="563.8" width="1.6" height="1" fill="#fdd8d4" opacity="0.19"/>
<rect x="321.0" y="563.8" width="2.1" height="1" fill="#d8747a" opacity="0.36"/>
<rect x="323.2" y="563.8" width="0.6" height="1" fill="#d8747a" opacity="0.23"/>
<rect x="263.4" y="564.8" width="5.6" height="1" fill="#d8747a" opacity="0.28"/>
<rect x="269.0" y="564.8" width="2.1" height="1" fill="#d8747a" opacity="0.34"/>
<rect x="271.1" y="564.8" width="4.7" height="1" fill="#d8747a" opacity="0.12"/>
<rect x="275.8" y="564.8" width="1.9" height="1" fill="#fdd8d4" opacity="0.24"/>
<rect x="277.7" y="564.8" width="2.7" height="1" fill="#d8747a" opacity="0.29"/>
<rect x="280.5" y="564.8" width="4.7" height="1" fill="#fdd8d4" opacity="0.27"/>
<rect x="285.1" y="564.8" width="2.4" height="1" fill="#d8747a" opacity="0.33"/>
<rect x="287.5" y="564.8" width="3.3" height="1" fill="#fdd8d4" opacity="0.10"/>
<rect x="290.9" y="564.8" width="5.1" height="1" fill="#d8747a" opacity="0.37"/>
<rect x="296.0" y="564.8" width="5.4" height="1" fill="#fdd8d4" opacity="0.09"/>
<rect x="301.4" y="564.8" width="5.6" height="1" fill="#fdd8d4" opacity="0.37"/>
<rect x="307.0" y="564.8" width="2.7" height="1" fill="#d8747a" opacity="0.36"/>
<rect x="309.7" y="564.8" width="3.2" height="1" fill="#d8747a" opacity="0.21"/>
<rect x="312.9" y="564.8" width="4.2" height="1" fill="#d8747a" opacity="0.26"/>
<rect x="317.0" y="564.8" width="3.5" height="1" fill="#fdd8d4" opacity="0.12"/>
<rect x="320.6" y="564.8" width="3.2" height="1" fill="#fdd8d4" opacity="0.37"/>
<rect x="263.4" y="565.8" width="2.9" height="1" fill="#fdd8d4" opacity="0.21"/>
<rect x="266.3" y="565.8" width="4.9" height="1" fill="#d8747a" opacity="0.38"/>
<rect x="271.2" y="565.8" width="5.8" height="1" fill="#fdd8d4" opacity="0.25"/>
<rect x="277.0" y="565.8" width="3.9" height="1" fill="#fdd8d4" opacity="0.09"/>
<rect x="280.9" y="565.8" width="5.9" height="1" fill="#d8747a" opacity="0.15"/>
<rect x="286.8" y="565.8" width="2.0" height="1" fill="#d8747a" opacity="0.36"/>
<rect x="288.7" y="565.8" width="1.6" height="1" fill="#d8747a" opacity="0.32"/>
<rect x="290.4" y="565.8" width="2.4" height="1" fill="#d8747a" opacity="0.29"/>
<rect x="292.7" y="565.8" width="4.1" height="1" fill="#fdd8d4" opacity="0.31"/>
<rect x="296.8" y="565.8" width="2.0" height="1" fill="#fdd8d4" opacity="0.32"/>
<rect x="298.8" y="565.8" width="1.7" height="1" fill="#d8747a" opacity="0.25"/>
<rect x="300.5" y="565.8" width="3.8" height="1" fill="#d8747a" opacity="0.13"/>
<rect x="304.2" y="565.8" width="3.3" height="1" fill="#d8747a" opacity="0.28"/>
<rect x="307.6" y="565.8" width="5.4" height="1" fill="#d8747a" opacity="0.28"/>
<rect x="312.9" y="565.8" width="4.9" height="1" fill="#d8747a" opacity="0.36"/>
<rect x="317.8" y="565.8" width="5.7" height="1" fill="#d8747a" opacity="0.23"/>
<rect x="323.5" y="565.8" width="0.3" height="1" fill="#fdd8d4" opacity="0.21"/>
<rect x="263.4" y="566.8" width="5.7" height="1" fill="#fdd8d4" opacity="0.19"/>
<rect x="269.1" y="566.8" width="2.6" height="1" fill="#d8747a" opacity="0.23"/>
<rect x="271.7" y="566.8" width="5.9" height="1" fill="#fdd8d4" opacity="0.38"/>
<rect x="277.6" y="566.8" width="5.2" height="1" fill="#fdd8d4" opacity="0.10"/>
<rect x="282.8" y="566.8" width="3.8" height="1" fill="#fdd8d4" opacity="0.39"/>
<rect x="286.6" y="566.8" width="2.6" height="1" fill="#d8747a" opacity="0.30"/>
<rect x="289.3" y="566.8" width="3.1" height="1" fill="#fdd8d4" opacity="0.11"/>
<rect x="292.4" y="566.8" width="3.4" height="1" fill="#fdd8d4" opacity="0.09"/>
<rect x="295.8" y="566.8" width="2.1" height="1" fill="#fdd8d4" opacity="0.34"/>
<rect x="298.0" y="566.8" width="5.7" height="1" fill="#fdd8d4" opacity="0.35"/>
<rect x="303.7" y="566.8" width="5.5" height="1" fill="#fdd8d4" opacity="0.09"/>
<rect x="309.2" y="566.8" width="4.4" height="1" fill="#d8747a" opacity="0.31"/>
<rect x="313.5" y="566.8" width="2.7" height="1" fill="#fdd8d4" opacity="0.39"/>
<rect x="316.3" y="566.8" width="4.3" height="1" fill="#d8747a" opacity="0.26"/>
<rect x="320.6" y="566.8" width="3.2" height="1" fill="#fdd8d4" opacity="0.18"/>
<rect x="263.4" y="567.8" width="2.9" height="1" fill="#fdd8d4" opacity="0.12"/>
<rect x="266.3" y="567.8" width="4.2" height="1" fill="#fdd8d4" opacity="0.25"/>
<rect x="270.4" y="567.8" width="2.7" height="1" fill="#fdd8d4" opacity="0.26"/>
<rect x="273.2" y="567.8" width="2.2" height="1" fill="#d8747a" opacity="0.13"/>
<rect x="275.3" y="567.8" width="2.8" height="1" fill="#d8747a" opacity="0.19"/>
<rect x="278.1" y="567.8" width="2.6" height="1" fill="#d8747a" opacity="0.27"/>
<rect x="280.7" y="567.8" width="5.3" height="1" fill="#fdd8d4" opacity="0.27"/>
<rect x="286.0" y="567.8" width="4.4" height="1" fill="#d8747a" opacity="0.32"/>
<rect x="290.4" y="567.8" width="3.6" height="1" fill="#fdd8d4" opacity="0.29"/>
<rect x="294.0" y="567.8" width="3.6" height="1" fill="#d8747a" opacity="0.17"/>
<rect x="297.6" y="567.8" width="2.5" height="1" fill="#fdd8d4" opacity="0.21"/>
<rect x="300.1" y="567.8" width="4.1" height="1" fill="#d8747a" opacity="0.21"/>
<rect x="304.3" y="567.8" width="5.4" height="1" fill="#d8747a" opacity="0.27"/>
<rect x="309.6" y="567.8" width="3.7" height="1" fill="#d8747a" opacity="0.41"/>
<rect x="313.4" y="567.8" width="2.8" height="1" fill="#fdd8d4" opacity="0.14"/>
<rect x="316.2" y="567.8" width="1.8" height="1" fill="#fdd8d4" opacity="0.23"/>
<rect x="318.0" y="567.8" width="1.8" height="1" fill="#d8747a" opacity="0.23"/>
<rect x="319.8" y="567.8" width="4.0" height="1" fill="#d8747a" opacity="0.16"/>
<rect x="263.4" y="568.8" width="5.8" height="1" fill="#fdd8d4" opacity="0.13"/>
<rect x="269.2" y="568.8" width="3.0" height="1" fill="#d8747a" opacity="0.31"/>
<rect x="272.2" y="568.8" width="4.3" height="1" fill="#fdd8d4" opacity="0.36"/>
<rect x="276.5" y="568.8" width="3.8" height="1" fill="#fdd8d4" opacity="0.33"/>
<rect x="280.3" y="568.8" width="4.9" height="1" fill="#fdd8d4" opacity="0.34"/>
<rect x="285.3" y="568.8" width="4.7" height="1" fill="#fdd8d4" opacity="0.13"/>
<rect x="289.9" y="568.8" width="5.4" height="1" fill="#d8747a" opacity="0.34"/>
<rect x="295.4" y="568.8" width="4.1" height="1" fill="#fdd8d4" opacity="0.40"/>
<rect x="299.5" y="568.8" width="4.1" height="1" fill="#d8747a" opacity="0.34"/>
<rect x="303.6" y="568.8" width="5.4" height="1" fill="#fdd8d4" opacity="0.21"/>
<rect x="309.0" y="568.8" width="3.5" height="1" fill="#fdd8d4" opacity="0.32"/>
<rect x="312.5" y="568.8" width="2.8" height="1" fill="#d8747a" opacity="0.27"/>
<rect x="315.4" y="568.8" width="3.2" height="1" fill="#d8747a" opacity="0.35"/>
<rect x="318.6" y="568.8" width="5.2" height="1" fill="#fdd8d4" opacity="0.23"/>
<rect x="263.4" y="569.8" width="2.3" height="1" fill="#d8747a" opacity="0.14"/>
<rect x="265.7" y="569.8" width="4.1" height="1" fill="#fdd8d4" opacity="0.11"/>
<rect x="269.8" y="569.8" width="5.6" height="1" fill="#d8747a" opacity="0.36"/>
<rect x="275.5" y="569.8" width="5.3" height="1" fill="#fdd8d4" opacity="0.15"/>
<rect x="280.7" y="569.8" width="3.4" height="1" fill="#fdd8d4" opacity="0.09"/>
<rect x="284.1" y="569.8" width="1.7" height="1" fill="#fdd8d4" opacity="0.25"/>
<rect x="285.9" y="569.8" width="5.6" height="1" fill="#fdd8d4" opacity="0.26"/>
<rect x="291.5" y="569.8" width="6.0" height="1" fill="#fdd8d4" opacity="0.26"/>
<rect x="297.5" y="569.8" width="4.6" height="1" fill="#d8747a" opacity="0.21"/>
<rect x="302.1" y="569.8" width="4.2" height="1" fill="#d8747a" opacity="0.40"/>
<rect x="306.3" y="569.8" width="4.5" height="1" fill="#fdd8d4" opacity="0.12"/>
<rect x="310.8" y="569.8" width="3.2" height="1" fill="#d8747a" opacity="0.27"/>
<rect x="314.0" y="569.8" width="4.1" height="1" fill="#fdd8d4" opacity="0.41"/>
<rect x="318.1" y="569.8" width="3.7" height="1" fill="#d8747a" opacity="0.29"/>
<rect x="321.8" y="569.8" width="2.0" height="1" fill="#d8747a" opacity="0.26"/>
<rect x="263.4" y="570.8" width="5.2" height="1" fill="#d8747a" opacity="0.19"/>
<rect x="268.6" y="570.8" width="5.9" height="1" fill="#fdd8d4" opacity="0.26"/>
<rect x="274.5" y="570.8" width="2.0" height="1" fill="#fdd8d4" opacity="0.32"/>
<rect x="276.5" y="570.8" width="5.2" height="1" fill="#fdd8d4" opacity="0.38"/>
<rect x="281.7" y="570.8" width="3.4" height="1" fill="#d8747a" opacity="0.18"/>
<rect x="285.1" y="570.8" width="3.8" height="1" fill="#fdd8d4" opacity="0.15"/>
<rect x="288.9" y="570.8" width="2.3" height="1" fill="#fdd8d4" opacity="0.29"/>
<rect x="291.2" y="570.8" width="3.1" height="1" fill="#fdd8d4" opacity="0.30"/>
<rect x="294.3" y="570.8" width="1.7" height="1" fill="#d8747a" opacity="0.34"/>
<rect x="296.0" y="570.8" width="2.9" height="1" fill="#fdd8d4" opacity="0.09"/>
<rect x="298.8" y="570.8" width="2.9" height="1" fill="#fdd8d4" opacity="0.28"/>
<rect x="301.7" y="570.8" width="4.5" height="1" fill="#d8747a" opacity="0.25"/>
<rect x="306.2" y="570.8" width="4.0" height="1" fill="#d8747a" opacity="0.30"/>
<rect x="310.2" y="570.8" width="3.9" height="1" fill="#fdd8d4" opacity="0.28"/>
<rect x="314.1" y="570.8" width="3.3" height="1" fill="#d8747a" opacity="0.14"/>
<rect x="317.4" y="570.8" width="4.9" height="1" fill="#d8747a" opacity="0.12"/>
<rect x="322.4" y="570.8" width="1.4" height="1" fill="#fdd8d4" opacity="0.36"/>
<rect x="263.4" y="571.8" width="4.3" height="1" fill="#fdd8d4" opacity="0.11"/>
<rect x="267.7" y="571.8" width="1.6" height="1" fill="#fdd8d4" opacity="0.19"/>
<rect x="269.2" y="571.8" width="4.7" height="1" fill="#d8747a" opacity="0.15"/>
<rect x="273.9" y="571.8" width="2.7" height="1" fill="#d8747a" opacity="0.38"/>
<rect x="276.6" y="571.8" width="4.1" height="1" fill="#d8747a" opacity="0.24"/>
<rect x="280.8" y="571.8" width="3.2" height="1" fill="#d8747a" opacity="0.38"/>
<rect x="284.0" y="571.8" width="4.1" height="1" fill="#fdd8d4" opacity="0.23"/>
<rect x="288.1" y="571.8" width="4.3" height="1" fill="#d8747a" opacity="0.11"/>
<rect x="292.4" y="571.8" width="5.7" height="1" fill="#fdd8d4" opacity="0.19"/>
<rect x="298.1" y="571.8" width="5.5" height="1" fill="#fdd8d4" opacity="0.19"/>
<rect x="303.6" y="571.8" width="4.2" height="1" fill="#fdd8d4" opacity="0.25"/>
<rect x="307.8" y="571.8" width="5.8" height="1" fill="#d8747a" opacity="0.22"/>
<rect x="313.6" y="571.8" width="4.7" height="1" fill="#d8747a" opacity="0.19"/>
<rect x="318.4" y="571.8" width="5.4" height="1" fill="#fdd8d4" opacity="0.35"/>
<rect x="323.8" y="571.8" width="0.0" height="1" fill="#d8747a" opacity="0.21"/>
<rect x="263.4" y="572.8" width="2.3" height="1" fill="#fdd8d4" opacity="0.18"/>
<rect x="265.7" y="572.8" width="4.0" height="1" fill="#d8747a" opacity="0.26"/>
<rect x="269.8" y="572.8" width="3.2" height="1" fill="#d8747a" opacity="0.11"/>
<rect x="273.0" y="572.8" width="2.1" height="1" fill="#fdd8d4" opacity="0.20"/>
<rect x="275.1" y="572.8" width="2.6" height="1" fill="#d8747a" opacity="0.18"/>
<rect x="277.7" y="572.8" width="2.6" height="1" fill="#d8747a" opacity="0.30"/>
<rect x="280.2" y="572.8" width="3.0" height="1" fill="#d8747a" opacity="0.32"/>
<rect x="283.3" y="572.8" width="1.9" height="1" fill="#d8747a" opacity="0.36"/>
<rect x="285.2" y="572.8" width="2.1" height="1" fill="#d8747a" opacity="0.36"/>
<rect x="287.3" y="572.8" width="5.1" height="1" fill="#d8747a" opacity="0.20"/>
<rect x="292.4" y="572.8" width="4.8" height="1" fill="#d8747a" opacity="0.40"/>
<rect x="297.1" y="572.8" width="2.4" height="1" fill="#fdd8d4" opacity="0.26"/>
<rect x="299.6" y="572.8" width="2.5" height="1" fill="#fdd8d4" opacity="0.13"/>
<rect x="302.1" y="572.8" width="4.7" height="1" fill="#d8747a" opacity="0.38"/>
<rect x="306.8" y="572.8" width="4.1" height="1" fill="#d8747a" opacity="0.17"/>
<rect x="310.9" y="572.8" width="4.2" height="1" fill="#d8747a" opacity="0.37"/>
<rect x="315.1" y="572.8" width="2.1" height="1" fill="#fdd8d4" opacity="0.27"/>
<rect x="317.2" y="572.8" width="2.7" height="1" fill="#fdd8d4" opacity="0.21"/>
<rect x="319.9" y="572.8" width="3.9" height="1" fill="#fdd8d4" opacity="0.19"/>
<rect x="263.4" y="573.8" width="3.3" height="1" fill="#d8747a" opacity="0.15"/>
<rect x="266.7" y="573.8" width="5.3" height="1" fill="#d8747a" opacity="0.30"/>
<rect x="272.0" y="573.8" width="2.0" height="1" fill="#fdd8d4" opacity="0.21"/>
<rect x="274.0" y="573.8" width="3.8" height="1" fill="#d8747a" opacity="0.11"/>
<rect x="277.7" y="573.8" width="2.9" height="1" fill="#d8747a" opacity="0.13"/>
<rect x="280.6" y="573.8" width="4.7" height="1" fill="#d8747a" opacity="0.22"/>
<rect x="285.4" y="573.8" width="5.6" height="1" fill="#fdd8d4" opacity="0.38"/>
<rect x="290.9" y="573.8" width="5.4" height="1" fill="#d8747a" opacity="0.18"/>
<rect x="296.3" y="573.8" width="1.6" height="1" fill="#fdd8d4" opacity="0.31"/>
<rect x="298.0" y="573.8" width="3.1" height="1" fill="#d8747a" opacity="0.30"/>
<rect x="301.0" y="573.8" width="4.6" height="1" fill="#d8747a" opacity="0.36"/>
<rect x="305.7" y="573.8" width="3.1" height="1" fill="#fdd8d4" opacity="0.15"/>
<rect x="308.8" y="573.8" width="2.0" height="1" fill="#fdd8d4" opacity="0.33"/>
<rect x="310.8" y="573.8" width="4.7" height="1" fill="#d8747a" opacity="0.10"/>
<rect x="315.5" y="573.8" width="2.2" height="1" fill="#d8747a" opacity="0.19"/>
<rect x="317.7" y="573.8" width="3.2" height="1" fill="#d8747a" opacity="0.19"/>
<rect x="320.9" y="573.8" width="2.9" height="1" fill="#d8747a" opacity="0.36"/>
<rect x="263.4" y="574.8" width="4.1" height="1" fill="#fdd8d4" opacity="0.17"/>
<rect x="267.5" y="574.8" width="3.5" height="1" fill="#fdd8d4" opacity="0.20"/>
<rect x="270.9" y="574.8" width="1.5" height="1" fill="#fdd8d4" opacity="0.35"/>
<rect x="272.4" y="574.8" width="2.8" height="1" fill="#d8747a" opacity="0.36"/>
<rect x="275.2" y="574.8" width="4.2" height="1" fill="#d8747a" opacity="0.17"/>
<rect x="279.4" y="574.8" width="2.0" height="1" fill="#fdd8d4" opacity="0.16"/>
<rect x="281.4" y="574.8" width="5.6" height="1" fill="#fdd8d4" opacity="0.11"/>
<rect x="287.1" y="574.8" width="4.6" height="1" fill="#d8747a" opacity="0.33"/>
<rect x="291.7" y="574.8" width="5.2" height="1" fill="#d8747a" opacity="0.12"/>
<rect x="296.9" y="574.8" width="5.8" height="1" fill="#d8747a" opacity="0.39"/>
<rect x="302.7" y="574.8" width="4.6" height="1" fill="#fdd8d4" opacity="0.37"/>
<rect x="307.3" y="574.8" width="4.3" height="1" fill="#fdd8d4" opacity="0.10"/>
<rect x="311.6" y="574.8" width="4.6" height="1" fill="#d8747a" opacity="0.25"/>
<rect x="316.3" y="574.8" width="5.7" height="1" fill="#d8747a" opacity="0.33"/>
<rect x="321.9" y="574.8" width="1.7" height="1" fill="#fdd8d4" opacity="0.36"/>
<rect x="323.6" y="574.8" width="0.2" height="1" fill="#fdd8d4" opacity="0.42"/>
<rect x="263.4" y="575.8" width="4.4" height="1" fill="#fdd8d4" opacity="0.17"/>
<rect x="267.8" y="575.8" width="1.8" height="1" fill="#d8747a" opacity="0.22"/>
<rect x="269.5" y="575.8" width="2.4" height="1" fill="#d8747a" opacity="0.13"/>
<rect x="271.9" y="575.8" width="4.7" height="1" fill="#fdd8d4" opacity="0.17"/>
<rect x="276.6" y="575.8" width="2.6" height="1" fill="#fdd8d4" opacity="0.24"/>
<rect x="279.2" y="575.8" width="5.7" height="1" fill="#d8747a" opacity="0.19"/>
<rect x="284.9" y="575.8" width="5.5" height="1" fill="#d8747a" opacity="0.27"/>
<rect x="290.4" y="575.8" width="3.0" height="1" fill="#fdd8d4" opacity="0.27"/>
<rect x="293.4" y="575.8" width="4.9" height="1" fill="#d8747a" opacity="0.30"/>
<rect x="298.3" y="575.8" width="4.2" height="1" fill="#fdd8d4" opacity="0.35"/>
<rect x="302.5" y="575.8" width="5.2" height="1" fill="#d8747a" opacity="0.18"/>
<rect x="307.8" y="575.8" width="3.1" height="1" fill="#d8747a" opacity="0.11"/>
<rect x="310.9" y="575.8" width="2.8" height="1" fill="#d8747a" opacity="0.31"/>
<rect x="313.6" y="575.8" width="3.5" height="1" fill="#d8747a" opacity="0.19"/>
<rect x="317.2" y="575.8" width="3.6" height="1" fill="#d8747a" opacity="0.14"/>
<rect x="320.8" y="575.8" width="1.8" height="1" fill="#d8747a" opacity="0.41"/>
<rect x="322.6" y="575.8" width="1.2" height="1" fill="#d8747a" opacity="0.32"/>
<rect x="263.4" y="576.8" width="5.9" height="1" fill="#fdd8d4" opacity="0.12"/>
<rect x="269.3" y="576.8" width="3.7" height="1" fill="#d8747a" opacity="0.15"/>
<rect x="273.0" y="576.8" width="3.9" height="1" fill="#d8747a" opacity="0.38"/>
<rect x="277.0" y="576.8" width="4.4" height="1" fill="#fdd8d4" opacity="0.41"/>
<rect x="281.4" y="576.8" width="4.4" height="1" fill="#d8747a" opacity="0.17"/>
<rect x="285.8" y="576.8" width="2.1" height="1" fill="#d8747a" opacity="0.34"/>
<rect x="287.9" y="576.8" width="5.3" height="1" fill="#d8747a" opacity="0.15"/>
<rect x="293.2" y="576.8" width="4.4" height="1" fill="#fdd8d4" opacity="0.40"/>
<rect x="297.6" y="576.8" width="2.3" height="1" fill="#fdd8d4" opacity="0.37"/>
<rect x="299.8" y="576.8" width="4.8" height="1" fill="#d8747a" opacity="0.15"/>
<rect x="304.7" y="576.8" width="5.2" height="1" fill="#d8747a" opacity="0.21"/>
<rect x="309.9" y="576.8" width="4.0" height="1" fill="#d8747a" opacity="0.35"/>
<rect x="313.9" y="576.8" width="2.6" height="1" fill="#d8747a" opacity="0.27"/>
<rect x="316.4" y="576.8" width="4.3" height="1" fill="#fdd8d4" opacity="0.33"/>
<rect x="320.8" y="576.8" width="3.0" height="1" fill="#fdd8d4" opacity="0.26"/>
<rect x="263.4" y="577.8" width="3.7" height="1" fill="#d8747a" opacity="0.19"/>
<rect x="267.1" y="577.8" width="4.1" height="1" fill="#d8747a" opacity="0.31"/>
<rect x="271.3" y="577.8" width="2.2" height="1" fill="#d8747a" opacity="0.40"/>
<rect x="273.5" y="577.8" width="1.9" height="1" fill="#d8747a" opacity="0.23"/>
<rect x="275.4" y="577.8" width="2.4" height="1" fill="#fdd8d4" opacity="0.09"/>
<rect x="277.8" y="577.8" width="5.3" height="1" fill="#fdd8d4" opacity="0.36"/>
<rect x="283.0" y="577.8" width="3.4" height="1" fill="#d8747a" opacity="0.30"/>
<rect x="286.5" y="577.8" width="3.8" height="1" fill="#d8747a" opacity="0.20"/>
<rect x="290.3" y="577.8" width="3.5" height="1" fill="#fdd8d4" opacity="0.37"/>
<rect x="293.7" y="577.8" width="5.6" height="1" fill="#d8747a" opacity="0.18"/>
<rect x="299.3" y="577.8" width="3.5" height="1" fill="#fdd8d4" opacity="0.21"/>
<rect x="302.8" y="577.8" width="2.4" height="1" fill="#d8747a" opacity="0.19"/>
<rect x="305.2" y="577.8" width="3.6" height="1" fill="#fdd8d4" opacity="0.40"/>
<rect x="308.8" y="577.8" width="5.4" height="1" fill="#fdd8d4" opacity="0.42"/>
<rect x="314.2" y="577.8" width="4.3" height="1" fill="#fdd8d4" opacity="0.11"/>
<rect x="318.4" y="577.8" width="4.5" height="1" fill="#fdd8d4" opacity="0.19"/>
<rect x="323.0" y="577.8" width="0.8" height="1" fill="#fdd8d4" opacity="0.25"/>
<rect x="263.4" y="578.8" width="4.4" height="1" fill="#d8747a" opacity="0.20"/>
<rect x="267.8" y="578.8" width="5.5" height="1" fill="#d8747a" opacity="0.15"/>
<rect x="273.3" y="578.8" width="4.6" height="1" fill="#d8747a" opacity="0.12"/>
<rect x="277.9" y="578.8" width="4.5" height="1" fill="#d8747a" opacity="0.27"/>
<rect x="282.3" y="578.8" width="3.4" height="1" fill="#fdd8d4" opacity="0.28"/>
<rect x="285.7" y="578.8" width="3.3" height="1" fill="#d8747a" opacity="0.15"/>
<rect x="289.0" y="578.8" width="5.5" height="1" fill="#fdd8d4" opacity="0.13"/>
<rect x="294.5" y="578.8" width="5.4" height="1" fill="#d8747a" opacity="0.12"/>
<rect x="299.9" y="578.8" width="3.9" height="1" fill="#d8747a" opacity="0.24"/>
<rect x="303.8" y="578.8" width="4.0" height="1" fill="#d8747a" opacity="0.27"/>
<rect x="307.7" y="578.8" width="2.0" height="1" fill="#fdd8d4" opacity="0.29"/>
<rect x="309.8" y="578.8" width="1.9" height="1" fill="#d8747a" opacity="0.11"/>
<rect x="311.6" y="578.8" width="3.5" height="1" fill="#fdd8d4" opacity="0.28"/>
<rect x="315.1" y="578.8" width="4.7" height="1" fill="#fdd8d4" opacity="0.13"/>
<rect x="319.8" y="578.8" width="4.0" height="1" fill="#fdd8d4" opacity="0.12"/>
<rect x="263.4" y="579.8" width="5.2" height="1" fill="#d8747a" opacity="0.14"/>
<rect x="268.6" y="579.8" width="5.8" height="1" fill="#fdd8d4" opacity="0.36"/>
<rect x="274.5" y="579.8" width="2.1" height="1" fill="#fdd8d4" opacity="0.11"/>
<rect x="276.6" y="579.8" width="2.6" height="1" fill="#d8747a" opacity="0.09"/>
<rect x="279.1" y="579.8" width="4.2" height="1" fill="#d8747a" opacity="0.18"/>
<rect x="283.3" y="579.8" width="4.7" height="1" fill="#d8747a" opacity="0.37"/>
<rect x="288.0" y="579.8" width="4.3" height="1" fill="#fdd8d4" opacity="0.28"/>
<rect x="292.3" y="579.8" width="5.6" height="1" fill="#fdd8d4" opacity="0.15"/>
<rect x="297.9" y="579.8" width="4.9" height="1" fill="#d8747a" opacity="0.33"/>
<rect x="302.8" y="579.8" width="4.6" height="1" fill="#fdd8d4" opacity="0.13"/>
<rect x="307.3" y="579.8" width="3.2" height="1" fill="#fdd8d4" opacity="0.42"/>
<rect x="310.5" y="579.8" width="4.7" height="1" fill="#d8747a" opacity="0.28"/>
<rect x="315.3" y="579.8" width="1.9" height="1" fill="#fdd8d4" opacity="0.37"/>
<rect x="317.2" y="579.8" width="2.0" height="1" fill="#fdd8d4" opacity="0.32"/>
<rect x="319.2" y="579.8" width="2.6" height="1" fill="#d8747a" opacity="0.23"/>
<rect x="321.9" y="579.8" width="1.9" height="1" fill="#fdd8d4" opacity="0.13"/>
<rect x="263.4" y="580.8" width="1.6" height="1" fill="#d8747a" opacity="0.34"/>
<rect x="265.0" y="580.8" width="2.3" height="1" fill="#fdd8d4" opacity="0.19"/>
<rect x="267.3" y="580.8" width="4.6" height="1" fill="#d8747a" opacity="0.14"/>
<rect x="271.9" y="580.8" width="5.4" height="1" fill="#fdd8d4" opacity="0.33"/>
<rect x="277.4" y="580.8" width="5.1" height="1" fill="#fdd8d4" opacity="0.09"/>
<rect x="282.5" y="580.8" width="3.0" height="1" fill="#d8747a" opacity="0.25"/>
<rect x="285.5" y="580.8" width="5.4" height="1" fill="#fdd8d4" opacity="0.10"/>
<rect x="291.0" y="580.8" width="2.3" height="1" fill="#fdd8d4" opacity="0.32"/>
<rect x="293.3" y="580.8" width="3.3" height="1" fill="#fdd8d4" opacity="0.14"/>
<rect x="296.6" y="580.8" width="5.3" height="1" fill="#d8747a" opacity="0.36"/>
<rect x="301.9" y="580.8" width="4.2" height="1" fill="#d8747a" opacity="0.19"/>
<rect x="306.1" y="580.8" width="2.5" height="1" fill="#fdd8d4" opacity="0.29"/>
<rect x="308.6" y="580.8" width="1.7" height="1" fill="#d8747a" opacity="0.20"/>
<rect x="310.3" y="580.8" width="3.6" height="1" fill="#fdd8d4" opacity="0.22"/>
<rect x="313.9" y="580.8" width="3.1" height="1" fill="#d8747a" opacity="0.27"/>
<rect x="317.0" y="580.8" width="3.0" height="1" fill="#d8747a" opacity="0.23"/>
<rect x="320.0" y="580.8" width="3.8" height="1" fill="#d8747a" opacity="0.14"/>
<rect x="263.4" y="581.8" width="4.5" height="1" fill="#d8747a" opacity="0.18"/>
<rect x="267.9" y="581.8" width="3.8" height="1" fill="#d8747a" opacity="0.27"/>
<rect x="271.7" y="581.8" width="3.9" height="1" fill="#fdd8d4" opacity="0.43"/>
<rect x="275.5" y="581.8" width="1.7" height="1" fill="#fdd8d4" opacity="0.36"/>
<rect x="277.2" y="581.8" width="5.4" height="1" fill="#fdd8d4" opacity="0.31"/>
<rect x="282.6" y="581.8" width="4.4" height="1" fill="#d8747a" opacity="0.18"/>
<rect x="287.0" y="581.8" width="5.1" height="1" fill="#fdd8d4" opacity="0.42"/>
<rect x="292.1" y="581.8" width="4.6" height="1" fill="#d8747a" opacity="0.33"/>
<rect x="296.6" y="581.8" width="4.8" height="1" fill="#fdd8d4" opacity="0.31"/>
<rect x="301.5" y="581.8" width="3.1" height="1" fill="#fdd8d4" opacity="0.23"/>
<rect x="304.5" y="581.8" width="1.8" height="1" fill="#d8747a" opacity="0.19"/>
<rect x="306.3" y="581.8" width="5.9" height="1" fill="#fdd8d4" opacity="0.22"/>
<rect x="312.3" y="581.8" width="2.6" height="1" fill="#d8747a" opacity="0.20"/>
<rect x="314.8" y="581.8" width="2.1" height="1" fill="#d8747a" opacity="0.36"/>
<rect x="317.0" y="581.8" width="3.5" height="1" fill="#d8747a" opacity="0.27"/>
<rect x="320.5" y="581.8" width="2.9" height="1" fill="#d8747a" opacity="0.11"/>
<rect x="323.4" y="581.8" width="0.4" height="1" fill="#d8747a" opacity="0.32"/>
<rect x="263.4" y="582.8" width="4.0" height="1" fill="#fdd8d4" opacity="0.21"/>
<rect x="267.4" y="582.8" width="5.6" height="1" fill="#fdd8d4" opacity="0.12"/>
<rect x="273.0" y="582.8" width="2.3" height="1" fill="#fdd8d4" opacity="0.43"/>
<rect x="275.3" y="582.8" width="3.1" height="1" fill="#fdd8d4" opacity="0.24"/>
<rect x="278.4" y="582.8" width="5.4" height="1" fill="#d8747a" opacity="0.24"/>
<rect x="283.8" y="582.8" width="5.5" height="1" fill="#d8747a" opacity="0.17"/>
<rect x="289.4" y="582.8" width="1.6" height="1" fill="#d8747a" opacity="0.17"/>
<rect x="291.0" y="582.8" width="4.7" height="1" fill="#d8747a" opacity="0.21"/>
<rect x="295.7" y="582.8" width="2.4" height="1" fill="#fdd8d4" opacity="0.39"/>
<rect x="298.1" y="582.8" width="4.4" height="1" fill="#d8747a" opacity="0.32"/>
<rect x="302.5" y="582.8" width="5.8" height="1" fill="#fdd8d4" opacity="0.12"/>
<rect x="308.3" y="582.8" width="5.1" height="1" fill="#fdd8d4" opacity="0.21"/>
<rect x="313.5" y="582.8" width="2.1" height="1" fill="#d8747a" opacity="0.26"/>
<rect x="315.6" y="582.8" width="5.4" height="1" fill="#fdd8d4" opacity="0.41"/>
<rect x="321.0" y="582.8" width="2.5" height="1" fill="#d8747a" opacity="0.32"/>
<rect x="323.5" y="582.8" width="0.3" height="1" fill="#d8747a" opacity="0.30"/>
<rect x="263.4" y="583.8" width="3.0" height="1" fill="#d8747a" opacity="0.22"/>
<rect x="266.4" y="583.8" width="1.7" height="1" fill="#fdd8d4" opacity="0.21"/>
<rect x="268.1" y="583.8" width="3.7" height="1" fill="#fdd8d4" opacity="0.18"/>
<rect x="271.8" y="583.8" width="3.6" height="1" fill="#d8747a" opacity="0.38"/>
<rect x="275.4" y="583.8" width="4.0" height="1" fill="#fdd8d4" opacity="0.11"/>
<rect x="279.5" y="583.8" width="4.3" height="1" fill="#fdd8d4" opacity="0.20"/>
<rect x="283.7" y="583.8" width="1.9" height="1" fill="#d8747a" opacity="0.13"/>
<rect x="285.7" y="583.8" width="5.0" height="1" fill="#d8747a" opacity="0.34"/>
<rect x="290.6" y="583.8" width="3.4" height="1" fill="#fdd8d4" opacity="0.30"/>
<rect x="294.0" y="583.8" width="4.0" height="1" fill="#fdd8d4" opacity="0.30"/>
<rect x="298.0" y="583.8" width="3.0" height="1" fill="#fdd8d4" opacity="0.18"/>
<rect x="301.0" y="583.8" width="4.7" height="1" fill="#fdd8d4" opacity="0.36"/>
<rect x="305.7" y="583.8" width="2.9" height="1" fill="#fdd8d4" opacity="0.43"/>
<rect x="308.6" y="583.8" width="3.5" height="1" fill="#d8747a" opacity="0.25"/>
<rect x="312.1" y="583.8" width="5.7" height="1" fill="#d8747a" opacity="0.09"/>
<rect x="317.9" y="583.8" width="3.6" height="1" fill="#fdd8d4" opacity="0.36"/>
<rect x="321.5" y="583.8" width="2.3" height="1" fill="#fdd8d4" opacity="0.17"/>
<rect x="263.4" y="584.8" width="4.9" height="1" fill="#d8747a" opacity="0.10"/>
<rect x="268.3" y="584.8" width="2.1" height="1" fill="#d8747a" opacity="0.25"/>
<rect x="270.4" y="584.8" width="4.0" height="1" fill="#d8747a" opacity="0.38"/>
<rect x="274.4" y="584.8" width="3.1" height="1" fill="#d8747a" opacity="0.14"/>
<rect x="277.6" y="584.8" width="4.8" height="1" fill="#fdd8d4" opacity="0.15"/>
<rect x="282.4" y="584.8" width="1.6" height="1" fill="#fdd8d4" opacity="0.17"/>
<rect x="284.0" y="584.8" width="5.9" height="1" fill="#fdd8d4" opacity="0.31"/>
<rect x="289.9" y="584.8" width="3.0" height="1" fill="#fdd8d4" opacity="0.25"/>
<rect x="293.0" y="584.8" width="3.0" height="1" fill="#fdd8d4" opacity="0.13"/>
<rect x="295.9" y="584.8" width="4.8" height="1" fill="#d8747a" opacity="0.29"/>
<rect x="300.7" y="584.8" width="3.3" height="1" fill="#fdd8d4" opacity="0.11"/>
<rect x="304.0" y="584.8" width="4.0" height="1" fill="#d8747a" opacity="0.38"/>
<rect x="308.1" y="584.8" width="5.8" height="1" fill="#fdd8d4" opacity="0.17"/>
<rect x="313.8" y="584.8" width="2.6" height="1" fill="#d8747a" opacity="0.22"/>
<rect x="316.5" y="584.8" width="2.5" height="1" fill="#d8747a" opacity="0.33"/>
<rect x="319.0" y="584.8" width="4.4" height="1" fill="#d8747a" opacity="0.40"/>
<rect x="323.4" y="584.8" width="0.4" height="1" fill="#fdd8d4" opacity="0.14"/>
<rect x="263.4" y="585.8" width="5.4" height="1" fill="#fdd8d4" opacity="0.18"/>
<rect x="268.8" y="585.8" width="4.9" height="1" fill="#fdd8d4" opacity="0.19"/>
<rect x="273.7" y="585.8" width="3.0" height="1" fill="#fdd8d4" opacity="0.40"/>
<rect x="276.7" y="585.8" width="2.2" height="1" fill="#fdd8d4" opacity="0.30"/>
<rect x="278.9" y="585.8" width="3.5" height="1" fill="#fdd8d4" opacity="0.40"/>
<rect x="282.4" y="585.8" width="2.4" height="1" fill="#fdd8d4" opacity="0.22"/>
<rect x="284.9" y="585.8" width="5.0" height="1" fill="#fdd8d4" opacity="0.15"/>
<rect x="289.9" y="585.8" width="5.4" height="1" fill="#fdd8d4" opacity="0.19"/>
<rect x="295.3" y="585.8" width="1.6" height="1" fill="#d8747a" opacity="0.39"/>
<rect x="296.9" y="585.8" width="1.5" height="1" fill="#fdd8d4" opacity="0.14"/>
<rect x="298.4" y="585.8" width="4.8" height="1" fill="#d8747a" opacity="0.14"/>
<rect x="303.2" y="585.8" width="4.6" height="1" fill="#d8747a" opacity="0.19"/>
<rect x="307.8" y="585.8" width="5.6" height="1" fill="#fdd8d4" opacity="0.40"/>
<rect x="313.4" y="585.8" width="5.9" height="1" fill="#d8747a" opacity="0.16"/>
<rect x="319.3" y="585.8" width="4.5" height="1" fill="#fdd8d4" opacity="0.10"/>
<rect x="263.4" y="586.8" width="3.8" height="1" fill="#d8747a" opacity="0.22"/>
<rect x="267.2" y="586.8" width="2.0" height="1" fill="#d8747a" opacity="0.40"/>
<rect x="269.1" y="586.8" width="2.9" height="1" fill="#fdd8d4" opacity="0.13"/>
<rect x="272.1" y="586.8" width="3.7" height="1" fill="#d8747a" opacity="0.22"/>
<rect x="275.8" y="586.8" width="2.3" height="1" fill="#fdd8d4" opacity="0.14"/>
<rect x="278.1" y="586.8" width="4.8" height="1" fill="#fdd8d4" opacity="0.13"/>
<rect x="282.9" y="586.8" width="3.1" height="1" fill="#fdd8d4" opacity="0.42"/>
<rect x="286.0" y="586.8" width="3.1" height="1" fill="#d8747a" opacity="0.39"/>
<rect x="289.1" y="586.8" width="5.5" height="1" fill="#fdd8d4" opacity="0.19"/>
<rect x="294.5" y="586.8" width="2.3" height="1" fill="#d8747a" opacity="0.11"/>
<rect x="296.8" y="586.8" width="1.7" height="1" fill="#fdd8d4" opacity="0.23"/>
<rect x="298.5" y="586.8" width="4.0" height="1" fill="#d8747a" opacity="0.09"/>
<rect x="302.5" y="586.8" width="4.6" height="1" fill="#fdd8d4" opacity="0.28"/>
<rect x="307.1" y="586.8" width="4.0" height="1" fill="#fdd8d4" opacity="0.44"/>
<rect x="311.1" y="586.8" width="5.4" height="1" fill="#fdd8d4" opacity="0.23"/>
<rect x="316.5" y="586.8" width="2.9" height="1" fill="#d8747a" opacity="0.39"/>
<rect x="319.5" y="586.8" width="3.2" height="1" fill="#d8747a" opacity="0.22"/>
<rect x="322.7" y="586.8" width="1.1" height="1" fill="#fdd8d4" opacity="0.09"/>
<rect x="263.4" y="587.8" width="4.2" height="1" fill="#fdd8d4" opacity="0.18"/>
<rect x="267.6" y="587.8" width="4.2" height="1" fill="#d8747a" opacity="0.16"/>
<rect x="271.9" y="587.8" width="2.4" height="1" fill="#d8747a" opacity="0.35"/>
<rect x="274.3" y="587.8" width="5.0" height="1" fill="#fdd8d4" opacity="0.11"/>
<rect x="279.3" y="587.8" width="4.6" height="1" fill="#d8747a" opacity="0.29"/>
<rect x="283.9" y="587.8" width="4.0" height="1" fill="#d8747a" opacity="0.39"/>
<rect x="287.9" y="587.8" width="1.5" height="1" fill="#fdd8d4" opacity="0.39"/>
<rect x="289.4" y="587.8" width="3.8" height="1" fill="#fdd8d4" opacity="0.44"/>
<rect x="293.2" y="587.8" width="2.6" height="1" fill="#fdd8d4" opacity="0.36"/>
<rect x="295.8" y="587.8" width="3.2" height="1" fill="#fdd8d4" opacity="0.23"/>
<rect x="299.0" y="587.8" width="3.9" height="1" fill="#fdd8d4" opacity="0.33"/>
<rect x="302.8" y="587.8" width="2.9" height="1" fill="#fdd8d4" opacity="0.28"/>
<rect x="305.8" y="587.8" width="2.5" height="1" fill="#fdd8d4" opacity="0.18"/>
<rect x="308.3" y="587.8" width="5.6" height="1" fill="#fdd8d4" opacity="0.35"/>
<rect x="313.9" y="587.8" width="3.8" height="1" fill="#fdd8d4" opacity="0.17"/>
<rect x="317.7" y="587.8" width="2.1" height="1" fill="#fdd8d4" opacity="0.28"/>
<rect x="319.9" y="587.8" width="3.9" height="1" fill="#fdd8d4" opacity="0.38"/>
<rect x="323.7" y="587.8" width="0.1" height="1" fill="#d8747a" opacity="0.34"/>
<rect x="263.4" y="588.8" width="3.6" height="1" fill="#fdd8d4" opacity="0.39"/>
<rect x="267.0" y="588.8" width="5.5" height="1" fill="#fdd8d4" opacity="0.11"/>
<rect x="272.5" y="588.8" width="3.2" height="1" fill="#fdd8d4" opacity="0.38"/>
<rect x="275.7" y="588.8" width="2.1" height="1" fill="#d8747a" opacity="0.17"/>
<rect x="277.8" y="588.8" width="2.0" height="1" fill="#d8747a" opacity="0.34"/>
<rect x="279.7" y="588.8" width="3.8" height="1" fill="#fdd8d4" opacity="0.12"/>
<rect x="283.6" y="588.8" width="3.3" height="1" fill="#fdd8d4" opacity="0.34"/>
<rect x="286.9" y="588.8" width="3.5" height="1" fill="#fdd8d4" opacity="0.38"/>
<rect x="290.4" y="588.8" width="4.9" height="1" fill="#d8747a" opacity="0.30"/>
<rect x="295.3" y="588.8" width="3.2" height="1" fill="#fdd8d4" opacity="0.17"/>
<rect x="298.4" y="588.8" width="3.2" height="1" fill="#d8747a" opacity="0.21"/>
<rect x="301.6" y="588.8" width="1.6" height="1" fill="#d8747a" opacity="0.26"/>
<rect x="303.2" y="588.8" width="1.8" height="1" fill="#d8747a" opacity="0.31"/>
<rect x="304.9" y="588.8" width="2.7" height="1" fill="#d8747a" opacity="0.16"/>
<rect x="307.7" y="588.8" width="5.3" height="1" fill="#d8747a" opacity="0.28"/>
<rect x="312.9" y="588.8" width="5.4" height="1" fill="#d8747a" opacity="0.22"/>
<rect x="318.3" y="588.8" width="5.1" height="1" fill="#fdd8d4" opacity="0.22"/>
<rect x="323.4" y="588.8" width="0.4" height="1" fill="#d8747a" opacity="0.20"/>
<rect x="263.4" y="589.8" width="4.7" height="1" fill="#d8747a" opacity="0.21"/>
<rect x="268.1" y="589.8" width="4.4" height="1" fill="#fdd8d4" opacity="0.22"/>
<rect x="272.5" y="589.8" width="3.2" height="1" fill="#fdd8d4" opacity="0.42"/>
<rect x="275.8" y="589.8" width="2.4" height="1" fill="#fdd8d4" opacity="0.35"/>
<rect x="278.1" y="589.8" width="3.2" height="1" fill="#fdd8d4" opacity="0.21"/>
<rect x="281.3" y="589.8" width="1.8" height="1" fill="#fdd8d4" opacity="0.23"/>
<rect x="283.1" y="589.8" width="3.9" height="1" fill="#fdd8d4" opacity="0.41"/>
<rect x="287.0" y="589.8" width="4.9" height="1" fill="#d8747a" opacity="0.27"/>
<rect x="291.9" y="589.8" width="3.6" height="1" fill="#fdd8d4" opacity="0.39"/>
<rect x="295.5" y="589.8" width="3.4" height="1" fill="#fdd8d4" opacity="0.41"/>
<rect x="298.8" y="589.8" width="3.5" height="1" fill="#fdd8d4" opacity="0.27"/>
<rect x="302.3" y="589.8" width="5.2" height="1" fill="#fdd8d4" opacity="0.36"/>
<rect x="307.5" y="589.8" width="3.3" height="1" fill="#d8747a" opacity="0.30"/>
<rect x="310.8" y="589.8" width="4.0" height="1" fill="#fdd8d4" opacity="0.37"/>
<rect x="314.8" y="589.8" width="2.0" height="1" fill="#d8747a" opacity="0.11"/>
<rect x="316.9" y="589.8" width="5.2" height="1" fill="#d8747a" opacity="0.12"/>
<rect x="322.0" y="589.8" width="1.8" height="1" fill="#fdd8d4" opacity="0.11"/>
<rect x="263.4" y="590.8" width="4.6" height="1" fill="#fdd8d4" opacity="0.26"/>
<rect x="268.0" y="590.8" width="1.7" height="1" fill="#fdd8d4" opacity="0.24"/>
<rect x="269.7" y="590.8" width="4.1" height="1" fill="#fdd8d4" opacity="0.39"/>
<rect x="273.8" y="590.8" width="5.4" height="1" fill="#d8747a" opacity="0.19"/>
<rect x="279.3" y="590.8" width="3.8" height="1" fill="#d8747a" opacity="0.39"/>
<rect x="283.1" y="590.8" width="2.7" height="1" fill="#d8747a" opacity="0.18"/>
<rect x="285.8" y="590.8" width="2.6" height="1" fill="#fdd8d4" opacity="0.29"/>
<rect x="288.5" y="590.8" width="3.8" height="1" fill="#d8747a" opacity="0.10"/>
<rect x="292.3" y="590.8" width="2.9" height="1" fill="#fdd8d4" opacity="0.38"/>
<rect x="295.1" y="590.8" width="5.4" height="1" fill="#d8747a" opacity="0.15"/>
<rect x="300.5" y="590.8" width="1.7" height="1" fill="#fdd8d4" opacity="0.23"/>
<rect x="302.2" y="590.8" width="3.6" height="1" fill="#fdd8d4" opacity="0.30"/>
<rect x="305.8" y="590.8" width="3.1" height="1" fill="#fdd8d4" opacity="0.16"/>
<rect x="309.0" y="590.8" width="5.6" height="1" fill="#fdd8d4" opacity="0.11"/>
<rect x="314.6" y="590.8" width="2.9" height="1" fill="#fdd8d4" opacity="0.24"/>
<rect x="317.5" y="590.8" width="4.0" height="1" fill="#d8747a" opacity="0.17"/>
<rect x="321.6" y="590.8" width="2.2" height="1" fill="#d8747a" opacity="0.31"/>
<rect x="263.4" y="591.8" width="5.1" height="1" fill="#fdd8d4" opacity="0.26"/>
<rect x="268.5" y="591.8" width="5.7" height="1" fill="#d8747a" opacity="0.36"/>
<rect x="274.2" y="591.8" width="1.8" height="1" fill="#d8747a" opacity="0.28"/>
<rect x="276.0" y="591.8" width="1.7" height="1" fill="#fdd8d4" opacity="0.12"/>
<rect x="277.7" y="591.8" width="4.2" height="1" fill="#d8747a" opacity="0.37"/>
<rect x="281.9" y="591.8" width="4.0" height="1" fill="#fdd8d4" opacity="0.27"/>
<rect x="285.9" y="591.8" width="4.5" height="1" fill="#fdd8d4" opacity="0.20"/>
<rect x="290.4" y="591.8" width="2.4" height="1" fill="#fdd8d4" opacity="0.14"/>
<rect x="292.9" y="591.8" width="5.6" height="1" fill="#d8747a" opacity="0.12"/>
<rect x="298.5" y="591.8" width="1.9" height="1" fill="#fdd8d4" opacity="0.44"/>
<rect x="300.4" y="591.8" width="3.4" height="1" fill="#fdd8d4" opacity="0.18"/>
<rect x="303.8" y="591.8" width="5.6" height="1" fill="#fdd8d4" opacity="0.15"/>
<rect x="309.4" y="591.8" width="1.8" height="1" fill="#fdd8d4" opacity="0.11"/>
<rect x="311.1" y="591.8" width="5.3" height="1" fill="#d8747a" opacity="0.16"/>
<rect x="316.4" y="591.8" width="4.1" height="1" fill="#d8747a" opacity="0.26"/>
<rect x="320.5" y="591.8" width="2.2" height="1" fill="#fdd8d4" opacity="0.21"/>
<rect x="322.7" y="591.8" width="1.1" height="1" fill="#d8747a" opacity="0.33"/>
<rect x="263.4" y="592.8" width="5.9" height="1" fill="#d8747a" opacity="0.10"/>
<rect x="269.3" y="592.8" width="3.2" height="1" fill="#fdd8d4" opacity="0.17"/>
<rect x="272.5" y="592.8" width="4.0" height="1" fill="#d8747a" opacity="0.23"/>
<rect x="276.5" y="592.8" width="4.8" height="1" fill="#d8747a" opacity="0.30"/>
<rect x="281.3" y="592.8" width="2.0" height="1" fill="#fdd8d4" opacity="0.14"/>
<rect x="283.3" y="592.8" width="5.7" height="1" fill="#fdd8d4" opacity="0.43"/>
<rect x="288.9" y="592.8" width="3.9" height="1" fill="#d8747a" opacity="0.19"/>
<rect x="292.8" y="592.8" width="4.9" height="1" fill="#fdd8d4" opacity="0.43"/>
<rect x="297.7" y="592.8" width="1.9" height="1" fill="#fdd8d4" opacity="0.41"/>
<rect x="299.6" y="592.8" width="4.2" height="1" fill="#fdd8d4" opacity="0.12"/>
<rect x="303.8" y="592.8" width="2.1" height="1" fill="#d8747a" opacity="0.36"/>
<rect x="305.9" y="592.8" width="5.3" height="1" fill="#d8747a" opacity="0.37"/>
<rect x="311.2" y="592.8" width="1.6" height="1" fill="#fdd8d4" opacity="0.44"/>
<rect x="312.9" y="592.8" width="3.0" height="1" fill="#fdd8d4" opacity="0.33"/>
<rect x="315.9" y="592.8" width="1.7" height="1" fill="#d8747a" opacity="0.22"/>
<rect x="317.6" y="592.8" width="2.6" height="1" fill="#fdd8d4" opacity="0.16"/>
<rect x="320.2" y="592.8" width="3.6" height="1" fill="#d8747a" opacity="0.11"/>
<rect x="263.4" y="593.8" width="4.0" height="1" fill="#d8747a" opacity="0.26"/>
<rect x="267.4" y="593.8" width="5.0" height="1" fill="#fdd8d4" opacity="0.26"/>
<rect x="272.5" y="593.8" width="1.7" height="1" fill="#fdd8d4" opacity="0.13"/>
<rect x="274.1" y="593.8" width="4.4" height="1" fill="#d8747a" opacity="0.26"/>
<rect x="278.5" y="593.8" width="3.1" height="1" fill="#d8747a" opacity="0.29"/>
<rect x="281.6" y="593.8" width="2.2" height="1" fill="#d8747a" opacity="0.37"/>
<rect x="283.9" y="593.8" width="3.0" height="1" fill="#fdd8d4" opacity="0.41"/>
<rect x="286.8" y="593.8" width="3.7" height="1" fill="#d8747a" opacity="0.12"/>
<rect x="290.5" y="593.8" width="5.5" height="1" fill="#d8747a" opacity="0.24"/>
<rect x="296.0" y="593.8" width="3.9" height="1" fill="#d8747a" opacity="0.23"/>
<rect x="299.9" y="593.8" width="2.2" height="1" fill="#fdd8d4" opacity="0.28"/>
<rect x="302.1" y="593.8" width="3.2" height="1" fill="#d8747a" opacity="0.21"/>
<rect x="305.3" y="593.8" width="2.4" height="1" fill="#d8747a" opacity="0.16"/>
<rect x="307.7" y="593.8" width="5.4" height="1" fill="#fdd8d4" opacity="0.42"/>
<rect x="313.1" y="593.8" width="1.6" height="1" fill="#fdd8d4" opacity="0.27"/>
<rect x="314.7" y="593.8" width="5.1" height="1" fill="#fdd8d4" opacity="0.34"/>
<rect x="319.7" y="593.8" width="2.5" height="1" fill="#fdd8d4" opacity="0.15"/>
<rect x="322.3" y="593.8" width="1.5" height="1" fill="#d8747a" opacity="0.21"/>
<rect x="263.4" y="594.8" width="3.8" height="1" fill="#d8747a" opacity="0.36"/>
<rect x="267.2" y="594.8" width="1.9" height="1" fill="#fdd8d4" opacity="0.18"/>
<rect x="269.1" y="594.8" width="4.2" height="1" fill="#fdd8d4" opacity="0.35"/>
<rect x="273.3" y="594.8" width="1.8" height="1" fill="#d8747a" opacity="0.27"/>
<rect x="275.1" y="594.8" width="5.9" height="1" fill="#d8747a" opacity="0.28"/>
<rect x="281.0" y="594.8" width="4.6" height="1" fill="#fdd8d4" opacity="0.22"/>
<rect x="285.6" y="594.8" width="5.1" height="1" fill="#fdd8d4" opacity="0.43"/>
<rect x="290.8" y="594.8" width="1.5" height="1" fill="#fdd8d4" opacity="0.24"/>
<rect x="292.3" y="594.8" width="3.3" height="1" fill="#d8747a" opacity="0.16"/>
<rect x="295.6" y="594.8" width="4.8" height="1" fill="#fdd8d4" opacity="0.15"/>
<rect x="300.4" y="594.8" width="3.0" height="1" fill="#d8747a" opacity="0.15"/>
<rect x="303.5" y="594.8" width="2.5" height="1" fill="#d8747a" opacity="0.38"/>
<rect x="306.0" y="594.8" width="6.0" height="1" fill="#fdd8d4" opacity="0.27"/>
<rect x="312.0" y="594.8" width="3.7" height="1" fill="#fdd8d4" opacity="0.42"/>
<rect x="315.7" y="594.8" width="4.9" height="1" fill="#fdd8d4" opacity="0.16"/>
<rect x="320.6" y="594.8" width="3.2" height="1" fill="#fdd8d4" opacity="0.38"/>
<rect x="263.4" y="595.8" width="1.9" height="1" fill="#fdd8d4" opacity="0.22"/>
<rect x="265.3" y="595.8" width="2.2" height="1" fill="#fdd8d4" opacity="0.34"/>
<rect x="267.5" y="595.8" width="4.9" height="1" fill="#d8747a" opacity="0.34"/>
<rect x="272.4" y="595.8" width="5.7" height="1" fill="#fdd8d4" opacity="0.37"/>
<rect x="278.1" y="595.8" width="5.2" height="1" fill="#fdd8d4" opacity="0.31"/>
<rect x="283.4" y="595.8" width="3.5" height="1" fill="#fdd8d4" opacity="0.38"/>
<rect x="286.8" y="595.8" width="5.4" height="1" fill="#d8747a" opacity="0.38"/>
<rect x="292.2" y="595.8" width="3.9" height="1" fill="#fdd8d4" opacity="0.13"/>
<rect x="296.1" y="595.8" width="5.9" height="1" fill="#fdd8d4" opacity="0.18"/>
<rect x="302.0" y="595.8" width="5.3" height="1" fill="#d8747a" opacity="0.15"/>
<rect x="307.3" y="595.8" width="3.6" height="1" fill="#d8747a" opacity="0.24"/>
<rect x="310.8" y="595.8" width="5.6" height="1" fill="#fdd8d4" opacity="0.35"/>
<rect x="316.4" y="595.8" width="3.3" height="1" fill="#fdd8d4" opacity="0.38"/>
<rect x="319.7" y="595.8" width="4.1" height="1" fill="#fdd8d4" opacity="0.40"/>
<rect x="263.4" y="596.8" width="3.3" height="1" fill="#d8747a" opacity="0.28"/>
<rect x="266.7" y="596.8" width="5.3" height="1" fill="#d8747a" opacity="0.27"/>
<rect x="272.0" y="596.8" width="5.3" height="1" fill="#fdd8d4" opacity="0.09"/>
<rect x="277.3" y="596.8" width="3.7" height="1" fill="#d8747a" opacity="0.12"/>
<rect x="281.0" y="596.8" width="5.2" height="1" fill="#d8747a" opacity="0.27"/>
<rect x="286.1" y="596.8" width="3.6" height="1" fill="#d8747a" opacity="0.15"/>
<rect x="289.7" y="596.8" width="3.1" height="1" fill="#fdd8d4" opacity="0.32"/>
<rect x="292.8" y="596.8" width="2.8" height="1" fill="#d8747a" opacity="0.17"/>
<rect x="295.6" y="596.8" width="4.7" height="1" fill="#d8747a" opacity="0.29"/>
<rect x="300.2" y="596.8" width="5.1" height="1" fill="#d8747a" opacity="0.29"/>
<rect x="305.4" y="596.8" width="1.7" height="1" fill="#fdd8d4" opacity="0.16"/>
<rect x="307.1" y="596.8" width="2.7" height="1" fill="#fdd8d4" opacity="0.23"/>
<rect x="309.8" y="596.8" width="2.5" height="1" fill="#fdd8d4" opacity="0.32"/>
<rect x="312.3" y="596.8" width="5.5" height="1" fill="#d8747a" opacity="0.24"/>
<rect x="317.8" y="596.8" width="5.8" height="1" fill="#fdd8d4" opacity="0.46"/>
<rect x="323.6" y="596.8" width="0.2" height="1" fill="#fdd8d4" opacity="0.15"/>
<rect x="263.4" y="597.8" width="3.9" height="1" fill="#d8747a" opacity="0.14"/>
<rect x="267.3" y="597.8" width="5.8" height="1" fill="#fdd8d4" opacity="0.39"/>
<rect x="273.0" y="597.8" width="2.6" height="1" fill="#d8747a" opacity="0.12"/>
<rect x="275.7" y="597.8" width="4.0" height="1" fill="#fdd8d4" opacity="0.28"/>
<rect x="279.6" y="597.8" width="3.2" height="1" fill="#fdd8d4" opacity="0.42"/>
<rect x="282.8" y="597.8" width="4.5" height="1" fill="#d8747a" opacity="0.28"/>
<rect x="287.3" y="597.8" width="3.5" height="1" fill="#fdd8d4" opacity="0.23"/>
<rect x="290.8" y="597.8" width="4.5" height="1" fill="#fdd8d4" opacity="0.23"/>
<rect x="295.3" y="597.8" width="3.8" height="1" fill="#fdd8d4" opacity="0.43"/>
<rect x="299.2" y="597.8" width="3.7" height="1" fill="#d8747a" opacity="0.38"/>
<rect x="302.9" y="597.8" width="1.8" height="1" fill="#fdd8d4" opacity="0.35"/>
<rect x="304.7" y="597.8" width="4.0" height="1" fill="#d8747a" opacity="0.31"/>
<rect x="308.7" y="597.8" width="5.5" height="1" fill="#fdd8d4" opacity="0.37"/>
<rect x="314.2" y="597.8" width="1.7" height="1" fill="#d8747a" opacity="0.13"/>
<rect x="315.8" y="597.8" width="5.8" height="1" fill="#fdd8d4" opacity="0.15"/>
<rect x="321.6" y="597.8" width="2.2" height="1" fill="#fdd8d4" opacity="0.11"/>
<rect x="263.4" y="598.8" width="3.3" height="1" fill="#fdd8d4" opacity="0.33"/>
<rect x="266.7" y="598.8" width="2.8" height="1" fill="#fdd8d4" opacity="0.20"/>
<rect x="269.4" y="598.8" width="3.9" height="1" fill="#d8747a" opacity="0.38"/>
<rect x="273.4" y="598.8" width="4.4" height="1" fill="#fdd8d4" opacity="0.34"/>
<rect x="277.8" y="598.8" width="3.2" height="1" fill="#fdd8d4" opacity="0.36"/>
<rect x="281.0" y="598.8" width="4.6" height="1" fill="#d8747a" opacity="0.14"/>
<rect x="285.6" y="598.8" width="4.1" height="1" fill="#fdd8d4" opacity="0.39"/>
<rect x="289.7" y="598.8" width="3.1" height="1" fill="#d8747a" opacity="0.24"/>
<rect x="292.8" y="598.8" width="5.4" height="1" fill="#d8747a" opacity="0.31"/>
<rect x="298.2" y="598.8" width="2.3" height="1" fill="#d8747a" opacity="0.10"/>
<rect x="300.5" y="598.8" width="2.8" height="1" fill="#d8747a" opacity="0.38"/>
<rect x="303.3" y="598.8" width="5.8" height="1" fill="#d8747a" opacity="0.18"/>
<rect x="309.2" y="598.8" width="5.7" height="1" fill="#d8747a" opacity="0.18"/>
<rect x="314.9" y="598.8" width="3.5" height="1" fill="#d8747a" opacity="0.16"/>
<rect x="318.4" y="598.8" width="3.3" height="1" fill="#d8747a" opacity="0.38"/>
<rect x="321.6" y="598.8" width="2.2" height="1" fill="#d8747a" opacity="0.36"/>
<rect x="263.4" y="599.8" width="3.5" height="1" fill="#fdd8d4" opacity="0.33"/>
<rect x="266.9" y="599.8" width="5.0" height="1" fill="#d8747a" opacity="0.13"/>
<rect x="271.9" y="599.8" width="4.9" height="1" fill="#fdd8d4" opacity="0.30"/>
<rect x="276.8" y="599.8" width="4.5" height="1" fill="#fdd8d4" opacity="0.20"/>
<rect x="281.4" y="599.8" width="3.1" height="1" fill="#fdd8d4" opacity="0.29"/>
<rect x="284.5" y="599.8" width="2.8" height="1" fill="#fdd8d4" opacity="0.19"/>
<rect x="287.3" y="599.8" width="5.0" height="1" fill="#d8747a" opacity="0.34"/>
<rect x="292.3" y="599.8" width="4.0" height="1" fill="#d8747a" opacity="0.37"/>
<rect x="296.3" y="599.8" width="2.7" height="1" fill="#d8747a" opacity="0.11"/>
<rect x="299.0" y="599.8" width="4.0" height="1" fill="#fdd8d4" opacity="0.35"/>
<rect x="303.0" y="599.8" width="3.4" height="1" fill="#fdd8d4" opacity="0.13"/>
<rect x="306.3" y="599.8" width="2.9" height="1" fill="#fdd8d4" opacity="0.45"/>
<rect x="309.2" y="599.8" width="4.4" height="1" fill="#fdd8d4" opacity="0.38"/>
<rect x="313.6" y="599.8" width="3.3" height="1" fill="#fdd8d4" opacity="0.37"/>
<rect x="316.8" y="599.8" width="3.0" height="1" fill="#d8747a" opacity="0.33"/>
<rect x="319.9" y="599.8" width="3.1" height="1" fill="#d8747a" opacity="0.35"/>
<rect x="322.9" y="599.8" width="0.9" height="1" fill="#fdd8d4" opacity="0.34"/>
<rect x="263.4" y="600.8" width="5.6" height="1" fill="#d8747a" opacity="0.19"/>
<rect x="269.0" y="600.8" width="1.8" height="1" fill="#d8747a" opacity="0.24"/>
<rect x="270.8" y="600.8" width="5.3" height="1" fill="#fdd8d4" opacity="0.31"/>
<rect x="276.1" y="600.8" width="3.3" height="1" fill="#fdd8d4" opacity="0.20"/>
<rect x="279.4" y="600.8" width="5.3" height="1" fill="#fdd8d4" opacity="0.41"/>
<rect x="284.7" y="600.8" width="2.2" height="1" fill="#fdd8d4" opacity="0.38"/>
<rect x="286.9" y="600.8" width="3.8" height="1" fill="#fdd8d4" opacity="0.43"/>
<rect x="290.6" y="600.8" width="4.8" height="1" fill="#fdd8d4" opacity="0.34"/>
<rect x="295.5" y="600.8" width="5.5" height="1" fill="#d8747a" opacity="0.30"/>
<rect x="300.9" y="600.8" width="4.7" height="1" fill="#fdd8d4" opacity="0.20"/>
<rect x="305.6" y="600.8" width="1.8" height="1" fill="#fdd8d4" opacity="0.40"/>
<rect x="307.4" y="600.8" width="2.7" height="1" fill="#d8747a" opacity="0.15"/>
<rect x="310.1" y="600.8" width="1.9" height="1" fill="#fdd8d4" opacity="0.46"/>
<rect x="312.1" y="600.8" width="5.1" height="1" fill="#d8747a" opacity="0.30"/>
<rect x="317.2" y="600.8" width="1.8" height="1" fill="#fdd8d4" opacity="0.22"/>
<rect x="319.0" y="600.8" width="1.5" height="1" fill="#fdd8d4" opacity="0.15"/>
<rect x="320.5" y="600.8" width="2.7" height="1" fill="#d8747a" opacity="0.22"/>
<rect x="323.2" y="600.8" width="0.6" height="1" fill="#fdd8d4" opacity="0.11"/>
<rect x="263.4" y="601.8" width="5.2" height="1" fill="#d8747a" opacity="0.15"/>
<rect x="268.6" y="601.8" width="4.3" height="1" fill="#d8747a" opacity="0.18"/>
<rect x="273.0" y="601.8" width="4.1" height="1" fill="#d8747a" opacity="0.32"/>
<rect x="277.0" y="601.8" width="2.4" height="1" fill="#fdd8d4" opacity="0.40"/>
<rect x="279.5" y="601.8" width="3.9" height="1" fill="#d8747a" opacity="0.32"/>
<rect x="283.4" y="601.8" width="1.6" height="1" fill="#fdd8d4" opacity="0.25"/>
<rect x="285.0" y="601.8" width="1.8" height="1" fill="#fdd8d4" opacity="0.37"/>
<rect x="286.8" y="601.8" width="4.1" height="1" fill="#d8747a" opacity="0.24"/>
<rect x="290.9" y="601.8" width="4.1" height="1" fill="#d8747a" opacity="0.35"/>
<rect x="295.1" y="601.8" width="6.0" height="1" fill="#fdd8d4" opacity="0.45"/>
<rect x="301.0" y="601.8" width="3.0" height="1" fill="#fdd8d4" opacity="0.12"/>
<rect x="304.0" y="601.8" width="3.7" height="1" fill="#d8747a" opacity="0.22"/>
<rect x="307.7" y="601.8" width="4.6" height="1" fill="#fdd8d4" opacity="0.26"/>
<rect x="312.2" y="601.8" width="3.0" height="1" fill="#d8747a" opacity="0.21"/>
<rect x="315.3" y="601.8" width="2.8" height="1" fill="#d8747a" opacity="0.31"/>
<rect x="318.1" y="601.8" width="3.8" height="1" fill="#d8747a" opacity="0.14"/>
<rect x="321.9" y="601.8" width="1.9" height="1" fill="#d8747a" opacity="0.17"/>
<rect x="263.4" y="602.8" width="4.0" height="1" fill="#fdd8d4" opacity="0.46"/>
<rect x="267.4" y="602.8" width="4.9" height="1" fill="#fdd8d4" opacity="0.44"/>
<rect x="272.3" y="602.8" width="4.8" height="1" fill="#fdd8d4" opacity="0.12"/>
<rect x="277.0" y="602.8" width="2.4" height="1" fill="#d8747a" opacity="0.34"/>
<rect x="279.5" y="602.8" width="4.7" height="1" fill="#fdd8d4" opacity="0.19"/>
<rect x="284.2" y="602.8" width="3.1" height="1" fill="#d8747a" opacity="0.27"/>
<rect x="287.3" y="602.8" width="6.0" height="1" fill="#d8747a" opacity="0.10"/>
<rect x="293.3" y="602.8" width="2.3" height="1" fill="#d8747a" opacity="0.35"/>
<rect x="295.6" y="602.8" width="5.1" height="1" fill="#fdd8d4" opacity="0.13"/>
<rect x="300.7" y="602.8" width="2.0" height="1" fill="#d8747a" opacity="0.32"/>
<rect x="302.7" y="602.8" width="3.6" height="1" fill="#fdd8d4" opacity="0.44"/>
<rect x="306.3" y="602.8" width="5.1" height="1" fill="#fdd8d4" opacity="0.40"/>
<rect x="311.4" y="602.8" width="2.1" height="1" fill="#d8747a" opacity="0.25"/>
<rect x="313.4" y="602.8" width="3.8" height="1" fill="#d8747a" opacity="0.16"/>
<rect x="317.2" y="602.8" width="1.6" height="1" fill="#fdd8d4" opacity="0.36"/>
<rect x="318.8" y="602.8" width="5.0" height="1" fill="#fdd8d4" opacity="0.26"/>
<rect x="263.4" y="603.8" width="4.8" height="1" fill="#d8747a" opacity="0.33"/>
<rect x="268.2" y="603.8" width="5.3" height="1" fill="#d8747a" opacity="0.09"/>
<rect x="273.5" y="603.8" width="2.5" height="1" fill="#fdd8d4" opacity="0.24"/>
<rect x="275.9" y="603.8" width="1.5" height="1" fill="#fdd8d4" opacity="0.39"/>
<rect x="277.5" y="603.8" width="3.6" height="1" fill="#d8747a" opacity="0.35"/>
<rect x="281.1" y="603.8" width="3.9" height="1" fill="#d8747a" opacity="0.18"/>
<rect x="285.0" y="603.8" width="4.3" height="1" fill="#fdd8d4" opacity="0.28"/>
<rect x="289.3" y="603.8" width="4.4" height="1" fill="#d8747a" opacity="0.16"/>
<rect x="293.7" y="603.8" width="5.6" height="1" fill="#d8747a" opacity="0.12"/>
<rect x="299.2" y="603.8" width="4.2" height="1" fill="#d8747a" opacity="0.14"/>
<rect x="303.4" y="603.8" width="3.6" height="1" fill="#fdd8d4" opacity="0.34"/>
<rect x="307.0" y="603.8" width="4.7" height="1" fill="#d8747a" opacity="0.11"/>
<rect x="311.6" y="603.8" width="4.8" height="1" fill="#d8747a" opacity="0.23"/>
<rect x="316.4" y="603.8" width="3.3" height="1" fill="#fdd8d4" opacity="0.36"/>
<rect x="319.7" y="603.8" width="2.6" height="1" fill="#fdd8d4" opacity="0.36"/>
<rect x="322.3" y="603.8" width="1.5" height="1" fill="#d8747a" opacity="0.36"/>
<rect x="263.4" y="604.8" width="4.2" height="1" fill="#d8747a" opacity="0.16"/>
<rect x="267.6" y="604.8" width="5.9" height="1" fill="#d8747a" opacity="0.20"/>
<rect x="273.5" y="604.8" width="5.0" height="1" fill="#fdd8d4" opacity="0.34"/>
<rect x="278.6" y="604.8" width="4.8" height="1" fill="#d8747a" opacity="0.11"/>
<rect x="283.4" y="604.8" width="5.9" height="1" fill="#fdd8d4" opacity="0.11"/>
<rect x="289.3" y="604.8" width="1.7" height="1" fill="#d8747a" opacity="0.36"/>
<rect x="291.0" y="604.8" width="2.5" height="1" fill="#fdd8d4" opacity="0.45"/>
<rect x="293.5" y="604.8" width="4.4" height="1" fill="#fdd8d4" opacity="0.19"/>
<rect x="297.9" y="604.8" width="2.2" height="1" fill="#d8747a" opacity="0.31"/>
<rect x="300.1" y="604.8" width="2.0" height="1" fill="#fdd8d4" opacity="0.36"/>
<rect x="302.1" y="604.8" width="2.3" height="1" fill="#fdd8d4" opacity="0.16"/>
<rect x="304.4" y="604.8" width="3.8" height="1" fill="#d8747a" opacity="0.32"/>
<rect x="308.2" y="604.8" width="5.5" height="1" fill="#fdd8d4" opacity="0.10"/>
<rect x="313.7" y="604.8" width="5.3" height="1" fill="#fdd8d4" opacity="0.41"/>
<rect x="319.0" y="604.8" width="3.8" height="1" fill="#fdd8d4" opacity="0.32"/>
<rect x="322.8" y="604.8" width="1.0" height="1" fill="#d8747a" opacity="0.10"/>
<rect x="263.4" y="605.8" width="4.0" height="1" fill="#d8747a" opacity="0.20"/>
<rect x="267.4" y="605.8" width="1.5" height="1" fill="#fdd8d4" opacity="0.10"/>
<rect x="268.9" y="605.8" width="5.2" height="1" fill="#fdd8d4" opacity="0.27"/>
<rect x="274.1" y="605.8" width="2.0" height="1" fill="#fdd8d4" opacity="0.17"/>
<rect x="276.2" y="605.8" width="3.4" height="1" fill="#d8747a" opacity="0.38"/>
<rect x="279.6" y="605.8" width="4.0" height="1" fill="#d8747a" opacity="0.11"/>
<rect x="283.6" y="605.8" width="4.8" height="1" fill="#fdd8d4" opacity="0.42"/>
<rect x="288.3" y="605.8" width="2.0" height="1" fill="#d8747a" opacity="0.17"/>
<rect x="290.3" y="605.8" width="4.9" height="1" fill="#d8747a" opacity="0.27"/>
<rect x="295.2" y="605.8" width="5.9" height="1" fill="#fdd8d4" opacity="0.10"/>
<rect x="301.1" y="605.8" width="1.8" height="1" fill="#d8747a" opacity="0.29"/>
<rect x="303.0" y="605.8" width="4.2" height="1" fill="#fdd8d4" opacity="0.27"/>
<rect x="307.2" y="605.8" width="3.3" height="1" fill="#fdd8d4" opacity="0.34"/>
<rect x="310.5" y="605.8" width="5.6" height="1" fill="#fdd8d4" opacity="0.40"/>
<rect x="316.1" y="605.8" width="5.6" height="1" fill="#fdd8d4" opacity="0.37"/>
<rect x="321.7" y="605.8" width="1.6" height="1" fill="#fdd8d4" opacity="0.42"/>
<rect x="323.4" y="605.8" width="0.4" height="1" fill="#fdd8d4" opacity="0.16"/>
<rect x="263.4" y="606.8" width="5.7" height="1" fill="#d8747a" opacity="0.29"/>
<rect x="269.1" y="606.8" width="2.6" height="1" fill="#d8747a" opacity="0.19"/>
<rect x="271.8" y="606.8" width="3.0" height="1" fill="#d8747a" opacity="0.22"/>
<rect x="274.7" y="606.8" width="5.9" height="1" fill="#fdd8d4" opacity="0.45"/>
<rect x="280.7" y="606.8" width="4.9" height="1" fill="#fdd8d4" opacity="0.48"/>
<rect x="285.6" y="606.8" width="4.9" height="1" fill="#d8747a" opacity="0.16"/>
<rect x="290.5" y="606.8" width="3.4" height="1" fill="#d8747a" opacity="0.15"/>
<rect x="293.8" y="606.8" width="5.5" height="1" fill="#fdd8d4" opacity="0.22"/>
<rect x="299.3" y="606.8" width="5.0" height="1" fill="#fdd8d4" opacity="0.44"/>
<rect x="304.3" y="606.8" width="5.1" height="1" fill="#fdd8d4" opacity="0.14"/>
<rect x="309.4" y="606.8" width="5.2" height="1" fill="#d8747a" opacity="0.27"/>
<rect x="314.6" y="606.8" width="3.2" height="1" fill="#fdd8d4" opacity="0.46"/>
<rect x="317.7" y="606.8" width="2.2" height="1" fill="#fdd8d4" opacity="0.34"/>
<rect x="319.9" y="606.8" width="3.9" height="1" fill="#fdd8d4" opacity="0.25"/>
<rect x="263.4" y="607.8" width="5.6" height="1" fill="#fdd8d4" opacity="0.47"/>
<rect x="269.0" y="607.8" width="1.9" height="1" fill="#d8747a" opacity="0.17"/>
<rect x="270.9" y="607.8" width="5.6" height="1" fill="#d8747a" opacity="0.16"/>
<rect x="276.5" y="607.8" width="4.7" height="1" fill="#fdd8d4" opacity="0.16"/>
<rect x="281.2" y="607.8" width="3.5" height="1" fill="#fdd8d4" opacity="0.36"/>
<rect x="284.7" y="607.8" width="4.9" height="1" fill="#fdd8d4" opacity="0.19"/>
<rect x="289.5" y="607.8" width="2.7" height="1" fill="#d8747a" opacity="0.29"/>
<rect x="292.2" y="607.8" width="2.4" height="1" fill="#d8747a" opacity="0.37"/>
<rect x="294.6" y="607.8" width="4.4" height="1" fill="#fdd8d4" opacity="0.35"/>
<rect x="299.0" y="607.8" width="4.2" height="1" fill="#fdd8d4" opacity="0.21"/>
<rect x="303.2" y="607.8" width="1.8" height="1" fill="#d8747a" opacity="0.09"/>
<rect x="305.0" y="607.8" width="3.1" height="1" fill="#d8747a" opacity="0.12"/>
<rect x="308.1" y="607.8" width="3.7" height="1" fill="#fdd8d4" opacity="0.36"/>
<rect x="311.9" y="607.8" width="2.7" height="1" fill="#fdd8d4" opacity="0.16"/>
<rect x="314.6" y="607.8" width="2.0" height="1" fill="#d8747a" opacity="0.21"/>
<rect x="316.5" y="607.8" width="4.6" height="1" fill="#d8747a" opacity="0.30"/>
<rect x="321.1" y="607.8" width="1.9" height="1" fill="#fdd8d4" opacity="0.23"/>
<rect x="323.1" y="607.8" width="0.7" height="1" fill="#d8747a" opacity="0.33"/>
<rect x="263.4" y="608.8" width="2.5" height="1" fill="#fdd8d4" opacity="0.40"/>
<rect x="265.9" y="608.8" width="4.5" height="1" fill="#d8747a" opacity="0.09"/>
<rect x="270.4" y="608.8" width="2.4" height="1" fill="#fdd8d4" opacity="0.16"/>
<rect x="272.8" y="608.8" width="4.5" height="1" fill="#fdd8d4" opacity="0.35"/>
<rect x="277.3" y="608.8" width="2.3" height="1" fill="#d8747a" opacity="0.11"/>
<rect x="279.6" y="608.8" width="5.9" height="1" fill="#d8747a" opacity="0.28"/>
<rect x="285.5" y="608.8" width="4.1" height="1" fill="#d8747a" opacity="0.10"/>
<rect x="289.6" y="608.8" width="1.6" height="1" fill="#fdd8d4" opacity="0.15"/>
<rect x="291.1" y="608.8" width="5.8" height="1" fill="#d8747a" opacity="0.30"/>
<rect x="297.0" y="608.8" width="2.1" height="1" fill="#fdd8d4" opacity="0.19"/>
<rect x="299.1" y="608.8" width="3.1" height="1" fill="#fdd8d4" opacity="0.14"/>
<rect x="302.2" y="608.8" width="2.6" height="1" fill="#fdd8d4" opacity="0.21"/>
<rect x="304.8" y="608.8" width="3.2" height="1" fill="#fdd8d4" opacity="0.18"/>
<rect x="308.1" y="608.8" width="2.4" height="1" fill="#d8747a" opacity="0.20"/>
<rect x="310.4" y="608.8" width="3.1" height="1" fill="#fdd8d4" opacity="0.28"/>
<rect x="313.6" y="608.8" width="5.4" height="1" fill="#d8747a" opacity="0.28"/>
<rect x="319.0" y="608.8" width="4.8" height="1" fill="#d8747a" opacity="0.09"/>
<rect x="263.4" y="609.8" width="3.5" height="1" fill="#d8747a" opacity="0.22"/>
<rect x="266.9" y="609.8" width="4.7" height="1" fill="#d8747a" opacity="0.12"/>
<rect x="271.6" y="609.8" width="3.7" height="1" fill="#d8747a" opacity="0.15"/>
<rect x="275.2" y="609.8" width="3.5" height="1" fill="#d8747a" opacity="0.10"/>
<rect x="278.7" y="609.8" width="3.1" height="1" fill="#fdd8d4" opacity="0.46"/>
<rect x="281.8" y="609.8" width="4.0" height="1" fill="#d8747a" opacity="0.15"/>
<rect x="285.8" y="609.8" width="4.8" height="1" fill="#fdd8d4" opacity="0.43"/>
<rect x="290.7" y="609.8" width="5.8" height="1" fill="#fdd8d4" opacity="0.14"/>
<rect x="296.5" y="609.8" width="5.7" height="1" fill="#fdd8d4" opacity="0.19"/>
<rect x="302.3" y="609.8" width="2.3" height="1" fill="#fdd8d4" opacity="0.18"/>
<rect x="304.5" y="609.8" width="1.9" height="1" fill="#d8747a" opacity="0.36"/>
<rect x="306.4" y="609.8" width="3.6" height="1" fill="#fdd8d4" opacity="0.13"/>
<rect x="310.0" y="609.8" width="3.5" height="1" fill="#d8747a" opacity="0.14"/>
<rect x="313.5" y="609.8" width="4.5" height="1" fill="#d8747a" opacity="0.12"/>
<rect x="318.0" y="609.8" width="5.8" height="1" fill="#fdd8d4" opacity="0.17"/>
<rect x="263.4" y="610.8" width="1.5" height="1" fill="#fdd8d4" opacity="0.30"/>
<rect x="264.9" y="610.8" width="1.6" height="1" fill="#fdd8d4" opacity="0.38"/>
<rect x="266.6" y="610.8" width="3.9" height="1" fill="#d8747a" opacity="0.23"/>
<rect x="270.5" y="610.8" width="4.2" height="1" fill="#fdd8d4" opacity="0.15"/>
<rect x="274.7" y="610.8" width="5.1" height="1" fill="#fdd8d4" opacity="0.38"/>
<rect x="279.8" y="610.8" width="5.4" height="1" fill="#d8747a" opacity="0.35"/>
<rect x="285.2" y="610.8" width="2.3" height="1" fill="#d8747a" opacity="0.26"/>
<rect x="287.5" y="610.8" width="5.6" height="1" fill="#d8747a" opacity="0.15"/>
<rect x="293.0" y="610.8" width="1.7" height="1" fill="#d8747a" opacity="0.13"/>
<rect x="294.7" y="610.8" width="2.4" height="1" fill="#fdd8d4" opacity="0.32"/>
<rect x="297.1" y="610.8" width="5.7" height="1" fill="#d8747a" opacity="0.28"/>
<rect x="302.8" y="610.8" width="1.6" height="1" fill="#fdd8d4" opacity="0.19"/>
<rect x="304.4" y="610.8" width="3.6" height="1" fill="#fdd8d4" opacity="0.46"/>
<rect x="308.0" y="610.8" width="3.7" height="1" fill="#fdd8d4" opacity="0.34"/>
<rect x="311.7" y="610.8" width="2.5" height="1" fill="#fdd8d4" opacity="0.17"/>
<rect x="314.2" y="610.8" width="6.0" height="1" fill="#fdd8d4" opacity="0.18"/>
<rect x="320.2" y="610.8" width="3.6" height="1" fill="#d8747a" opacity="0.20"/>
<rect x="263.4" y="611.8" width="3.0" height="1" fill="#fdd8d4" opacity="0.11"/>
<rect x="266.4" y="611.8" width="3.2" height="1" fill="#d8747a" opacity="0.33"/>
<rect x="269.6" y="611.8" width="1.5" height="1" fill="#fdd8d4" opacity="0.20"/>
<rect x="271.1" y="611.8" width="3.5" height="1" fill="#fdd8d4" opacity="0.37"/>
<rect x="274.7" y="611.8" width="2.1" height="1" fill="#d8747a" opacity="0.12"/>
<rect x="276.8" y="611.8" width="5.8" height="1" fill="#d8747a" opacity="0.12"/>
<rect x="282.6" y="611.8" width="3.8" height="1" fill="#fdd8d4" opacity="0.44"/>
<rect x="286.5" y="611.8" width="1.8" height="1" fill="#d8747a" opacity="0.13"/>
<rect x="288.2" y="611.8" width="4.1" height="1" fill="#fdd8d4" opacity="0.26"/>
<rect x="292.4" y="611.8" width="5.5" height="1" fill="#fdd8d4" opacity="0.43"/>
<rect x="297.9" y="611.8" width="5.8" height="1" fill="#d8747a" opacity="0.36"/>
<rect x="303.7" y="611.8" width="3.3" height="1" fill="#d8747a" opacity="0.35"/>
<rect x="307.0" y="611.8" width="2.0" height="1" fill="#d8747a" opacity="0.17"/>
<rect x="309.0" y="611.8" width="2.8" height="1" fill="#fdd8d4" opacity="0.44"/>
<rect x="311.8" y="611.8" width="3.4" height="1" fill="#fdd8d4" opacity="0.43"/>
<rect x="315.2" y="611.8" width="5.1" height="1" fill="#fdd8d4" opacity="0.30"/>
<rect x="320.3" y="611.8" width="2.0" height="1" fill="#d8747a" opacity="0.28"/>
<rect x="322.3" y="611.8" width="1.5" height="1" fill="#fdd8d4" opacity="0.45"/>
<rect x="263.4" y="612.8" width="5.8" height="1" fill="#d8747a" opacity="0.11"/>
<rect x="269.2" y="612.8" width="5.5" height="1" fill="#fdd8d4" opacity="0.17"/>
<rect x="274.8" y="612.8" width="4.6" height="1" fill="#d8747a" opacity="0.15"/>
<rect x="279.4" y="612.8" width="3.1" height="1" fill="#fdd8d4" opacity="0.36"/>
<rect x="282.5" y="612.8" width="1.8" height="1" fill="#fdd8d4" opacity="0.34"/>
<rect x="284.4" y="612.8" width="3.6" height="1" fill="#fdd8d4" opacity="0.41"/>
<rect x="288.0" y="612.8" width="1.5" height="1" fill="#fdd8d4" opacity="0.36"/>
<rect x="289.5" y="612.8" width="4.7" height="1" fill="#fdd8d4" opacity="0.17"/>
<rect x="294.2" y="612.8" width="5.8" height="1" fill="#fdd8d4" opacity="0.19"/>
<rect x="300.0" y="612.8" width="3.4" height="1" fill="#fdd8d4" opacity="0.18"/>
<rect x="303.5" y="612.8" width="3.3" height="1" fill="#fdd8d4" opacity="0.45"/>
<rect x="306.8" y="612.8" width="2.5" height="1" fill="#fdd8d4" opacity="0.24"/>
<rect x="309.4" y="612.8" width="4.5" height="1" fill="#fdd8d4" opacity="0.15"/>
<rect x="313.8" y="612.8" width="2.5" height="1" fill="#d8747a" opacity="0.16"/>
<rect x="316.3" y="612.8" width="1.7" height="1" fill="#d8747a" opacity="0.20"/>
<rect x="318.0" y="612.8" width="3.4" height="1" fill="#d8747a" opacity="0.25"/>
<rect x="321.4" y="612.8" width="2.4" height="1" fill="#fdd8d4" opacity="0.24"/>
<rect x="263.4" y="613.8" width="4.7" height="1" fill="#d8747a" opacity="0.13"/>
<rect x="268.1" y="613.8" width="3.7" height="1" fill="#d8747a" opacity="0.28"/>
<rect x="271.7" y="613.8" width="2.2" height="1" fill="#d8747a" opacity="0.36"/>
<rect x="274.0" y="613.8" width="5.0" height="1" fill="#fdd8d4" opacity="0.35"/>
<rect x="278.9" y="613.8" width="4.4" height="1" fill="#fdd8d4" opacity="0.48"/>
<rect x="283.3" y="613.8" width="2.4" height="1" fill="#fdd8d4" opacity="0.22"/>
<rect x="285.7" y="613.8" width="2.7" height="1" fill="#fdd8d4" opacity="0.33"/>
<rect x="288.3" y="613.8" width="5.3" height="1" fill="#fdd8d4" opacity="0.33"/>
<rect x="293.6" y="613.8" width="2.4" height="1" fill="#d8747a" opacity="0.24"/>
<rect x="296.0" y="613.8" width="4.8" height="1" fill="#d8747a" opacity="0.10"/>
<rect x="300.8" y="613.8" width="1.5" height="1" fill="#d8747a" opacity="0.29"/>
<rect x="302.3" y="613.8" width="1.5" height="1" fill="#d8747a" opacity="0.16"/>
<rect x="303.8" y="613.8" width="4.7" height="1" fill="#fdd8d4" opacity="0.11"/>
<rect x="308.5" y="613.8" width="2.0" height="1" fill="#fdd8d4" opacity="0.48"/>
<rect x="310.5" y="613.8" width="2.2" height="1" fill="#d8747a" opacity="0.24"/>
<rect x="312.7" y="613.8" width="2.9" height="1" fill="#d8747a" opacity="0.22"/>
<rect x="315.6" y="613.8" width="2.7" height="1" fill="#d8747a" opacity="0.11"/>
<rect x="318.3" y="613.8" width="2.2" height="1" fill="#d8747a" opacity="0.27"/>
<rect x="320.5" y="613.8" width="3.3" height="1" fill="#d8747a" opacity="0.31"/>
<rect x="263.4" y="614.8" width="4.8" height="1" fill="#d8747a" opacity="0.23"/>
<rect x="268.2" y="614.8" width="2.3" height="1" fill="#fdd8d4" opacity="0.32"/>
<rect x="270.5" y="614.8" width="1.7" height="1" fill="#d8747a" opacity="0.28"/>
<rect x="272.3" y="614.8" width="3.2" height="1" fill="#fdd8d4" opacity="0.19"/>
<rect x="275.5" y="614.8" width="5.1" height="1" fill="#fdd8d4" opacity="0.14"/>
<rect x="280.6" y="614.8" width="4.1" height="1" fill="#d8747a" opacity="0.29"/>
<rect x="284.7" y="614.8" width="5.1" height="1" fill="#fdd8d4" opacity="0.19"/>
<rect x="289.8" y="614.8" width="1.9" height="1" fill="#fdd8d4" opacity="0.32"/>
<rect x="291.8" y="614.8" width="2.1" height="1" fill="#d8747a" opacity="0.25"/>
<rect x="293.9" y="614.8" width="2.0" height="1" fill="#fdd8d4" opacity="0.19"/>
<rect x="295.9" y="614.8" width="2.7" height="1" fill="#d8747a" opacity="0.24"/>
<rect x="298.5" y="614.8" width="4.8" height="1" fill="#d8747a" opacity="0.29"/>
<rect x="303.3" y="614.8" width="2.5" height="1" fill="#d8747a" opacity="0.27"/>
<rect x="305.8" y="614.8" width="4.6" height="1" fill="#fdd8d4" opacity="0.45"/>
<rect x="310.4" y="614.8" width="2.4" height="1" fill="#d8747a" opacity="0.28"/>
<rect x="312.8" y="614.8" width="2.7" height="1" fill="#d8747a" opacity="0.15"/>
<rect x="315.5" y="614.8" width="5.0" height="1" fill="#fdd8d4" opacity="0.38"/>
<rect x="320.5" y="614.8" width="3.3" height="1" fill="#fdd8d4" opacity="0.22"/>
<rect x="263.4" y="615.8" width="2.9" height="1" fill="#fdd8d4" opacity="0.12"/>
<rect x="266.3" y="615.8" width="4.2" height="1" fill="#d8747a" opacity="0.10"/>
<rect x="270.6" y="615.8" width="3.8" height="1" fill="#d8747a" opacity="0.35"/>
<rect x="274.4" y="615.8" width="5.4" height="1" fill="#fdd8d4" opacity="0.18"/>
<rect x="279.8" y="615.8" width="2.0" height="1" fill="#fdd8d4" opacity="0.30"/>
<rect x="281.9" y="615.8" width="3.1" height="1" fill="#fdd8d4" opacity="0.31"/>
<rect x="285.0" y="615.8" width="5.0" height="1" fill="#d8747a" opacity="0.10"/>
<rect x="290.0" y="615.8" width="3.2" height="1" fill="#fdd8d4" opacity="0.20"/>
<rect x="293.2" y="615.8" width="4.5" height="1" fill="#d8747a" opacity="0.18"/>
<rect x="297.7" y="615.8" width="3.6" height="1" fill="#fdd8d4" opacity="0.40"/>
<rect x="301.4" y="615.8" width="3.2" height="1" fill="#d8747a" opacity="0.35"/>
<rect x="304.5" y="615.8" width="5.7" height="1" fill="#fdd8d4" opacity="0.14"/>
<rect x="310.3" y="615.8" width="3.6" height="1" fill="#fdd8d4" opacity="0.21"/>
<rect x="313.8" y="615.8" width="1.7" height="1" fill="#fdd8d4" opacity="0.46"/>
<rect x="315.5" y="615.8" width="2.1" height="1" fill="#fdd8d4" opacity="0.34"/>
<rect x="317.6" y="615.8" width="2.8" height="1" fill="#d8747a" opacity="0.30"/>
<rect x="320.4" y="615.8" width="3.4" height="1" fill="#d8747a" opacity="0.11"/>
<rect x="263.4" y="616.8" width="3.3" height="1" fill="#d8747a" opacity="0.36"/>
<rect x="266.7" y="616.8" width="1.7" height="1" fill="#d8747a" opacity="0.31"/>
<rect x="268.4" y="616.8" width="2.1" height="1" fill="#d8747a" opacity="0.10"/>
<rect x="270.5" y="616.8" width="2.2" height="1" fill="#fdd8d4" opacity="0.43"/>
<rect x="272.7" y="616.8" width="2.3" height="1" fill="#d8747a" opacity="0.30"/>
<rect x="275.0" y="616.8" width="3.4" height="1" fill="#d8747a" opacity="0.12"/>
<rect x="278.4" y="616.8" width="2.6" height="1" fill="#fdd8d4" opacity="0.14"/>
<rect x="281.0" y="616.8" width="2.7" height="1" fill="#fdd8d4" opacity="0.45"/>
<rect x="283.7" y="616.8" width="5.6" height="1" fill="#fdd8d4" opacity="0.48"/>
<rect x="289.3" y="616.8" width="4.2" height="1" fill="#d8747a" opacity="0.22"/>
<rect x="293.5" y="616.8" width="4.7" height="1" fill="#fdd8d4" opacity="0.15"/>
<rect x="298.2" y="616.8" width="2.4" height="1" fill="#fdd8d4" opacity="0.14"/>
<rect x="300.6" y="616.8" width="5.2" height="1" fill="#d8747a" opacity="0.15"/>
<rect x="305.7" y="616.8" width="2.6" height="1" fill="#fdd8d4" opacity="0.49"/>
<rect x="308.4" y="616.8" width="2.2" height="1" fill="#fdd8d4" opacity="0.23"/>
<rect x="310.5" y="616.8" width="2.3" height="1" fill="#fdd8d4" opacity="0.23"/>
<rect x="312.8" y="616.8" width="2.3" height="1" fill="#d8747a" opacity="0.32"/>
<rect x="315.2" y="616.8" width="5.4" height="1" fill="#fdd8d4" opacity="0.10"/>
<rect x="320.5" y="616.8" width="3.3" height="1" fill="#fdd8d4" opacity="0.45"/>
<rect x="263.4" y="617.8" width="5.8" height="1" fill="#d8747a" opacity="0.33"/>
<rect x="269.2" y="617.8" width="5.2" height="1" fill="#d8747a" opacity="0.19"/>
<rect x="274.4" y="617.8" width="3.2" height="1" fill="#d8747a" opacity="0.19"/>
<rect x="277.6" y="617.8" width="2.0" height="1" fill="#d8747a" opacity="0.35"/>
<rect x="279.6" y="617.8" width="3.3" height="1" fill="#fdd8d4" opacity="0.45"/>
<rect x="282.9" y="617.8" width="4.9" height="1" fill="#d8747a" opacity="0.35"/>
<rect x="287.8" y="617.8" width="5.1" height="1" fill="#fdd8d4" opacity="0.39"/>
<rect x="292.9" y="617.8" width="4.9" height="1" fill="#fdd8d4" opacity="0.20"/>
<rect x="297.8" y="617.8" width="4.5" height="1" fill="#d8747a" opacity="0.33"/>
<rect x="302.3" y="617.8" width="2.1" height="1" fill="#fdd8d4" opacity="0.23"/>
<rect x="304.4" y="617.8" width="5.2" height="1" fill="#d8747a" opacity="0.33"/>
<rect x="309.6" y="617.8" width="5.3" height="1" fill="#fdd8d4" opacity="0.15"/>
<rect x="314.9" y="617.8" width="5.7" height="1" fill="#fdd8d4" opacity="0.37"/>
<rect x="320.6" y="617.8" width="3.2" height="1" fill="#d8747a" opacity="0.33"/>
<rect x="263.4" y="618.8" width="4.0" height="1" fill="#fdd8d4" opacity="0.23"/>
<rect x="267.4" y="618.8" width="5.0" height="1" fill="#fdd8d4" opacity="0.45"/>
<rect x="272.4" y="618.8" width="2.5" height="1" fill="#d8747a" opacity="0.15"/>
<rect x="274.9" y="618.8" width="2.0" height="1" fill="#d8747a" opacity="0.09"/>
<rect x="276.8" y="618.8" width="5.1" height="1" fill="#d8747a" opacity="0.10"/>
<rect x="281.9" y="618.8" width="1.8" height="1" fill="#fdd8d4" opacity="0.18"/>
<rect x="283.7" y="618.8" width="3.6" height="1" fill="#d8747a" opacity="0.31"/>
<rect x="287.3" y="618.8" width="5.8" height="1" fill="#d8747a" opacity="0.26"/>
<rect x="293.1" y="618.8" width="5.5" height="1" fill="#fdd8d4" opacity="0.46"/>
<rect x="298.6" y="618.8" width="4.8" height="1" fill="#d8747a" opacity="0.33"/>
<rect x="303.4" y="618.8" width="4.1" height="1" fill="#d8747a" opacity="0.25"/>
<rect x="307.5" y="618.8" width="5.2" height="1" fill="#fdd8d4" opacity="0.29"/>
<rect x="312.7" y="618.8" width="3.4" height="1" fill="#fdd8d4" opacity="0.36"/>
<rect x="316.1" y="618.8" width="2.4" height="1" fill="#d8747a" opacity="0.19"/>
<rect x="318.5" y="618.8" width="5.3" height="1" fill="#fdd8d4" opacity="0.15"/>
<rect x="263.4" y="619.8" width="5.6" height="1" fill="#d8747a" opacity="0.25"/>
<rect x="269.0" y="619.8" width="3.4" height="1" fill="#fdd8d4" opacity="0.27"/>
<rect x="272.5" y="619.8" width="1.9" height="1" fill="#fdd8d4" opacity="0.43"/>
<rect x="274.4" y="619.8" width="5.0" height="1" fill="#d8747a" opacity="0.15"/>
<rect x="279.4" y="619.8" width="4.9" height="1" fill="#fdd8d4" opacity="0.19"/>
<rect x="284.3" y="619.8" width="5.5" height="1" fill="#fdd8d4" opacity="0.27"/>
<rect x="289.8" y="619.8" width="3.2" height="1" fill="#fdd8d4" opacity="0.47"/>
<rect x="293.0" y="619.8" width="2.4" height="1" fill="#d8747a" opacity="0.18"/>
<rect x="295.4" y="619.8" width="4.8" height="1" fill="#d8747a" opacity="0.24"/>
<rect x="300.2" y="619.8" width="3.8" height="1" fill="#fdd8d4" opacity="0.16"/>
<rect x="303.9" y="619.8" width="5.8" height="1" fill="#fdd8d4" opacity="0.32"/>
<rect x="309.7" y="619.8" width="5.1" height="1" fill="#d8747a" opacity="0.34"/>
<rect x="314.8" y="619.8" width="4.0" height="1" fill="#fdd8d4" opacity="0.45"/>
<rect x="318.8" y="619.8" width="3.1" height="1" fill="#fdd8d4" opacity="0.18"/>
<rect x="321.9" y="619.8" width="1.6" height="1" fill="#fdd8d4" opacity="0.46"/>
<rect x="323.5" y="619.8" width="0.3" height="1" fill="#fdd8d4" opacity="0.30"/>
<rect x="263.4" y="620.8" width="5.7" height="1" fill="#fdd8d4" opacity="0.16"/>
<rect x="269.1" y="620.8" width="4.3" height="1" fill="#fdd8d4" opacity="0.27"/>
<rect x="273.4" y="620.8" width="4.2" height="1" fill="#d8747a" opacity="0.16"/>
<rect x="277.6" y="620.8" width="3.4" height="1" fill="#fdd8d4" opacity="0.29"/>
<rect x="281.0" y="620.8" width="1.9" height="1" fill="#d8747a" opacity="0.18"/>
<rect x="283.0" y="620.8" width="4.7" height="1" fill="#fdd8d4" opacity="0.19"/>
<rect x="287.7" y="620.8" width="2.7" height="1" fill="#fdd8d4" opacity="0.17"/>
<rect x="290.3" y="620.8" width="4.2" height="1" fill="#fdd8d4" opacity="0.18"/>
<rect x="294.5" y="620.8" width="4.1" height="1" fill="#fdd8d4" opacity="0.40"/>
<rect x="298.7" y="620.8" width="4.7" height="1" fill="#fdd8d4" opacity="0.21"/>
<rect x="303.4" y="620.8" width="5.3" height="1" fill="#fdd8d4" opacity="0.12"/>
<rect x="308.7" y="620.8" width="5.7" height="1" fill="#d8747a" opacity="0.11"/>
<rect x="314.4" y="620.8" width="1.8" height="1" fill="#fdd8d4" opacity="0.37"/>
<rect x="316.2" y="620.8" width="2.1" height="1" fill="#fdd8d4" opacity="0.36"/>
<rect x="318.4" y="620.8" width="5.4" height="1" fill="#d8747a" opacity="0.30"/>
<rect x="263.4" y="621.8" width="2.6" height="1" fill="#d8747a" opacity="0.13"/>
<rect x="266.0" y="621.8" width="3.3" height="1" fill="#fdd8d4" opacity="0.22"/>
<rect x="269.3" y="621.8" width="2.2" height="1" fill="#d8747a" opacity="0.11"/>
<rect x="271.6" y="621.8" width="2.4" height="1" fill="#d8747a" opacity="0.23"/>
<rect x="273.9" y="621.8" width="2.3" height="1" fill="#fdd8d4" opacity="0.28"/>
<rect x="276.3" y="621.8" width="5.9" height="1" fill="#fdd8d4" opacity="0.48"/>
<rect x="282.2" y="621.8" width="3.6" height="1" fill="#d8747a" opacity="0.25"/>
<rect x="285.8" y="621.8" width="2.2" height="1" fill="#d8747a" opacity="0.10"/>
<rect x="287.9" y="621.8" width="4.7" height="1" fill="#fdd8d4" opacity="0.26"/>
<rect x="292.6" y="621.8" width="3.1" height="1" fill="#d8747a" opacity="0.18"/>
<rect x="295.7" y="621.8" width="4.6" height="1" fill="#d8747a" opacity="0.13"/>
<rect x="300.3" y="621.8" width="5.4" height="1" fill="#fdd8d4" opacity="0.10"/>
<rect x="305.7" y="621.8" width="5.3" height="1" fill="#fdd8d4" opacity="0.24"/>
<rect x="311.0" y="621.8" width="4.3" height="1" fill="#fdd8d4" opacity="0.26"/>
<rect x="315.3" y="621.8" width="3.4" height="1" fill="#d8747a" opacity="0.24"/>
<rect x="318.8" y="621.8" width="4.5" height="1" fill="#fdd8d4" opacity="0.48"/>
<rect x="323.3" y="621.8" width="0.5" height="1" fill="#d8747a" opacity="0.33"/>
<rect x="263.4" y="622.8" width="5.1" height="1" fill="#fdd8d4" opacity="0.37"/>
<rect x="268.5" y="622.8" width="3.0" height="1" fill="#fdd8d4" opacity="0.32"/>
<rect x="271.5" y="622.8" width="3.3" height="1" fill="#d8747a" opacity="0.11"/>
<rect x="274.8" y="622.8" width="5.5" height="1" fill="#fdd8d4" opacity="0.11"/>
<rect x="280.3" y="622.8" width="3.0" height="1" fill="#fdd8d4" opacity="0.30"/>
<rect x="283.3" y="622.8" width="3.1" height="1" fill="#fdd8d4" opacity="0.24"/>
<rect x="286.4" y="622.8" width="3.9" height="1" fill="#fdd8d4" opacity="0.36"/>
<rect x="290.3" y="622.8" width="3.6" height="1" fill="#d8747a" opacity="0.19"/>
<rect x="294.0" y="622.8" width="4.2" height="1" fill="#fdd8d4" opacity="0.21"/>
<rect x="298.2" y="622.8" width="3.2" height="1" fill="#d8747a" opacity="0.19"/>
<rect x="301.4" y="622.8" width="5.6" height="1" fill="#fdd8d4" opacity="0.21"/>
<rect x="307.0" y="622.8" width="3.0" height="1" fill="#fdd8d4" opacity="0.17"/>
<rect x="310.0" y="622.8" width="4.6" height="1" fill="#d8747a" opacity="0.14"/>
<rect x="314.6" y="622.8" width="1.8" height="1" fill="#fdd8d4" opacity="0.16"/>
<rect x="316.4" y="622.8" width="2.5" height="1" fill="#d8747a" opacity="0.16"/>
<rect x="318.9" y="622.8" width="4.8" height="1" fill="#fdd8d4" opacity="0.47"/>
<rect x="323.7" y="622.8" width="0.1" height="1" fill="#fdd8d4" opacity="0.47"/>
<rect x="263.4" y="623.8" width="1.9" height="1" fill="#fdd8d4" opacity="0.28"/>
<rect x="265.3" y="623.8" width="2.4" height="1" fill="#fdd8d4" opacity="0.45"/>
<rect x="267.7" y="623.8" width="3.2" height="1" fill="#d8747a" opacity="0.33"/>
<rect x="270.9" y="623.8" width="4.9" height="1" fill="#fdd8d4" opacity="0.50"/>
<rect x="275.8" y="623.8" width="1.7" height="1" fill="#d8747a" opacity="0.12"/>
<rect x="277.5" y="623.8" width="1.6" height="1" fill="#fdd8d4" opacity="0.36"/>
<rect x="279.1" y="623.8" width="2.0" height="1" fill="#d8747a" opacity="0.13"/>
<rect x="281.1" y="623.8" width="4.2" height="1" fill="#fdd8d4" opacity="0.49"/>
<rect x="285.3" y="623.8" width="3.1" height="1" fill="#fdd8d4" opacity="0.28"/>
<rect x="288.4" y="623.8" width="3.3" height="1" fill="#d8747a" opacity="0.15"/>
<rect x="291.7" y="623.8" width="5.9" height="1" fill="#fdd8d4" opacity="0.39"/>
<rect x="297.6" y="623.8" width="2.3" height="1" fill="#d8747a" opacity="0.12"/>
<rect x="299.9" y="623.8" width="3.1" height="1" fill="#fdd8d4" opacity="0.12"/>
<rect x="303.0" y="623.8" width="3.9" height="1" fill="#fdd8d4" opacity="0.11"/>
<rect x="306.8" y="623.8" width="3.5" height="1" fill="#fdd8d4" opacity="0.33"/>
<rect x="310.3" y="623.8" width="3.5" height="1" fill="#fdd8d4" opacity="0.34"/>
<rect x="313.8" y="623.8" width="3.0" height="1" fill="#d8747a" opacity="0.35"/>
<rect x="316.9" y="623.8" width="5.4" height="1" fill="#fdd8d4" opacity="0.33"/>
<rect x="322.2" y="623.8" width="1.6" height="1" fill="#d8747a" opacity="0.19"/>
<rect x="263.4" y="624.8" width="4.6" height="1" fill="#d8747a" opacity="0.31"/>
<rect x="268.0" y="624.8" width="5.0" height="1" fill="#fdd8d4" opacity="0.10"/>
<rect x="273.0" y="624.8" width="5.1" height="1" fill="#d8747a" opacity="0.27"/>
<rect x="278.1" y="624.8" width="4.1" height="1" fill="#fdd8d4" opacity="0.27"/>
<rect x="282.2" y="624.8" width="5.8" height="1" fill="#fdd8d4" opacity="0.48"/>
<rect x="288.0" y="624.8" width="4.3" height="1" fill="#d8747a" opacity="0.19"/>
<rect x="292.3" y="624.8" width="2.7" height="1" fill="#fdd8d4" opacity="0.42"/>
<rect x="295.0" y="624.8" width="5.0" height="1" fill="#fdd8d4" opacity="0.50"/>
<rect x="300.0" y="624.8" width="4.6" height="1" fill="#d8747a" opacity="0.30"/>
<rect x="304.6" y="624.8" width="2.7" height="1" fill="#fdd8d4" opacity="0.17"/>
<rect x="307.3" y="624.8" width="5.4" height="1" fill="#fdd8d4" opacity="0.21"/>
<rect x="312.7" y="624.8" width="5.7" height="1" fill="#d8747a" opacity="0.35"/>
<rect x="318.3" y="624.8" width="4.9" height="1" fill="#d8747a" opacity="0.30"/>
<rect x="323.2" y="624.8" width="0.6" height="1" fill="#fdd8d4" opacity="0.34"/>
<rect x="263.4" y="625.8" width="3.4" height="1" fill="#fdd8d4" opacity="0.14"/>
<rect x="266.8" y="625.8" width="5.0" height="1" fill="#d8747a" opacity="0.16"/>
<rect x="271.8" y="625.8" width="2.0" height="1" fill="#fdd8d4" opacity="0.28"/>
<rect x="273.8" y="625.8" width="4.8" height="1" fill="#d8747a" opacity="0.29"/>
<rect x="278.6" y="625.8" width="4.4" height="1" fill="#d8747a" opacity="0.22"/>
<rect x="283.0" y="625.8" width="4.7" height="1" fill="#d8747a" opacity="0.27"/>
<rect x="287.8" y="625.8" width="2.8" height="1" fill="#d8747a" opacity="0.34"/>
<rect x="290.5" y="625.8" width="5.7" height="1" fill="#fdd8d4" opacity="0.28"/>
<rect x="296.3" y="625.8" width="4.1" height="1" fill="#fdd8d4" opacity="0.41"/>
<rect x="300.3" y="625.8" width="3.6" height="1" fill="#fdd8d4" opacity="0.26"/>
<rect x="303.9" y="625.8" width="5.8" height="1" fill="#fdd8d4" opacity="0.15"/>
<rect x="309.7" y="625.8" width="4.9" height="1" fill="#d8747a" opacity="0.27"/>
<rect x="314.5" y="625.8" width="1.7" height="1" fill="#fdd8d4" opacity="0.32"/>
<rect x="316.3" y="625.8" width="4.8" height="1" fill="#d8747a" opacity="0.26"/>
<rect x="321.1" y="625.8" width="2.7" height="1" fill="#d8747a" opacity="0.31"/>
<rect x="263.4" y="626.8" width="1.6" height="1" fill="#fdd8d4" opacity="0.14"/>
<rect x="265.0" y="626.8" width="5.3" height="1" fill="#fdd8d4" opacity="0.12"/>
<rect x="270.4" y="626.8" width="3.6" height="1" fill="#fdd8d4" opacity="0.39"/>
<rect x="274.0" y="626.8" width="4.8" height="1" fill="#d8747a" opacity="0.34"/>
<rect x="278.8" y="626.8" width="2.3" height="1" fill="#d8747a" opacity="0.31"/>
<rect x="281.1" y="626.8" width="2.0" height="1" fill="#d8747a" opacity="0.22"/>
<rect x="283.1" y="626.8" width="3.0" height="1" fill="#d8747a" opacity="0.34"/>
<rect x="286.1" y="626.8" width="3.6" height="1" fill="#fdd8d4" opacity="0.20"/>
<rect x="289.8" y="626.8" width="5.6" height="1" fill="#d8747a" opacity="0.34"/>
<rect x="295.4" y="626.8" width="4.3" height="1" fill="#fdd8d4" opacity="0.42"/>
<rect x="299.6" y="626.8" width="4.3" height="1" fill="#fdd8d4" opacity="0.45"/>
<rect x="304.0" y="626.8" width="3.5" height="1" fill="#d8747a" opacity="0.34"/>
<rect x="307.5" y="626.8" width="5.1" height="1" fill="#fdd8d4" opacity="0.41"/>
<rect x="312.6" y="626.8" width="2.5" height="1" fill="#fdd8d4" opacity="0.44"/>
<rect x="315.1" y="626.8" width="5.8" height="1" fill="#fdd8d4" opacity="0.17"/>
<rect x="321.0" y="626.8" width="2.8" height="1" fill="#fdd8d4" opacity="0.27"/>
<rect x="263.4" y="627.8" width="2.3" height="1" fill="#d8747a" opacity="0.21"/>
<rect x="265.7" y="627.8" width="3.7" height="1" fill="#d8747a" opacity="0.18"/>
<rect x="269.4" y="627.8" width="4.0" height="1" fill="#fdd8d4" opacity="0.34"/>
<rect x="273.4" y="627.8" width="2.2" height="1" fill="#fdd8d4" opacity="0.25"/>
<rect x="275.6" y="627.8" width="5.8" height="1" fill="#fdd8d4" opacity="0.16"/>
<rect x="281.4" y="627.8" width="4.1" height="1" fill="#fdd8d4" opacity="0.26"/>
<rect x="285.5" y="627.8" width="4.0" height="1" fill="#d8747a" opacity="0.09"/>
<rect x="289.5" y="627.8" width="2.4" height="1" fill="#d8747a" opacity="0.16"/>
<rect x="291.9" y="627.8" width="4.3" height="1" fill="#fdd8d4" opacity="0.49"/>
<rect x="296.3" y="627.8" width="4.6" height="1" fill="#d8747a" opacity="0.35"/>
<rect x="300.8" y="627.8" width="4.4" height="1" fill="#fdd8d4" opacity="0.46"/>
<rect x="305.2" y="627.8" width="4.5" height="1" fill="#d8747a" opacity="0.25"/>
<rect x="309.7" y="627.8" width="2.9" height="1" fill="#fdd8d4" opacity="0.20"/>
<rect x="312.6" y="627.8" width="5.9" height="1" fill="#d8747a" opacity="0.08"/>
<rect x="318.4" y="627.8" width="4.0" height="1" fill="#d8747a" opacity="0.22"/>
<rect x="322.4" y="627.8" width="1.4" height="1" fill="#fdd8d4" opacity="0.38"/>
<rect x="263.4" y="628.8" width="4.6" height="1" fill="#fdd8d4" opacity="0.51"/>
<rect x="268.0" y="628.8" width="4.6" height="1" fill="#fdd8d4" opacity="0.10"/>
<rect x="272.5" y="628.8" width="1.7" height="1" fill="#d8747a" opacity="0.35"/>
<rect x="274.3" y="628.8" width="2.9" height="1" fill="#fdd8d4" opacity="0.11"/>
<rect x="277.2" y="628.8" width="3.4" height="1" fill="#fdd8d4" opacity="0.34"/>
<rect x="280.5" y="628.8" width="5.2" height="1" fill="#d8747a" opacity="0.14"/>
<rect x="285.7" y="628.8" width="2.3" height="1" fill="#fdd8d4" opacity="0.14"/>
<rect x="288.0" y="628.8" width="5.7" height="1" fill="#d8747a" opacity="0.33"/>
<rect x="293.7" y="628.8" width="3.8" height="1" fill="#d8747a" opacity="0.35"/>
<rect x="297.6" y="628.8" width="3.3" height="1" fill="#fdd8d4" opacity="0.13"/>
<rect x="300.9" y="628.8" width="5.2" height="1" fill="#fdd8d4" opacity="0.15"/>
<rect x="306.1" y="628.8" width="4.9" height="1" fill="#d8747a" opacity="0.12"/>
<rect x="311.0" y="628.8" width="3.1" height="1" fill="#fdd8d4" opacity="0.49"/>
<rect x="314.1" y="628.8" width="6.0" height="1" fill="#fdd8d4" opacity="0.36"/>
<rect x="320.1" y="628.8" width="3.7" height="1" fill="#d8747a" opacity="0.28"/>
<rect x="263.4" y="629.8" width="4.0" height="1" fill="#d8747a" opacity="0.33"/>
<rect x="267.4" y="629.8" width="2.6" height="1" fill="#d8747a" opacity="0.12"/>
<rect x="270.0" y="629.8" width="2.2" height="1" fill="#fdd8d4" opacity="0.43"/>
<rect x="272.2" y="629.8" width="2.2" height="1" fill="#fdd8d4" opacity="0.34"/>
<rect x="274.4" y="629.8" width="4.0" height="1" fill="#d8747a" opacity="0.23"/>
<rect x="278.4" y="629.8" width="1.6" height="1" fill="#d8747a" opacity="0.20"/>
<rect x="280.0" y="629.8" width="2.6" height="1" fill="#fdd8d4" opacity="0.20"/>
<rect x="282.6" y="629.8" width="5.2" height="1" fill="#d8747a" opacity="0.11"/>
<rect x="287.8" y="629.8" width="3.6" height="1" fill="#d8747a" opacity="0.17"/>
<rect x="291.4" y="629.8" width="4.9" height="1" fill="#d8747a" opacity="0.27"/>
<rect x="296.4" y="629.8" width="5.3" height="1" fill="#fdd8d4" opacity="0.31"/>
<rect x="301.6" y="629.8" width="5.7" height="1" fill="#fdd8d4" opacity="0.18"/>
<rect x="307.3" y="629.8" width="1.8" height="1" fill="#d8747a" opacity="0.17"/>
<rect x="309.1" y="629.8" width="1.9" height="1" fill="#fdd8d4" opacity="0.28"/>
<rect x="311.0" y="629.8" width="2.9" height="1" fill="#fdd8d4" opacity="0.49"/>
<rect x="313.9" y="629.8" width="2.6" height="1" fill="#d8747a" opacity="0.17"/>
<rect x="316.5" y="629.8" width="3.0" height="1" fill="#fdd8d4" opacity="0.39"/>
<rect x="319.4" y="629.8" width="3.4" height="1" fill="#d8747a" opacity="0.09"/>
<rect x="322.9" y="629.8" width="0.9" height="1" fill="#fdd8d4" opacity="0.37"/>
<rect x="263.4" y="630.8" width="2.2" height="1" fill="#fdd8d4" opacity="0.13"/>
<rect x="265.6" y="630.8" width="3.8" height="1" fill="#d8747a" opacity="0.11"/>
<rect x="269.4" y="630.8" width="4.8" height="1" fill="#fdd8d4" opacity="0.31"/>
<rect x="274.2" y="630.8" width="2.3" height="1" fill="#fdd8d4" opacity="0.28"/>
<rect x="276.5" y="630.8" width="4.5" height="1" fill="#d8747a" opacity="0.33"/>
<rect x="281.0" y="630.8" width="1.5" height="1" fill="#d8747a" opacity="0.19"/>
<rect x="282.5" y="630.8" width="2.4" height="1" fill="#d8747a" opacity="0.27"/>
<rect x="284.9" y="630.8" width="6.0" height="1" fill="#d8747a" opacity="0.15"/>
<rect x="290.8" y="630.8" width="4.5" height="1" fill="#d8747a" opacity="0.19"/>
<rect x="295.4" y="630.8" width="4.6" height="1" fill="#d8747a" opacity="0.12"/>
<rect x="300.0" y="630.8" width="1.8" height="1" fill="#fdd8d4" opacity="0.51"/>
<rect x="301.8" y="630.8" width="5.6" height="1" fill="#d8747a" opacity="0.22"/>
<rect x="307.4" y="630.8" width="3.7" height="1" fill="#d8747a" opacity="0.27"/>
<rect x="311.1" y="630.8" width="3.7" height="1" fill="#fdd8d4" opacity="0.22"/>
<rect x="314.8" y="630.8" width="5.7" height="1" fill="#fdd8d4" opacity="0.30"/>
<rect x="320.5" y="630.8" width="2.1" height="1" fill="#fdd8d4" opacity="0.16"/>
<rect x="322.7" y="630.8" width="1.1" height="1" fill="#fdd8d4" opacity="0.34"/>
<rect x="263.4" y="631.8" width="5.9" height="1" fill="#d8747a" opacity="0.28"/>
<rect x="269.3" y="631.8" width="5.1" height="1" fill="#d8747a" opacity="0.17"/>
<rect x="274.4" y="631.8" width="1.7" height="1" fill="#fdd8d4" opacity="0.40"/>
<rect x="276.1" y="631.8" width="3.1" height="1" fill="#fdd8d4" opacity="0.26"/>
<rect x="279.2" y="631.8" width="4.7" height="1" fill="#d8747a" opacity="0.35"/>
<rect x="283.9" y="631.8" width="3.5" height="1" fill="#d8747a" opacity="0.11"/>
<rect x="287.4" y="631.8" width="4.8" height="1" fill="#fdd8d4" opacity="0.37"/>
<rect x="292.1" y="631.8" width="2.2" height="1" fill="#fdd8d4" opacity="0.40"/>
<rect x="294.3" y="631.8" width="2.0" height="1" fill="#d8747a" opacity="0.27"/>
<rect x="296.4" y="631.8" width="1.5" height="1" fill="#d8747a" opacity="0.18"/>
<rect x="297.9" y="631.8" width="5.4" height="1" fill="#fdd8d4" opacity="0.24"/>
<rect x="303.3" y="631.8" width="5.6" height="1" fill="#fdd8d4" opacity="0.46"/>
<rect x="308.9" y="631.8" width="4.1" height="1" fill="#fdd8d4" opacity="0.37"/>
<rect x="313.1" y="631.8" width="5.8" height="1" fill="#fdd8d4" opacity="0.18"/>
<rect x="318.8" y="631.8" width="3.8" height="1" fill="#fdd8d4" opacity="0.24"/>
<rect x="322.7" y="631.8" width="1.1" height="1" fill="#fdd8d4" opacity="0.35"/>
<rect x="263.4" y="632.8" width="2.5" height="1" fill="#d8747a" opacity="0.22"/>
<rect x="265.9" y="632.8" width="3.8" height="1" fill="#d8747a" opacity="0.26"/>
<rect x="269.7" y="632.8" width="2.3" height="1" fill="#fdd8d4" opacity="0.22"/>
<rect x="272.0" y="632.8" width="5.0" height="1" fill="#fdd8d4" opacity="0.43"/>
<rect x="277.0" y="632.8" width="3.8" height="1" fill="#d8747a" opacity="0.34"/>
<rect x="280.8" y="632.8" width="3.8" height="1" fill="#d8747a" opacity="0.16"/>
<rect x="284.6" y="632.8" width="3.3" height="1" fill="#fdd8d4" opacity="0.44"/>
<rect x="287.9" y="632.8" width="3.7" height="1" fill="#fdd8d4" opacity="0.19"/>
<rect x="291.6" y="632.8" width="3.5" height="1" fill="#d8747a" opacity="0.17"/>
<rect x="295.1" y="632.8" width="3.1" height="1" fill="#fdd8d4" opacity="0.41"/>
<rect x="298.2" y="632.8" width="2.4" height="1" fill="#d8747a" opacity="0.30"/>
<rect x="300.7" y="632.8" width="4.4" height="1" fill="#fdd8d4" opacity="0.37"/>
<rect x="305.1" y="632.8" width="4.6" height="1" fill="#d8747a" opacity="0.10"/>
<rect x="309.7" y="632.8" width="3.1" height="1" fill="#d8747a" opacity="0.35"/>
<rect x="312.9" y="632.8" width="3.9" height="1" fill="#fdd8d4" opacity="0.51"/>
<rect x="316.7" y="632.8" width="5.1" height="1" fill="#d8747a" opacity="0.17"/>
<rect x="321.8" y="632.8" width="2.0" height="1" fill="#fdd8d4" opacity="0.41"/>
<rect x="263.4" y="633.8" width="3.7" height="1" fill="#d8747a" opacity="0.15"/>
<rect x="267.1" y="633.8" width="3.7" height="1" fill="#fdd8d4" opacity="0.48"/>
<rect x="270.8" y="633.8" width="5.3" height="1" fill="#fdd8d4" opacity="0.29"/>
<rect x="276.1" y="633.8" width="3.4" height="1" fill="#d8747a" opacity="0.35"/>
<rect x="279.5" y="633.8" width="2.3" height="1" fill="#d8747a" opacity="0.16"/>
<rect x="281.8" y="633.8" width="5.6" height="1" fill="#fdd8d4" opacity="0.24"/>
<rect x="287.5" y="633.8" width="5.3" height="1" fill="#fdd8d4" opacity="0.28"/>
<rect x="292.8" y="633.8" width="2.4" height="1" fill="#fdd8d4" opacity="0.26"/>
<rect x="295.2" y="633.8" width="2.0" height="1" fill="#fdd8d4" opacity="0.29"/>
<rect x="297.2" y="633.8" width="3.3" height="1" fill="#fdd8d4" opacity="0.21"/>
<rect x="300.5" y="633.8" width="1.6" height="1" fill="#d8747a" opacity="0.18"/>
<rect x="302.1" y="633.8" width="1.5" height="1" fill="#d8747a" opacity="0.29"/>
<rect x="303.6" y="633.8" width="3.0" height="1" fill="#fdd8d4" opacity="0.36"/>
<rect x="306.6" y="633.8" width="2.3" height="1" fill="#d8747a" opacity="0.27"/>
<rect x="309.0" y="633.8" width="4.2" height="1" fill="#d8747a" opacity="0.14"/>
<rect x="313.2" y="633.8" width="5.3" height="1" fill="#fdd8d4" opacity="0.20"/>
<rect x="318.6" y="633.8" width="4.1" height="1" fill="#fdd8d4" opacity="0.24"/>
<rect x="322.7" y="633.8" width="1.1" height="1" fill="#d8747a" opacity="0.26"/>
<rect x="263.4" y="634.8" width="4.2" height="1" fill="#fdd8d4" opacity="0.16"/>
<rect x="267.6" y="634.8" width="2.5" height="1" fill="#d8747a" opacity="0.19"/>
<rect x="270.1" y="634.8" width="3.1" height="1" fill="#fdd8d4" opacity="0.15"/>
<rect x="273.2" y="634.8" width="5.9" height="1" fill="#d8747a" opacity="0.32"/>
<rect x="279.1" y="634.8" width="2.6" height="1" fill="#fdd8d4" opacity="0.26"/>
<rect x="281.7" y="634.8" width="1.7" height="1" fill="#fdd8d4" opacity="0.44"/>
<rect x="283.4" y="634.8" width="2.7" height="1" fill="#fdd8d4" opacity="0.30"/>
<rect x="286.1" y="634.8" width="5.9" height="1" fill="#d8747a" opacity="0.18"/>
<rect x="292.1" y="634.8" width="2.5" height="1" fill="#fdd8d4" opacity="0.43"/>
<rect x="294.6" y="634.8" width="5.3" height="1" fill="#fdd8d4" opacity="0.27"/>
<rect x="299.9" y="634.8" width="5.1" height="1" fill="#d8747a" opacity="0.15"/>
<rect x="305.0" y="634.8" width="4.9" height="1" fill="#d8747a" opacity="0.35"/>
<rect x="309.9" y="634.8" width="1.9" height="1" fill="#fdd8d4" opacity="0.19"/>
<rect x="311.8" y="634.8" width="1.5" height="1" fill="#d8747a" opacity="0.10"/>
<rect x="313.3" y="634.8" width="3.2" height="1" fill="#d8747a" opacity="0.22"/>
<rect x="316.4" y="634.8" width="2.8" height="1" fill="#fdd8d4" opacity="0.32"/>
<rect x="319.2" y="634.8" width="4.6" height="1" fill="#d8747a" opacity="0.22"/>
<rect x="263.4" y="635.8" width="3.7" height="1" fill="#d8747a" opacity="0.32"/>
<rect x="267.1" y="635.8" width="2.4" height="1" fill="#fdd8d4" opacity="0.25"/>
<rect x="269.6" y="635.8" width="3.0" height="1" fill="#fdd8d4" opacity="0.34"/>
<rect x="272.6" y="635.8" width="2.8" height="1" fill="#d8747a" opacity="0.34"/>
<rect x="275.4" y="635.8" width="3.2" height="1" fill="#d8747a" opacity="0.26"/>
<rect x="278.5" y="635.8" width="3.9" height="1" fill="#d8747a" opacity="0.17"/>
<rect x="282.4" y="635.8" width="5.3" height="1" fill="#d8747a" opacity="0.19"/>
<rect x="287.7" y="635.8" width="5.8" height="1" fill="#d8747a" opacity="0.19"/>
<rect x="293.5" y="635.8" width="2.2" height="1" fill="#fdd8d4" opacity="0.38"/>
<rect x="295.7" y="635.8" width="3.5" height="1" fill="#d8747a" opacity="0.14"/>
<rect x="299.3" y="635.8" width="5.1" height="1" fill="#fdd8d4" opacity="0.45"/>
<rect x="304.3" y="635.8" width="3.2" height="1" fill="#fdd8d4" opacity="0.12"/>
<rect x="307.5" y="635.8" width="2.5" height="1" fill="#fdd8d4" opacity="0.39"/>
<rect x="310.0" y="635.8" width="4.5" height="1" fill="#fdd8d4" opacity="0.30"/>
<rect x="314.5" y="635.8" width="2.4" height="1" fill="#d8747a" opacity="0.26"/>
<rect x="316.9" y="635.8" width="4.6" height="1" fill="#d8747a" opacity="0.26"/>
<rect x="321.5" y="635.8" width="2.1" height="1" fill="#fdd8d4" opacity="0.18"/>
<rect x="323.6" y="635.8" width="0.2" height="1" fill="#d8747a" opacity="0.23"/>
<rect x="263.4" y="636.8" width="2.1" height="1" fill="#fdd8d4" opacity="0.36"/>
<rect x="265.5" y="636.8" width="2.1" height="1" fill="#d8747a" opacity="0.27"/>
<rect x="267.6" y="636.8" width="4.0" height="1" fill="#fdd8d4" opacity="0.43"/>
<rect x="271.6" y="636.8" width="4.1" height="1" fill="#d8747a" opacity="0.20"/>
<rect x="275.6" y="636.8" width="5.2" height="1" fill="#fdd8d4" opacity="0.42"/>
<rect x="280.9" y="636.8" width="3.1" height="1" fill="#d8747a" opacity="0.35"/>
<rect x="284.0" y="636.8" width="5.2" height="1" fill="#fdd8d4" opacity="0.15"/>
<rect x="289.2" y="636.8" width="4.3" height="1" fill="#d8747a" opacity="0.34"/>
<rect x="293.5" y="636.8" width="5.9" height="1" fill="#fdd8d4" opacity="0.22"/>
<rect x="299.3" y="636.8" width="5.3" height="1" fill="#d8747a" opacity="0.31"/>
<rect x="304.6" y="636.8" width="3.8" height="1" fill="#d8747a" opacity="0.32"/>
<rect x="308.5" y="636.8" width="3.5" height="1" fill="#fdd8d4" opacity="0.39"/>
<rect x="312.0" y="636.8" width="3.9" height="1" fill="#fdd8d4" opacity="0.19"/>
<rect x="315.9" y="636.8" width="5.5" height="1" fill="#d8747a" opacity="0.09"/>
<rect x="321.4" y="636.8" width="2.4" height="1" fill="#d8747a" opacity="0.10"/>
<rect x="263.4" y="637.8" width="4.3" height="1" fill="#d8747a" opacity="0.12"/>
<rect x="267.7" y="637.8" width="2.8" height="1" fill="#d8747a" opacity="0.33"/>
<rect x="270.5" y="637.8" width="5.6" height="1" fill="#fdd8d4" opacity="0.52"/>
<rect x="276.1" y="637.8" width="3.5" height="1" fill="#fdd8d4" opacity="0.22"/>
<rect x="279.6" y="637.8" width="5.7" height="1" fill="#fdd8d4" opacity="0.41"/>
<rect x="285.2" y="637.8" width="2.5" height="1" fill="#d8747a" opacity="0.33"/>
<rect x="287.8" y="637.8" width="4.0" height="1" fill="#fdd8d4" opacity="0.47"/>
<rect x="291.8" y="637.8" width="2.1" height="1" fill="#fdd8d4" opacity="0.30"/>
<rect x="293.9" y="637.8" width="5.0" height="1" fill="#fdd8d4" opacity="0.19"/>
<rect x="298.9" y="637.8" width="5.8" height="1" fill="#d8747a" opacity="0.28"/>
<rect x="304.7" y="637.8" width="5.2" height="1" fill="#d8747a" opacity="0.27"/>
<rect x="310.0" y="637.8" width="3.3" height="1" fill="#d8747a" opacity="0.14"/>
<rect x="313.3" y="637.8" width="5.8" height="1" fill="#d8747a" opacity="0.22"/>
<rect x="319.1" y="637.8" width="3.8" height="1" fill="#d8747a" opacity="0.29"/>
<rect x="322.8" y="637.8" width="1.0" height="1" fill="#fdd8d4" opacity="0.26"/>
<rect x="263.4" y="638.8" width="2.4" height="1" fill="#d8747a" opacity="0.28"/>
<rect x="265.8" y="638.8" width="4.5" height="1" fill="#d8747a" opacity="0.22"/>
<rect x="270.3" y="638.8" width="2.2" height="1" fill="#fdd8d4" opacity="0.31"/>
<rect x="272.5" y="638.8" width="3.8" height="1" fill="#fdd8d4" opacity="0.19"/>
<rect x="276.3" y="638.8" width="4.8" height="1" fill="#d8747a" opacity="0.30"/>
<rect x="281.0" y="638.8" width="1.9" height="1" fill="#d8747a" opacity="0.25"/>
<rect x="283.0" y="638.8" width="3.7" height="1" fill="#d8747a" opacity="0.24"/>
<rect x="286.6" y="638.8" width="2.5" height="1" fill="#d8747a" opacity="0.08"/>
<rect x="289.1" y="638.8" width="5.1" height="1" fill="#d8747a" opacity="0.31"/>
<rect x="294.2" y="638.8" width="4.0" height="1" fill="#fdd8d4" opacity="0.37"/>
<rect x="298.2" y="638.8" width="2.1" height="1" fill="#fdd8d4" opacity="0.23"/>
<rect x="300.2" y="638.8" width="5.4" height="1" fill="#fdd8d4" opacity="0.39"/>
<rect x="305.6" y="638.8" width="5.2" height="1" fill="#d8747a" opacity="0.26"/>
<rect x="310.8" y="638.8" width="5.8" height="1" fill="#d8747a" opacity="0.11"/>
<rect x="316.6" y="638.8" width="3.4" height="1" fill="#fdd8d4" opacity="0.17"/>
<rect x="319.9" y="638.8" width="2.5" height="1" fill="#fdd8d4" opacity="0.27"/>
<rect x="322.4" y="638.8" width="1.4" height="1" fill="#d8747a" opacity="0.24"/>
<rect x="263.4" y="639.8" width="2.4" height="1" fill="#fdd8d4" opacity="0.33"/>
<rect x="265.8" y="639.8" width="3.5" height="1" fill="#fdd8d4" opacity="0.46"/>
<rect x="269.2" y="639.8" width="1.6" height="1" fill="#fdd8d4" opacity="0.19"/>
<rect x="270.8" y="639.8" width="1.7" height="1" fill="#fdd8d4" opacity="0.35"/>
<rect x="272.5" y="639.8" width="3.9" height="1" fill="#d8747a" opacity="0.29"/>
<rect x="276.4" y="639.8" width="2.9" height="1" fill="#fdd8d4" opacity="0.20"/>
<rect x="279.3" y="639.8" width="4.1" height="1" fill="#fdd8d4" opacity="0.26"/>
<rect x="283.4" y="639.8" width="3.7" height="1" fill="#d8747a" opacity="0.25"/>
<rect x="287.0" y="639.8" width="4.6" height="1" fill="#d8747a" opacity="0.23"/>
<rect x="291.6" y="639.8" width="4.8" height="1" fill="#d8747a" opacity="0.31"/>
<rect x="296.4" y="639.8" width="5.4" height="1" fill="#d8747a" opacity="0.15"/>
<rect x="301.8" y="639.8" width="1.9" height="1" fill="#d8747a" opacity="0.10"/>
<rect x="303.7" y="639.8" width="3.7" height="1" fill="#d8747a" opacity="0.16"/>
<rect x="307.4" y="639.8" width="3.6" height="1" fill="#d8747a" opacity="0.29"/>
<rect x="311.0" y="639.8" width="4.8" height="1" fill="#d8747a" opacity="0.14"/>
<rect x="315.8" y="639.8" width="1.5" height="1" fill="#d8747a" opacity="0.11"/>
<rect x="317.3" y="639.8" width="4.6" height="1" fill="#fdd8d4" opacity="0.53"/>
<rect x="321.9" y="639.8" width="1.9" height="1" fill="#d8747a" opacity="0.29"/>
<rect x="263.4" y="640.8" width="3.4" height="1" fill="#fdd8d4" opacity="0.27"/>
<rect x="266.8" y="640.8" width="2.9" height="1" fill="#d8747a" opacity="0.34"/>
<rect x="269.7" y="640.8" width="3.8" height="1" fill="#d8747a" opacity="0.20"/>
<rect x="273.5" y="640.8" width="5.0" height="1" fill="#fdd8d4" opacity="0.31"/>
<rect x="278.4" y="640.8" width="2.3" height="1" fill="#d8747a" opacity="0.32"/>
<rect x="280.7" y="640.8" width="3.3" height="1" fill="#fdd8d4" opacity="0.34"/>
<rect x="284.1" y="640.8" width="3.6" height="1" fill="#fdd8d4" opacity="0.21"/>
<rect x="287.6" y="640.8" width="4.0" height="1" fill="#fdd8d4" opacity="0.14"/>
<rect x="291.6" y="640.8" width="3.2" height="1" fill="#fdd8d4" opacity="0.52"/>
<rect x="294.8" y="640.8" width="1.6" height="1" fill="#fdd8d4" opacity="0.38"/>
<rect x="296.4" y="640.8" width="5.3" height="1" fill="#fdd8d4" opacity="0.16"/>
<rect x="301.7" y="640.8" width="2.9" height="1" fill="#fdd8d4" opacity="0.42"/>
<rect x="304.5" y="640.8" width="2.4" height="1" fill="#fdd8d4" opacity="0.39"/>
<rect x="306.9" y="640.8" width="4.5" height="1" fill="#d8747a" opacity="0.20"/>
<rect x="311.4" y="640.8" width="3.0" height="1" fill="#fdd8d4" opacity="0.25"/>
<rect x="314.4" y="640.8" width="2.1" height="1" fill="#fdd8d4" opacity="0.23"/>
<rect x="316.4" y="640.8" width="5.1" height="1" fill="#d8747a" opacity="0.23"/>
<rect x="321.5" y="640.8" width="2.3" height="1" fill="#d8747a" opacity="0.28"/>
<rect x="263.4" y="641.8" width="1.8" height="1" fill="#fdd8d4" opacity="0.12"/>
<rect x="265.2" y="641.8" width="4.8" height="1" fill="#d8747a" opacity="0.13"/>
<rect x="270.0" y="641.8" width="3.3" height="1" fill="#fdd8d4" opacity="0.28"/>
<rect x="273.2" y="641.8" width="2.1" height="1" fill="#fdd8d4" opacity="0.23"/>
<rect x="275.3" y="641.8" width="5.9" height="1" fill="#d8747a" opacity="0.20"/>
<rect x="281.1" y="641.8" width="2.5" height="1" fill="#fdd8d4" opacity="0.24"/>
<rect x="283.7" y="641.8" width="4.4" height="1" fill="#fdd8d4" opacity="0.27"/>
<rect x="288.1" y="641.8" width="4.9" height="1" fill="#d8747a" opacity="0.11"/>
<rect x="293.0" y="641.8" width="1.7" height="1" fill="#d8747a" opacity="0.32"/>
<rect x="294.7" y="641.8" width="2.4" height="1" fill="#d8747a" opacity="0.29"/>
<rect x="297.1" y="641.8" width="2.7" height="1" fill="#d8747a" opacity="0.22"/>
<rect x="299.8" y="641.8" width="3.4" height="1" fill="#fdd8d4" opacity="0.49"/>
<rect x="303.2" y="641.8" width="2.6" height="1" fill="#fdd8d4" opacity="0.28"/>
<rect x="305.8" y="641.8" width="1.7" height="1" fill="#d8747a" opacity="0.33"/>
<rect x="307.5" y="641.8" width="2.9" height="1" fill="#fdd8d4" opacity="0.41"/>
<rect x="310.3" y="641.8" width="1.8" height="1" fill="#fdd8d4" opacity="0.15"/>
<rect x="312.1" y="641.8" width="2.9" height="1" fill="#fdd8d4" opacity="0.12"/>
<rect x="315.0" y="641.8" width="3.2" height="1" fill="#d8747a" opacity="0.21"/>
<rect x="318.2" y="641.8" width="1.6" height="1" fill="#d8747a" opacity="0.14"/>
<rect x="319.7" y="641.8" width="1.9" height="1" fill="#d8747a" opacity="0.13"/>
<rect x="321.6" y="641.8" width="2.2" height="1" fill="#d8747a" opacity="0.30"/>
<rect x="263.4" y="642.8" width="3.4" height="1" fill="#d8747a" opacity="0.14"/>
<rect x="266.8" y="642.8" width="5.3" height="1" fill="#d8747a" opacity="0.28"/>
<rect x="272.1" y="642.8" width="1.9" height="1" fill="#fdd8d4" opacity="0.28"/>
<rect x="274.0" y="642.8" width="4.2" height="1" fill="#fdd8d4" opacity="0.15"/>
<rect x="278.2" y="642.8" width="1.8" height="1" fill="#fdd8d4" opacity="0.36"/>
<rect x="280.0" y="642.8" width="4.7" height="1" fill="#d8747a" opacity="0.21"/>
<rect x="284.7" y="642.8" width="2.3" height="1" fill="#d8747a" opacity="0.15"/>
<rect x="287.1" y="642.8" width="4.1" height="1" fill="#d8747a" opacity="0.15"/>
<rect x="291.2" y="642.8" width="4.4" height="1" fill="#d8747a" opacity="0.30"/>
<rect x="295.6" y="642.8" width="3.7" height="1" fill="#d8747a" opacity="0.11"/>
<rect x="299.3" y="642.8" width="3.8" height="1" fill="#fdd8d4" opacity="0.42"/>
<rect x="303.1" y="642.8" width="3.2" height="1" fill="#d8747a" opacity="0.32"/>
<rect x="306.3" y="642.8" width="2.7" height="1" fill="#fdd8d4" opacity="0.49"/>
<rect x="309.0" y="642.8" width="6.0" height="1" fill="#fdd8d4" opacity="0.22"/>
<rect x="315.0" y="642.8" width="5.2" height="1" fill="#fdd8d4" opacity="0.19"/>
<rect x="320.1" y="642.8" width="3.7" height="1" fill="#fdd8d4" opacity="0.45"/>
<rect x="263.4" y="643.8" width="4.0" height="1" fill="#d8747a" opacity="0.31"/>
<rect x="267.4" y="643.8" width="2.3" height="1" fill="#d8747a" opacity="0.24"/>
<rect x="269.7" y="643.8" width="2.4" height="1" fill="#fdd8d4" opacity="0.41"/>
<rect x="272.1" y="643.8" width="1.9" height="1" fill="#fdd8d4" opacity="0.15"/>
<rect x="274.0" y="643.8" width="3.6" height="1" fill="#fdd8d4" opacity="0.40"/>
<rect x="277.6" y="643.8" width="1.7" height="1" fill="#d8747a" opacity="0.34"/>
<rect x="279.3" y="643.8" width="3.3" height="1" fill="#d8747a" opacity="0.18"/>
<rect x="282.6" y="643.8" width="4.6" height="1" fill="#fdd8d4" opacity="0.39"/>
<rect x="287.2" y="643.8" width="3.3" height="1" fill="#fdd8d4" opacity="0.33"/>
<rect x="290.5" y="643.8" width="2.3" height="1" fill="#fdd8d4" opacity="0.52"/>
<rect x="292.9" y="643.8" width="5.0" height="1" fill="#fdd8d4" opacity="0.31"/>
<rect x="297.9" y="643.8" width="5.3" height="1" fill="#d8747a" opacity="0.28"/>
<rect x="303.2" y="643.8" width="4.7" height="1" fill="#fdd8d4" opacity="0.47"/>
<rect x="307.9" y="643.8" width="5.5" height="1" fill="#d8747a" opacity="0.29"/>
<rect x="313.3" y="643.8" width="3.6" height="1" fill="#d8747a" opacity="0.18"/>
<rect x="317.0" y="643.8" width="5.1" height="1" fill="#fdd8d4" opacity="0.47"/>
<rect x="322.1" y="643.8" width="1.7" height="1" fill="#d8747a" opacity="0.12"/>
<rect x="263.4" y="644.8" width="4.1" height="1" fill="#d8747a" opacity="0.17"/>
<rect x="267.5" y="644.8" width="2.0" height="1" fill="#d8747a" opacity="0.27"/>
<rect x="269.4" y="644.8" width="2.5" height="1" fill="#fdd8d4" opacity="0.25"/>
<rect x="271.9" y="644.8" width="5.3" height="1" fill="#d8747a" opacity="0.15"/>
<rect x="277.2" y="644.8" width="3.3" height="1" fill="#d8747a" opacity="0.20"/>
<rect x="280.5" y="644.8" width="3.2" height="1" fill="#d8747a" opacity="0.31"/>
<rect x="283.7" y="644.8" width="3.2" height="1" fill="#d8747a" opacity="0.34"/>
<rect x="286.9" y="644.8" width="2.5" height="1" fill="#d8747a" opacity="0.08"/>
<rect x="289.4" y="644.8" width="1.9" height="1" fill="#fdd8d4" opacity="0.36"/>
<rect x="291.4" y="644.8" width="3.8" height="1" fill="#d8747a" opacity="0.15"/>
<rect x="295.2" y="644.8" width="5.9" height="1" fill="#d8747a" opacity="0.35"/>
<rect x="301.0" y="644.8" width="5.5" height="1" fill="#d8747a" opacity="0.31"/>
<rect x="306.5" y="644.8" width="1.6" height="1" fill="#fdd8d4" opacity="0.46"/>
<rect x="308.1" y="644.8" width="4.6" height="1" fill="#fdd8d4" opacity="0.46"/>
<rect x="312.7" y="644.8" width="2.2" height="1" fill="#fdd8d4" opacity="0.22"/>
<rect x="314.9" y="644.8" width="3.3" height="1" fill="#d8747a" opacity="0.27"/>
<rect x="318.2" y="644.8" width="4.1" height="1" fill="#fdd8d4" opacity="0.38"/>
<rect x="322.3" y="644.8" width="1.5" height="1" fill="#fdd8d4" opacity="0.46"/>
<rect x="263.4" y="645.8" width="4.1" height="1" fill="#d8747a" opacity="0.33"/>
<rect x="267.5" y="645.8" width="3.2" height="1" fill="#d8747a" opacity="0.17"/>
<rect x="270.6" y="645.8" width="4.7" height="1" fill="#fdd8d4" opacity="0.39"/>
<rect x="275.3" y="645.8" width="4.5" height="1" fill="#fdd8d4" opacity="0.44"/>
<rect x="279.8" y="645.8" width="3.5" height="1" fill="#fdd8d4" opacity="0.44"/>
<rect x="283.3" y="645.8" width="2.9" height="1" fill="#d8747a" opacity="0.24"/>
<rect x="286.2" y="645.8" width="5.1" height="1" fill="#d8747a" opacity="0.26"/>
<rect x="291.4" y="645.8" width="5.5" height="1" fill="#d8747a" opacity="0.11"/>
<rect x="296.9" y="645.8" width="3.7" height="1" fill="#d8747a" opacity="0.33"/>
<rect x="300.6" y="645.8" width="6.0" height="1" fill="#d8747a" opacity="0.29"/>
<rect x="306.6" y="645.8" width="4.3" height="1" fill="#d8747a" opacity="0.34"/>
<rect x="310.9" y="645.8" width="2.3" height="1" fill="#d8747a" opacity="0.20"/>
<rect x="313.2" y="645.8" width="1.6" height="1" fill="#fdd8d4" opacity="0.29"/>
<rect x="314.8" y="645.8" width="5.8" height="1" fill="#d8747a" opacity="0.31"/>
<rect x="320.6" y="645.8" width="3.2" height="1" fill="#fdd8d4" opacity="0.21"/>
<rect x="263.4" y="646.8" width="2.9" height="1" fill="#fdd8d4" opacity="0.28"/>
<rect x="266.3" y="646.8" width="4.4" height="1" fill="#fdd8d4" opacity="0.25"/>
<rect x="270.7" y="646.8" width="4.2" height="1" fill="#fdd8d4" opacity="0.20"/>
<rect x="274.9" y="646.8" width="3.0" height="1" fill="#d8747a" opacity="0.10"/>
<rect x="277.9" y="646.8" width="1.7" height="1" fill="#d8747a" opacity="0.30"/>
<rect x="279.7" y="646.8" width="4.6" height="1" fill="#fdd8d4" opacity="0.47"/>
<rect x="284.3" y="646.8" width="4.1" height="1" fill="#fdd8d4" opacity="0.11"/>
<rect x="288.4" y="646.8" width="3.2" height="1" fill="#d8747a" opacity="0.24"/>
<rect x="291.7" y="646.8" width="1.8" height="1" fill="#fdd8d4" opacity="0.27"/>
<rect x="293.5" y="646.8" width="3.7" height="1" fill="#d8747a" opacity="0.10"/>
<rect x="297.2" y="646.8" width="4.8" height="1" fill="#fdd8d4" opacity="0.37"/>
<rect x="302.0" y="646.8" width="2.0" height="1" fill="#fdd8d4" opacity="0.49"/>
<rect x="304.0" y="646.8" width="5.9" height="1" fill="#fdd8d4" opacity="0.13"/>
<rect x="309.9" y="646.8" width="5.5" height="1" fill="#fdd8d4" opacity="0.23"/>
<rect x="315.4" y="646.8" width="5.6" height="1" fill="#fdd8d4" opacity="0.50"/>
<rect x="321.0" y="646.8" width="2.6" height="1" fill="#fdd8d4" opacity="0.27"/>
<rect x="323.6" y="646.8" width="0.2" height="1" fill="#fdd8d4" opacity="0.38"/>
<rect x="263.4" y="647.8" width="3.0" height="1" fill="#fdd8d4" opacity="0.51"/>
<rect x="266.4" y="647.8" width="4.1" height="1" fill="#fdd8d4" opacity="0.35"/>
<rect x="270.4" y="647.8" width="6.0" height="1" fill="#d8747a" opacity="0.20"/>
<rect x="276.4" y="647.8" width="4.0" height="1" fill="#fdd8d4" opacity="0.53"/>
<rect x="280.4" y="647.8" width="4.3" height="1" fill="#fdd8d4" opacity="0.38"/>
<rect x="284.7" y="647.8" width="3.9" height="1" fill="#fdd8d4" opacity="0.52"/>
<rect x="288.6" y="647.8" width="1.6" height="1" fill="#d8747a" opacity="0.31"/>
<rect x="290.2" y="647.8" width="1.8" height="1" fill="#fdd8d4" opacity="0.12"/>
<rect x="291.9" y="647.8" width="4.4" height="1" fill="#fdd8d4" opacity="0.21"/>
<rect x="296.3" y="647.8" width="3.2" height="1" fill="#d8747a" opacity="0.27"/>
<rect x="299.6" y="647.8" width="3.9" height="1" fill="#fdd8d4" opacity="0.25"/>
<rect x="303.4" y="647.8" width="4.1" height="1" fill="#fdd8d4" opacity="0.45"/>
<rect x="307.6" y="647.8" width="5.8" height="1" fill="#d8747a" opacity="0.22"/>
<rect x="313.4" y="647.8" width="3.2" height="1" fill="#d8747a" opacity="0.29"/>
<rect x="316.6" y="647.8" width="2.3" height="1" fill="#fdd8d4" opacity="0.45"/>
<rect x="318.9" y="647.8" width="4.9" height="1" fill="#d8747a" opacity="0.15"/>
<rect x="263.4" y="648.8" width="3.7" height="1" fill="#fdd8d4" opacity="0.18"/>
<rect x="267.1" y="648.8" width="5.3" height="1" fill="#d8747a" opacity="0.22"/>
<rect x="272.4" y="648.8" width="5.7" height="1" fill="#d8747a" opacity="0.16"/>
<rect x="278.1" y="648.8" width="2.2" height="1" fill="#d8747a" opacity="0.16"/>
<rect x="280.3" y="648.8" width="4.7" height="1" fill="#fdd8d4" opacity="0.16"/>
<rect x="284.9" y="648.8" width="5.1" height="1" fill="#fdd8d4" opacity="0.17"/>
<rect x="290.0" y="648.8" width="5.2" height="1" fill="#fdd8d4" opacity="0.20"/>
<rect x="295.2" y="648.8" width="5.7" height="1" fill="#fdd8d4" opacity="0.21"/>
<rect x="301.0" y="648.8" width="1.5" height="1" fill="#fdd8d4" opacity="0.47"/>
<rect x="302.5" y="648.8" width="1.9" height="1" fill="#fdd8d4" opacity="0.45"/>
<rect x="304.4" y="648.8" width="4.4" height="1" fill="#fdd8d4" opacity="0.54"/>
<rect x="308.8" y="648.8" width="3.0" height="1" fill="#fdd8d4" opacity="0.51"/>
<rect x="311.7" y="648.8" width="2.9" height="1" fill="#fdd8d4" opacity="0.41"/>
<rect x="314.6" y="648.8" width="5.3" height="1" fill="#fdd8d4" opacity="0.23"/>
<rect x="320.0" y="648.8" width="2.6" height="1" fill="#fdd8d4" opacity="0.17"/>
<rect x="322.6" y="648.8" width="1.2" height="1" fill="#fdd8d4" opacity="0.21"/>
<rect x="263.4" y="649.8" width="4.6" height="1" fill="#fdd8d4" opacity="0.16"/>
<rect x="268.0" y="649.8" width="5.0" height="1" fill="#fdd8d4" opacity="0.24"/>
<rect x="273.0" y="649.8" width="1.9" height="1" fill="#d8747a" opacity="0.28"/>
<rect x="275.0" y="649.8" width="3.6" height="1" fill="#fdd8d4" opacity="0.18"/>
<rect x="278.6" y="649.8" width="2.0" height="1" fill="#d8747a" opacity="0.31"/>
<rect x="280.6" y="649.8" width="2.2" height="1" fill="#d8747a" opacity="0.28"/>
<rect x="282.8" y="649.8" width="1.9" height="1" fill="#fdd8d4" opacity="0.15"/>
<rect x="284.7" y="649.8" width="2.6" height="1" fill="#fdd8d4" opacity="0.49"/>
<rect x="287.3" y="649.8" width="3.3" height="1" fill="#d8747a" opacity="0.08"/>
<rect x="290.7" y="649.8" width="3.0" height="1" fill="#d8747a" opacity="0.29"/>
<rect x="293.7" y="649.8" width="4.7" height="1" fill="#fdd8d4" opacity="0.34"/>
<rect x="298.4" y="649.8" width="4.6" height="1" fill="#d8747a" opacity="0.18"/>
<rect x="303.0" y="649.8" width="2.8" height="1" fill="#d8747a" opacity="0.27"/>
<rect x="305.9" y="649.8" width="2.5" height="1" fill="#d8747a" opacity="0.15"/>
<rect x="308.3" y="649.8" width="5.4" height="1" fill="#fdd8d4" opacity="0.32"/>
<rect x="313.7" y="649.8" width="3.2" height="1" fill="#fdd8d4" opacity="0.52"/>
<rect x="316.9" y="649.8" width="3.5" height="1" fill="#fdd8d4" opacity="0.49"/>
<rect x="320.5" y="649.8" width="2.7" height="1" fill="#d8747a" opacity="0.10"/>
<rect x="323.1" y="649.8" width="0.7" height="1" fill="#fdd8d4" opacity="0.18"/>
<rect x="263.4" y="650.8" width="3.4" height="1" fill="#fdd8d4" opacity="0.32"/>
<rect x="266.8" y="650.8" width="3.2" height="1" fill="#fdd8d4" opacity="0.50"/>
<rect x="270.1" y="650.8" width="3.2" height="1" fill="#d8747a" opacity="0.25"/>
<rect x="273.3" y="650.8" width="4.8" height="1" fill="#fdd8d4" opacity="0.40"/>
<rect x="278.1" y="650.8" width="2.9" height="1" fill="#fdd8d4" opacity="0.24"/>
<rect x="281.0" y="650.8" width="3.5" height="1" fill="#fdd8d4" opacity="0.51"/>
<rect x="284.5" y="650.8" width="5.6" height="1" fill="#fdd8d4" opacity="0.32"/>
<rect x="290.1" y="650.8" width="5.8" height="1" fill="#d8747a" opacity="0.32"/>
<rect x="295.9" y="650.8" width="4.4" height="1" fill="#fdd8d4" opacity="0.29"/>
<rect x="300.3" y="650.8" width="6.0" height="1" fill="#d8747a" opacity="0.30"/>
<rect x="306.2" y="650.8" width="5.2" height="1" fill="#d8747a" opacity="0.30"/>
<rect x="311.4" y="650.8" width="2.5" height="1" fill="#fdd8d4" opacity="0.32"/>
<rect x="313.9" y="650.8" width="3.3" height="1" fill="#d8747a" opacity="0.29"/>
<rect x="317.2" y="650.8" width="4.8" height="1" fill="#d8747a" opacity="0.34"/>
<rect x="322.0" y="650.8" width="1.8" height="1" fill="#d8747a" opacity="0.19"/>
<rect x="263.4" y="651.8" width="4.1" height="1" fill="#fdd8d4" opacity="0.53"/>
<rect x="267.5" y="651.8" width="4.3" height="1" fill="#d8747a" opacity="0.10"/>
<rect x="271.8" y="651.8" width="1.8" height="1" fill="#fdd8d4" opacity="0.37"/>
<rect x="273.7" y="651.8" width="3.5" height="1" fill="#fdd8d4" opacity="0.29"/>
<rect x="277.2" y="651.8" width="3.1" height="1" fill="#d8747a" opacity="0.12"/>
<rect x="280.2" y="651.8" width="5.7" height="1" fill="#fdd8d4" opacity="0.35"/>
<rect x="286.0" y="651.8" width="3.4" height="1" fill="#d8747a" opacity="0.16"/>
<rect x="289.4" y="651.8" width="3.7" height="1" fill="#d8747a" opacity="0.34"/>
<rect x="293.1" y="651.8" width="4.0" height="1" fill="#d8747a" opacity="0.09"/>
<rect x="297.1" y="651.8" width="2.2" height="1" fill="#d8747a" opacity="0.28"/>
<rect x="299.4" y="651.8" width="5.5" height="1" fill="#d8747a" opacity="0.28"/>
<rect x="304.9" y="651.8" width="3.5" height="1" fill="#fdd8d4" opacity="0.34"/>
<rect x="308.3" y="651.8" width="1.7" height="1" fill="#d8747a" opacity="0.25"/>
<rect x="310.0" y="651.8" width="4.6" height="1" fill="#d8747a" opacity="0.32"/>
<rect x="314.6" y="651.8" width="5.2" height="1" fill="#d8747a" opacity="0.09"/>
<rect x="319.8" y="651.8" width="4.0" height="1" fill="#fdd8d4" opacity="0.21"/>
<rect x="263.4" y="652.8" width="1.7" height="1" fill="#fdd8d4" opacity="0.13"/>
<rect x="265.1" y="652.8" width="4.8" height="1" fill="#fdd8d4" opacity="0.23"/>
<rect x="269.9" y="652.8" width="3.5" height="1" fill="#d8747a" opacity="0.13"/>
<rect x="273.4" y="652.8" width="2.3" height="1" fill="#fdd8d4" opacity="0.31"/>
<rect x="275.7" y="652.8" width="4.7" height="1" fill="#d8747a" opacity="0.29"/>
<rect x="280.5" y="652.8" width="4.2" height="1" fill="#fdd8d4" opacity="0.28"/>
<rect x="284.6" y="652.8" width="4.0" height="1" fill="#d8747a" opacity="0.33"/>
<rect x="288.7" y="652.8" width="4.5" height="1" fill="#fdd8d4" opacity="0.39"/>
<rect x="293.2" y="652.8" width="2.0" height="1" fill="#d8747a" opacity="0.14"/>
<rect x="295.1" y="652.8" width="5.3" height="1" fill="#d8747a" opacity="0.19"/>
<rect x="300.4" y="652.8" width="5.4" height="1" fill="#fdd8d4" opacity="0.43"/>
<rect x="305.8" y="652.8" width="2.9" height="1" fill="#d8747a" opacity="0.26"/>
<rect x="308.7" y="652.8" width="2.8" height="1" fill="#fdd8d4" opacity="0.26"/>
<rect x="311.5" y="652.8" width="4.9" height="1" fill="#fdd8d4" opacity="0.47"/>
<rect x="316.5" y="652.8" width="5.9" height="1" fill="#d8747a" opacity="0.34"/>
<rect x="322.4" y="652.8" width="1.4" height="1" fill="#fdd8d4" opacity="0.12"/>
<rect x="263.4" y="653.8" width="4.0" height="1" fill="#d8747a" opacity="0.28"/>
<rect x="267.4" y="653.8" width="2.9" height="1" fill="#d8747a" opacity="0.28"/>
<rect x="270.3" y="653.8" width="4.0" height="1" fill="#fdd8d4" opacity="0.33"/>
<rect x="274.2" y="653.8" width="1.7" height="1" fill="#fdd8d4" opacity="0.21"/>
<rect x="275.9" y="653.8" width="3.6" height="1" fill="#d8747a" opacity="0.14"/>
<rect x="279.5" y="653.8" width="4.5" height="1" fill="#fdd8d4" opacity="0.39"/>
<rect x="284.0" y="653.8" width="3.5" height="1" fill="#fdd8d4" opacity="0.41"/>
<rect x="287.5" y="653.8" width="2.4" height="1" fill="#fdd8d4" opacity="0.38"/>
<rect x="290.0" y="653.8" width="4.8" height="1" fill="#d8747a" opacity="0.16"/>
<rect x="294.7" y="653.8" width="3.0" height="1" fill="#d8747a" opacity="0.17"/>
<rect x="297.8" y="653.8" width="4.8" height="1" fill="#fdd8d4" opacity="0.19"/>
<rect x="302.6" y="653.8" width="4.8" height="1" fill="#d8747a" opacity="0.27"/>
<rect x="307.4" y="653.8" width="2.2" height="1" fill="#d8747a" opacity="0.14"/>
<rect x="309.5" y="653.8" width="3.8" height="1" fill="#d8747a" opacity="0.31"/>
<rect x="313.3" y="653.8" width="5.7" height="1" fill="#d8747a" opacity="0.27"/>
<rect x="319.1" y="653.8" width="4.6" height="1" fill="#fdd8d4" opacity="0.22"/>
<rect x="323.7" y="653.8" width="0.1" height="1" fill="#fdd8d4" opacity="0.12"/>
<rect x="263.4" y="654.8" width="3.0" height="1" fill="#d8747a" opacity="0.13"/>
<rect x="266.4" y="654.8" width="3.4" height="1" fill="#fdd8d4" opacity="0.12"/>
<rect x="269.8" y="654.8" width="5.3" height="1" fill="#d8747a" opacity="0.08"/>
<rect x="275.1" y="654.8" width="5.5" height="1" fill="#d8747a" opacity="0.13"/>
<rect x="280.6" y="654.8" width="2.0" height="1" fill="#d8747a" opacity="0.11"/>
<rect x="282.7" y="654.8" width="2.3" height="1" fill="#d8747a" opacity="0.23"/>
<rect x="285.0" y="654.8" width="3.5" height="1" fill="#d8747a" opacity="0.21"/>
<rect x="288.5" y="654.8" width="5.0" height="1" fill="#fdd8d4" opacity="0.26"/>
<rect x="293.5" y="654.8" width="5.6" height="1" fill="#fdd8d4" opacity="0.36"/>
<rect x="299.1" y="654.8" width="3.6" height="1" fill="#d8747a" opacity="0.11"/>
<rect x="302.7" y="654.8" width="5.5" height="1" fill="#fdd8d4" opacity="0.15"/>
<rect x="308.2" y="654.8" width="5.7" height="1" fill="#fdd8d4" opacity="0.13"/>
<rect x="313.9" y="654.8" width="4.7" height="1" fill="#d8747a" opacity="0.22"/>
<rect x="318.5" y="654.8" width="5.3" height="1" fill="#d8747a" opacity="0.21"/>
<rect x="323.8" y="654.8" width="0.0" height="1" fill="#d8747a" opacity="0.24"/>
<rect x="263.4" y="655.8" width="3.4" height="1" fill="#fdd8d4" opacity="0.19"/>
<rect x="266.8" y="655.8" width="4.7" height="1" fill="#d8747a" opacity="0.15"/>
<rect x="271.5" y="655.8" width="2.0" height="1" fill="#d8747a" opacity="0.21"/>
<rect x="273.5" y="655.8" width="2.3" height="1" fill="#fdd8d4" opacity="0.15"/>
<rect x="275.8" y="655.8" width="4.3" height="1" fill="#fdd8d4" opacity="0.17"/>
<rect x="280.1" y="655.8" width="2.5" height="1" fill="#fdd8d4" opacity="0.32"/>
<rect x="282.6" y="655.8" width="5.7" height="1" fill="#d8747a" opacity="0.18"/>
<rect x="288.3" y="655.8" width="5.8" height="1" fill="#d8747a" opacity="0.33"/>
<rect x="294.1" y="655.8" width="5.5" height="1" fill="#d8747a" opacity="0.22"/>
<rect x="299.6" y="655.8" width="5.7" height="1" fill="#d8747a" opacity="0.30"/>
<rect x="305.4" y="655.8" width="5.0" height="1" fill="#fdd8d4" opacity="0.38"/>
<rect x="310.3" y="655.8" width="1.9" height="1" fill="#fdd8d4" opacity="0.16"/>
<rect x="312.3" y="655.8" width="5.0" height="1" fill="#fdd8d4" opacity="0.25"/>
<rect x="317.3" y="655.8" width="4.6" height="1" fill="#d8747a" opacity="0.27"/>
<rect x="321.9" y="655.8" width="1.7" height="1" fill="#fdd8d4" opacity="0.28"/>
<rect x="323.6" y="655.8" width="0.2" height="1" fill="#fdd8d4" opacity="0.47"/>
<rect x="263.4" y="656.8" width="2.9" height="1" fill="#fdd8d4" opacity="0.12"/>
<rect x="266.3" y="656.8" width="3.7" height="1" fill="#d8747a" opacity="0.30"/>
<rect x="270.0" y="656.8" width="4.5" height="1" fill="#d8747a" opacity="0.33"/>
<rect x="274.5" y="656.8" width="5.8" height="1" fill="#fdd8d4" opacity="0.15"/>
<rect x="280.3" y="656.8" width="4.7" height="1" fill="#fdd8d4" opacity="0.38"/>
<rect x="284.9" y="656.8" width="1.6" height="1" fill="#fdd8d4" opacity="0.31"/>
<rect x="286.5" y="656.8" width="4.2" height="1" fill="#fdd8d4" opacity="0.23"/>
<rect x="290.7" y="656.8" width="1.6" height="1" fill="#fdd8d4" opacity="0.23"/>
<rect x="292.3" y="656.8" width="1.7" height="1" fill="#d8747a" opacity="0.34"/>
<rect x="294.0" y="656.8" width="4.8" height="1" fill="#d8747a" opacity="0.11"/>
<rect x="298.8" y="656.8" width="5.5" height="1" fill="#fdd8d4" opacity="0.37"/>
<rect x="304.4" y="656.8" width="2.1" height="1" fill="#d8747a" opacity="0.32"/>
<rect x="306.5" y="656.8" width="1.5" height="1" fill="#d8747a" opacity="0.09"/>
<rect x="308.0" y="656.8" width="6.0" height="1" fill="#d8747a" opacity="0.33"/>
<rect x="314.0" y="656.8" width="5.3" height="1" fill="#fdd8d4" opacity="0.13"/>
<rect x="319.2" y="656.8" width="4.6" height="1" fill="#fdd8d4" opacity="0.33"/>
<rect x="263.4" y="657.8" width="2.2" height="1" fill="#fdd8d4" opacity="0.47"/>
<rect x="265.6" y="657.8" width="2.1" height="1" fill="#fdd8d4" opacity="0.30"/>
<rect x="267.6" y="657.8" width="2.7" height="1" fill="#d8747a" opacity="0.20"/>
<rect x="270.3" y="657.8" width="4.4" height="1" fill="#fdd8d4" opacity="0.51"/>
<rect x="274.8" y="657.8" width="3.8" height="1" fill="#fdd8d4" opacity="0.55"/>
<rect x="278.6" y="657.8" width="2.5" height="1" fill="#d8747a" opacity="0.16"/>
<rect x="281.0" y="657.8" width="2.9" height="1" fill="#d8747a" opacity="0.18"/>
<rect x="283.9" y="657.8" width="1.7" height="1" fill="#fdd8d4" opacity="0.33"/>
<rect x="285.6" y="657.8" width="5.5" height="1" fill="#fdd8d4" opacity="0.44"/>
<rect x="291.0" y="657.8" width="4.9" height="1" fill="#d8747a" opacity="0.27"/>
<rect x="296.0" y="657.8" width="2.4" height="1" fill="#fdd8d4" opacity="0.38"/>
<rect x="298.4" y="657.8" width="5.0" height="1" fill="#d8747a" opacity="0.16"/>
<rect x="303.4" y="657.8" width="5.2" height="1" fill="#fdd8d4" opacity="0.55"/>
<rect x="308.6" y="657.8" width="2.0" height="1" fill="#d8747a" opacity="0.10"/>
<rect x="310.6" y="657.8" width="4.8" height="1" fill="#fdd8d4" opacity="0.40"/>
<rect x="315.4" y="657.8" width="5.0" height="1" fill="#fdd8d4" opacity="0.36"/>
<rect x="320.4" y="657.8" width="3.4" height="1" fill="#fdd8d4" opacity="0.41"/>
<rect x="263.4" y="658.8" width="4.1" height="1" fill="#fdd8d4" opacity="0.45"/>
<rect x="267.5" y="658.8" width="4.1" height="1" fill="#d8747a" opacity="0.19"/>
<rect x="271.6" y="658.8" width="3.4" height="1" fill="#d8747a" opacity="0.22"/>
<rect x="275.0" y="658.8" width="3.1" height="1" fill="#d8747a" opacity="0.19"/>
<rect x="278.1" y="658.8" width="3.2" height="1" fill="#fdd8d4" opacity="0.15"/>
<rect x="281.3" y="658.8" width="1.6" height="1" fill="#fdd8d4" opacity="0.29"/>
<rect x="282.9" y="658.8" width="3.5" height="1" fill="#fdd8d4" opacity="0.28"/>
<rect x="286.4" y="658.8" width="2.6" height="1" fill="#d8747a" opacity="0.30"/>
<rect x="289.0" y="658.8" width="5.7" height="1" fill="#d8747a" opacity="0.20"/>
<rect x="294.7" y="658.8" width="3.0" height="1" fill="#d8747a" opacity="0.31"/>
<rect x="297.7" y="658.8" width="5.3" height="1" fill="#d8747a" opacity="0.14"/>
<rect x="302.9" y="658.8" width="4.6" height="1" fill="#fdd8d4" opacity="0.32"/>
<rect x="307.6" y="658.8" width="3.2" height="1" fill="#d8747a" opacity="0.28"/>
<rect x="310.8" y="658.8" width="5.4" height="1" fill="#fdd8d4" opacity="0.16"/>
<rect x="316.2" y="658.8" width="4.2" height="1" fill="#fdd8d4" opacity="0.43"/>
<rect x="320.4" y="658.8" width="3.4" height="1" fill="#d8747a" opacity="0.09"/>
<rect x="263.4" y="659.8" width="4.8" height="1" fill="#d8747a" opacity="0.29"/>
<rect x="268.2" y="659.8" width="4.5" height="1" fill="#fdd8d4" opacity="0.51"/>
<rect x="272.7" y="659.8" width="5.7" height="1" fill="#fdd8d4" opacity="0.16"/>
<rect x="278.4" y="659.8" width="4.1" height="1" fill="#d8747a" opacity="0.14"/>
<rect x="282.5" y="659.8" width="5.7" height="1" fill="#fdd8d4" opacity="0.17"/>
<rect x="288.2" y="659.8" width="2.5" height="1" fill="#d8747a" opacity="0.22"/>
<rect x="290.7" y="659.8" width="3.0" height="1" fill="#d8747a" opacity="0.29"/>
<rect x="293.7" y="659.8" width="2.3" height="1" fill="#fdd8d4" opacity="0.26"/>
<rect x="296.0" y="659.8" width="5.8" height="1" fill="#fdd8d4" opacity="0.26"/>
<rect x="301.8" y="659.8" width="4.2" height="1" fill="#d8747a" opacity="0.18"/>
<rect x="306.0" y="659.8" width="4.3" height="1" fill="#fdd8d4" opacity="0.27"/>
<rect x="310.3" y="659.8" width="1.7" height="1" fill="#d8747a" opacity="0.22"/>
<rect x="312.0" y="659.8" width="2.3" height="1" fill="#d8747a" opacity="0.24"/>
<rect x="314.2" y="659.8" width="5.6" height="1" fill="#fdd8d4" opacity="0.23"/>
<rect x="319.8" y="659.8" width="4.0" height="1" fill="#d8747a" opacity="0.28"/>
<rect x="263.4" y="660.8" width="2.2" height="1" fill="#d8747a" opacity="0.19"/>
<rect x="265.6" y="660.8" width="5.6" height="1" fill="#d8747a" opacity="0.12"/>
<rect x="271.2" y="660.8" width="2.1" height="1" fill="#d8747a" opacity="0.16"/>
<rect x="273.3" y="660.8" width="3.3" height="1" fill="#fdd8d4" opacity="0.30"/>
<rect x="276.6" y="660.8" width="3.6" height="1" fill="#d8747a" opacity="0.28"/>
<rect x="280.2" y="660.8" width="5.6" height="1" fill="#d8747a" opacity="0.31"/>
<rect x="285.8" y="660.8" width="2.6" height="1" fill="#fdd8d4" opacity="0.35"/>
<rect x="288.4" y="660.8" width="4.6" height="1" fill="#d8747a" opacity="0.14"/>
<rect x="293.0" y="660.8" width="2.1" height="1" fill="#fdd8d4" opacity="0.28"/>
<rect x="295.1" y="660.8" width="4.6" height="1" fill="#fdd8d4" opacity="0.35"/>
<rect x="299.7" y="660.8" width="2.4" height="1" fill="#d8747a" opacity="0.16"/>
<rect x="302.1" y="660.8" width="4.6" height="1" fill="#fdd8d4" opacity="0.11"/>
<rect x="306.7" y="660.8" width="4.7" height="1" fill="#d8747a" opacity="0.09"/>
<rect x="311.4" y="660.8" width="2.7" height="1" fill="#d8747a" opacity="0.29"/>
<rect x="314.1" y="660.8" width="4.0" height="1" fill="#d8747a" opacity="0.14"/>
<rect x="318.1" y="660.8" width="2.8" height="1" fill="#d8747a" opacity="0.16"/>
<rect x="320.9" y="660.8" width="2.9" height="1" fill="#fdd8d4" opacity="0.43"/>
<rect x="263.4" y="661.8" width="5.5" height="1" fill="#fdd8d4" opacity="0.16"/>
<rect x="268.9" y="661.8" width="1.7" height="1" fill="#d8747a" opacity="0.14"/>
<rect x="270.6" y="661.8" width="3.9" height="1" fill="#fdd8d4" opacity="0.38"/>
<rect x="274.5" y="661.8" width="3.4" height="1" fill="#d8747a" opacity="0.33"/>
<rect x="277.9" y="661.8" width="4.9" height="1" fill="#d8747a" opacity="0.09"/>
<rect x="282.8" y="661.8" width="5.9" height="1" fill="#d8747a" opacity="0.29"/>
<rect x="288.7" y="661.8" width="2.0" height="1" fill="#fdd8d4" opacity="0.27"/>
<rect x="290.7" y="661.8" width="5.5" height="1" fill="#d8747a" opacity="0.10"/>
<rect x="296.2" y="661.8" width="2.4" height="1" fill="#fdd8d4" opacity="0.56"/>
<rect x="298.6" y="661.8" width="4.4" height="1" fill="#fdd8d4" opacity="0.24"/>
<rect x="303.0" y="661.8" width="2.7" height="1" fill="#d8747a" opacity="0.33"/>
<rect x="305.7" y="661.8" width="1.7" height="1" fill="#fdd8d4" opacity="0.27"/>
<rect x="307.4" y="661.8" width="2.3" height="1" fill="#d8747a" opacity="0.32"/>
<rect x="309.8" y="661.8" width="2.6" height="1" fill="#d8747a" opacity="0.24"/>
<rect x="312.4" y="661.8" width="4.5" height="1" fill="#fdd8d4" opacity="0.19"/>
<rect x="316.9" y="661.8" width="5.4" height="1" fill="#d8747a" opacity="0.12"/>
<rect x="322.3" y="661.8" width="1.5" height="1" fill="#fdd8d4" opacity="0.33"/>
<rect x="263.4" y="662.8" width="4.0" height="1" fill="#fdd8d4" opacity="0.52"/>
<rect x="267.4" y="662.8" width="3.6" height="1" fill="#d8747a" opacity="0.29"/>
<rect x="271.0" y="662.8" width="1.6" height="1" fill="#d8747a" opacity="0.11"/>
<rect x="272.6" y="662.8" width="4.2" height="1" fill="#fdd8d4" opacity="0.17"/>
<rect x="276.8" y="662.8" width="2.8" height="1" fill="#fdd8d4" opacity="0.43"/>
<rect x="279.6" y="662.8" width="2.0" height="1" fill="#fdd8d4" opacity="0.47"/>
<rect x="281.6" y="662.8" width="3.3" height="1" fill="#d8747a" opacity="0.24"/>
<rect x="284.9" y="662.8" width="2.9" height="1" fill="#d8747a" opacity="0.12"/>
<rect x="287.9" y="662.8" width="3.3" height="1" fill="#d8747a" opacity="0.17"/>
<rect x="291.2" y="662.8" width="4.0" height="1" fill="#fdd8d4" opacity="0.30"/>
<rect x="295.2" y="662.8" width="5.1" height="1" fill="#d8747a" opacity="0.16"/>
<rect x="300.3" y="662.8" width="5.7" height="1" fill="#fdd8d4" opacity="0.53"/>
<rect x="306.0" y="662.8" width="4.9" height="1" fill="#fdd8d4" opacity="0.47"/>
<rect x="310.9" y="662.8" width="4.1" height="1" fill="#d8747a" opacity="0.14"/>
<rect x="315.0" y="662.8" width="1.9" height="1" fill="#fdd8d4" opacity="0.26"/>
<rect x="316.9" y="662.8" width="3.3" height="1" fill="#fdd8d4" opacity="0.16"/>
<rect x="320.3" y="662.8" width="3.5" height="1" fill="#fdd8d4" opacity="0.48"/>
<rect x="263.4" y="663.8" width="5.5" height="1" fill="#d8747a" opacity="0.11"/>
<rect x="268.9" y="663.8" width="4.9" height="1" fill="#fdd8d4" opacity="0.28"/>
<rect x="273.8" y="663.8" width="3.0" height="1" fill="#d8747a" opacity="0.29"/>
<rect x="276.8" y="663.8" width="3.6" height="1" fill="#fdd8d4" opacity="0.27"/>
<rect x="280.4" y="663.8" width="2.9" height="1" fill="#fdd8d4" opacity="0.45"/>
<rect x="283.4" y="663.8" width="5.5" height="1" fill="#d8747a" opacity="0.25"/>
<rect x="288.8" y="663.8" width="3.3" height="1" fill="#fdd8d4" opacity="0.46"/>
<rect x="292.1" y="663.8" width="4.0" height="1" fill="#d8747a" opacity="0.14"/>
<rect x="296.1" y="663.8" width="5.5" height="1" fill="#fdd8d4" opacity="0.25"/>
<rect x="301.6" y="663.8" width="1.9" height="1" fill="#d8747a" opacity="0.32"/>
<rect x="303.5" y="663.8" width="1.7" height="1" fill="#fdd8d4" opacity="0.35"/>
<rect x="305.2" y="663.8" width="4.0" height="1" fill="#fdd8d4" opacity="0.30"/>
<rect x="309.2" y="663.8" width="4.0" height="1" fill="#d8747a" opacity="0.31"/>
<rect x="313.2" y="663.8" width="2.0" height="1" fill="#d8747a" opacity="0.25"/>
<rect x="315.1" y="663.8" width="4.4" height="1" fill="#fdd8d4" opacity="0.43"/>
<rect x="319.5" y="663.8" width="4.3" height="1" fill="#d8747a" opacity="0.08"/>
<rect x="263.4" y="664.8" width="2.6" height="1" fill="#fdd8d4" opacity="0.18"/>
<rect x="266.0" y="664.8" width="3.9" height="1" fill="#fdd8d4" opacity="0.19"/>
<rect x="269.9" y="664.8" width="3.9" height="1" fill="#fdd8d4" opacity="0.46"/>
<rect x="273.7" y="664.8" width="3.3" height="1" fill="#fdd8d4" opacity="0.24"/>
<rect x="277.0" y="664.8" width="5.8" height="1" fill="#fdd8d4" opacity="0.42"/>
<rect x="282.8" y="664.8" width="2.9" height="1" fill="#fdd8d4" opacity="0.34"/>
<rect x="285.7" y="664.8" width="5.1" height="1" fill="#d8747a" opacity="0.30"/>
<rect x="290.8" y="664.8" width="4.6" height="1" fill="#fdd8d4" opacity="0.37"/>
<rect x="295.4" y="664.8" width="5.1" height="1" fill="#fdd8d4" opacity="0.55"/>
<rect x="300.5" y="664.8" width="1.5" height="1" fill="#fdd8d4" opacity="0.44"/>
<rect x="302.0" y="664.8" width="3.7" height="1" fill="#fdd8d4" opacity="0.18"/>
<rect x="305.7" y="664.8" width="3.0" height="1" fill="#fdd8d4" opacity="0.49"/>
<rect x="308.8" y="664.8" width="3.2" height="1" fill="#fdd8d4" opacity="0.41"/>
<rect x="311.9" y="664.8" width="1.7" height="1" fill="#d8747a" opacity="0.09"/>
<rect x="313.6" y="664.8" width="4.1" height="1" fill="#d8747a" opacity="0.14"/>
<rect x="317.7" y="664.8" width="3.5" height="1" fill="#d8747a" opacity="0.31"/>
<rect x="321.2" y="664.8" width="2.6" height="1" fill="#fdd8d4" opacity="0.32"/>
<rect x="263.4" y="665.8" width="2.9" height="1" fill="#fdd8d4" opacity="0.27"/>
<rect x="266.3" y="665.8" width="5.9" height="1" fill="#fdd8d4" opacity="0.45"/>
<rect x="272.2" y="665.8" width="5.2" height="1" fill="#d8747a" opacity="0.11"/>
<rect x="277.4" y="665.8" width="3.1" height="1" fill="#d8747a" opacity="0.18"/>
<rect x="280.4" y="665.8" width="5.9" height="1" fill="#fdd8d4" opacity="0.55"/>
<rect x="286.4" y="665.8" width="2.5" height="1" fill="#d8747a" opacity="0.08"/>
<rect x="288.9" y="665.8" width="2.7" height="1" fill="#d8747a" opacity="0.21"/>
<rect x="291.6" y="665.8" width="2.9" height="1" fill="#fdd8d4" opacity="0.37"/>
<rect x="294.5" y="665.8" width="4.2" height="1" fill="#d8747a" opacity="0.26"/>
<rect x="298.7" y="665.8" width="4.6" height="1" fill="#fdd8d4" opacity="0.33"/>
<rect x="303.3" y="665.8" width="3.6" height="1" fill="#d8747a" opacity="0.08"/>
<rect x="306.8" y="665.8" width="3.6" height="1" fill="#fdd8d4" opacity="0.20"/>
<rect x="310.4" y="665.8" width="5.4" height="1" fill="#fdd8d4" opacity="0.51"/>
<rect x="315.8" y="665.8" width="5.2" height="1" fill="#fdd8d4" opacity="0.20"/>
<rect x="321.0" y="665.8" width="2.7" height="1" fill="#fdd8d4" opacity="0.57"/>
<rect x="323.7" y="665.8" width="0.1" height="1" fill="#d8747a" opacity="0.16"/>
<rect x="263.4" y="666.8" width="3.1" height="1" fill="#fdd8d4" opacity="0.17"/>
<rect x="266.5" y="666.8" width="5.3" height="1" fill="#d8747a" opacity="0.31"/>
<rect x="271.8" y="666.8" width="3.0" height="1" fill="#d8747a" opacity="0.12"/>
<rect x="274.8" y="666.8" width="5.8" height="1" fill="#fdd8d4" opacity="0.49"/>
<rect x="280.6" y="666.8" width="1.8" height="1" fill="#fdd8d4" opacity="0.45"/>
<rect x="282.4" y="666.8" width="5.9" height="1" fill="#fdd8d4" opacity="0.16"/>
<rect x="288.3" y="666.8" width="3.2" height="1" fill="#fdd8d4" opacity="0.36"/>
<rect x="291.5" y="666.8" width="5.8" height="1" fill="#d8747a" opacity="0.08"/>
<rect x="297.3" y="666.8" width="5.8" height="1" fill="#d8747a" opacity="0.22"/>
<rect x="303.1" y="666.8" width="3.1" height="1" fill="#fdd8d4" opacity="0.54"/>
<rect x="306.2" y="666.8" width="5.8" height="1" fill="#fdd8d4" opacity="0.23"/>
<rect x="311.9" y="666.8" width="5.2" height="1" fill="#d8747a" opacity="0.18"/>
<rect x="317.1" y="666.8" width="5.7" height="1" fill="#d8747a" opacity="0.17"/>
<rect x="322.9" y="666.8" width="0.9" height="1" fill="#d8747a" opacity="0.25"/>
<rect x="263.4" y="667.8" width="4.4" height="1" fill="#d8747a" opacity="0.31"/>
<rect x="267.8" y="667.8" width="1.8" height="1" fill="#fdd8d4" opacity="0.28"/>
<rect x="269.7" y="667.8" width="2.1" height="1" fill="#d8747a" opacity="0.33"/>
<rect x="271.8" y="667.8" width="5.1" height="1" fill="#fdd8d4" opacity="0.48"/>
<rect x="276.9" y="667.8" width="5.9" height="1" fill="#fdd8d4" opacity="0.36"/>
<rect x="282.8" y="667.8" width="2.7" height="1" fill="#fdd8d4" opacity="0.57"/>
<rect x="285.5" y="667.8" width="4.8" height="1" fill="#fdd8d4" opacity="0.50"/>
<rect x="290.3" y="667.8" width="3.3" height="1" fill="#fdd8d4" opacity="0.51"/>
<rect x="293.6" y="667.8" width="2.4" height="1" fill="#fdd8d4" opacity="0.13"/>
<rect x="296.0" y="667.8" width="3.9" height="1" fill="#fdd8d4" opacity="0.18"/>
<rect x="299.9" y="667.8" width="5.6" height="1" fill="#d8747a" opacity="0.12"/>
<rect x="305.6" y="667.8" width="3.4" height="1" fill="#fdd8d4" opacity="0.31"/>
<rect x="308.9" y="667.8" width="1.5" height="1" fill="#d8747a" opacity="0.25"/>
<rect x="310.5" y="667.8" width="2.1" height="1" fill="#d8747a" opacity="0.28"/>
<rect x="312.6" y="667.8" width="5.4" height="1" fill="#fdd8d4" opacity="0.20"/>
<rect x="317.9" y="667.8" width="1.5" height="1" fill="#fdd8d4" opacity="0.39"/>
<rect x="319.5" y="667.8" width="3.1" height="1" fill="#d8747a" opacity="0.18"/>
<rect x="322.6" y="667.8" width="1.2" height="1" fill="#fdd8d4" opacity="0.57"/>
<rect x="263.4" y="668.8" width="2.4" height="1" fill="#d8747a" opacity="0.25"/>
<rect x="265.8" y="668.8" width="2.0" height="1" fill="#d8747a" opacity="0.18"/>
<rect x="267.8" y="668.8" width="5.9" height="1" fill="#d8747a" opacity="0.15"/>
<rect x="273.8" y="668.8" width="3.6" height="1" fill="#d8747a" opacity="0.18"/>
<rect x="277.4" y="668.8" width="4.7" height="1" fill="#d8747a" opacity="0.28"/>
<rect x="282.1" y="668.8" width="2.3" height="1" fill="#d8747a" opacity="0.23"/>
<rect x="284.4" y="668.8" width="3.5" height="1" fill="#fdd8d4" opacity="0.16"/>
<rect x="287.9" y="668.8" width="4.9" height="1" fill="#fdd8d4" opacity="0.29"/>
<rect x="292.8" y="668.8" width="2.1" height="1" fill="#fdd8d4" opacity="0.47"/>
<rect x="294.9" y="668.8" width="3.6" height="1" fill="#fdd8d4" opacity="0.43"/>
<rect x="298.5" y="668.8" width="4.2" height="1" fill="#d8747a" opacity="0.12"/>
<rect x="302.7" y="668.8" width="3.6" height="1" fill="#fdd8d4" opacity="0.53"/>
<rect x="306.3" y="668.8" width="6.0" height="1" fill="#fdd8d4" opacity="0.27"/>
<rect x="312.3" y="668.8" width="2.5" height="1" fill="#fdd8d4" opacity="0.46"/>
<rect x="314.8" y="668.8" width="2.6" height="1" fill="#fdd8d4" opacity="0.58"/>
<rect x="317.4" y="668.8" width="3.3" height="1" fill="#fdd8d4" opacity="0.32"/>
<rect x="320.7" y="668.8" width="3.1" height="1" fill="#fdd8d4" opacity="0.21"/>
<rect x="263.4" y="669.8" width="3.1" height="1" fill="#fdd8d4" opacity="0.15"/>
<rect x="266.5" y="669.8" width="2.9" height="1" fill="#fdd8d4" opacity="0.46"/>
<rect x="269.3" y="669.8" width="4.3" height="1" fill="#fdd8d4" opacity="0.43"/>
<rect x="273.7" y="669.8" width="1.5" height="1" fill="#d8747a" opacity="0.08"/>
<rect x="275.2" y="669.8" width="3.4" height="1" fill="#d8747a" opacity="0.21"/>
<rect x="278.6" y="669.8" width="4.3" height="1" fill="#d8747a" opacity="0.29"/>
<rect x="283.0" y="669.8" width="3.4" height="1" fill="#fdd8d4" opacity="0.28"/>
<rect x="286.3" y="669.8" width="4.3" height="1" fill="#fdd8d4" opacity="0.24"/>
<rect x="290.6" y="669.8" width="5.0" height="1" fill="#d8747a" opacity="0.14"/>
<rect x="295.6" y="669.8" width="2.9" height="1" fill="#fdd8d4" opacity="0.35"/>
<rect x="298.6" y="669.8" width="1.7" height="1" fill="#d8747a" opacity="0.23"/>
<rect x="300.2" y="669.8" width="5.1" height="1" fill="#d8747a" opacity="0.27"/>
<rect x="305.4" y="669.8" width="3.3" height="1" fill="#fdd8d4" opacity="0.31"/>
<rect x="308.6" y="669.8" width="3.5" height="1" fill="#fdd8d4" opacity="0.54"/>
<rect x="312.1" y="669.8" width="5.6" height="1" fill="#fdd8d4" opacity="0.44"/>
<rect x="317.7" y="669.8" width="2.1" height="1" fill="#d8747a" opacity="0.28"/>
<rect x="319.9" y="669.8" width="3.9" height="1" fill="#fdd8d4" opacity="0.26"/>
<rect x="263.4" y="670.8" width="2.7" height="1" fill="#fdd8d4" opacity="0.36"/>
<rect x="266.1" y="670.8" width="1.6" height="1" fill="#d8747a" opacity="0.16"/>
<rect x="267.7" y="670.8" width="1.8" height="1" fill="#fdd8d4" opacity="0.54"/>
<rect x="269.5" y="670.8" width="5.2" height="1" fill="#d8747a" opacity="0.18"/>
<rect x="274.7" y="670.8" width="2.0" height="1" fill="#fdd8d4" opacity="0.49"/>
<rect x="276.7" y="670.8" width="5.1" height="1" fill="#fdd8d4" opacity="0.17"/>
<rect x="281.7" y="670.8" width="1.6" height="1" fill="#d8747a" opacity="0.29"/>
<rect x="283.3" y="670.8" width="5.2" height="1" fill="#fdd8d4" opacity="0.23"/>
<rect x="288.5" y="670.8" width="5.4" height="1" fill="#d8747a" opacity="0.15"/>
<rect x="293.9" y="670.8" width="1.5" height="1" fill="#fdd8d4" opacity="0.31"/>
<rect x="295.4" y="670.8" width="5.0" height="1" fill="#fdd8d4" opacity="0.39"/>
<rect x="300.3" y="670.8" width="5.9" height="1" fill="#fdd8d4" opacity="0.55"/>
<rect x="306.3" y="670.8" width="5.8" height="1" fill="#d8747a" opacity="0.26"/>
<rect x="312.1" y="670.8" width="2.5" height="1" fill="#d8747a" opacity="0.16"/>
<rect x="314.6" y="670.8" width="5.9" height="1" fill="#d8747a" opacity="0.18"/>
<rect x="320.6" y="670.8" width="2.1" height="1" fill="#fdd8d4" opacity="0.35"/>
<rect x="322.7" y="670.8" width="1.1" height="1" fill="#fdd8d4" opacity="0.47"/>
<rect x="263.4" y="671.8" width="3.0" height="1" fill="#d8747a" opacity="0.26"/>
<rect x="266.4" y="671.8" width="4.7" height="1" fill="#fdd8d4" opacity="0.26"/>
<rect x="271.1" y="671.8" width="5.3" height="1" fill="#fdd8d4" opacity="0.38"/>
<rect x="276.4" y="671.8" width="3.3" height="1" fill="#fdd8d4" opacity="0.15"/>
<rect x="279.7" y="671.8" width="1.9" height="1" fill="#d8747a" opacity="0.10"/>
<rect x="281.7" y="671.8" width="1.7" height="1" fill="#fdd8d4" opacity="0.46"/>
<rect x="283.4" y="671.8" width="4.3" height="1" fill="#d8747a" opacity="0.25"/>
<rect x="287.7" y="671.8" width="5.2" height="1" fill="#fdd8d4" opacity="0.22"/>
<rect x="292.9" y="671.8" width="4.0" height="1" fill="#d8747a" opacity="0.14"/>
<rect x="296.9" y="671.8" width="2.2" height="1" fill="#fdd8d4" opacity="0.41"/>
<rect x="299.1" y="671.8" width="5.7" height="1" fill="#d8747a" opacity="0.14"/>
<rect x="304.8" y="671.8" width="3.8" height="1" fill="#d8747a" opacity="0.15"/>
<rect x="308.6" y="671.8" width="3.9" height="1" fill="#fdd8d4" opacity="0.54"/>
<rect x="312.5" y="671.8" width="4.1" height="1" fill="#fdd8d4" opacity="0.39"/>
<rect x="316.6" y="671.8" width="5.0" height="1" fill="#d8747a" opacity="0.07"/>
<rect x="321.6" y="671.8" width="2.2" height="1" fill="#fdd8d4" opacity="0.18"/>
<rect x="263.4" y="672.8" width="2.0" height="1" fill="#d8747a" opacity="0.24"/>
<rect x="265.4" y="672.8" width="2.1" height="1" fill="#d8747a" opacity="0.20"/>
<rect x="267.5" y="672.8" width="1.5" height="1" fill="#d8747a" opacity="0.17"/>
<rect x="269.0" y="672.8" width="2.4" height="1" fill="#d8747a" opacity="0.14"/>
<rect x="271.4" y="672.8" width="2.6" height="1" fill="#d8747a" opacity="0.18"/>
<rect x="274.0" y="672.8" width="3.1" height="1" fill="#d8747a" opacity="0.08"/>
<rect x="277.2" y="672.8" width="5.3" height="1" fill="#fdd8d4" opacity="0.35"/>
<rect x="282.4" y="672.8" width="1.5" height="1" fill="#d8747a" opacity="0.30"/>
<rect x="283.9" y="672.8" width="3.6" height="1" fill="#d8747a" opacity="0.28"/>
<rect x="287.5" y="672.8" width="5.5" height="1" fill="#d8747a" opacity="0.20"/>
<rect x="293.0" y="672.8" width="4.0" height="1" fill="#d8747a" opacity="0.15"/>
<rect x="297.0" y="672.8" width="4.3" height="1" fill="#fdd8d4" opacity="0.41"/>
<rect x="301.3" y="672.8" width="4.3" height="1" fill="#d8747a" opacity="0.09"/>
<rect x="305.6" y="672.8" width="1.6" height="1" fill="#fdd8d4" opacity="0.52"/>
<rect x="307.2" y="672.8" width="5.6" height="1" fill="#d8747a" opacity="0.27"/>
<rect x="312.8" y="672.8" width="2.3" height="1" fill="#d8747a" opacity="0.12"/>
<rect x="315.0" y="672.8" width="5.4" height="1" fill="#fdd8d4" opacity="0.51"/>
<rect x="320.4" y="672.8" width="3.2" height="1" fill="#fdd8d4" opacity="0.24"/>
<rect x="323.6" y="672.8" width="0.2" height="1" fill="#fdd8d4" opacity="0.23"/>
<rect x="263.4" y="673.8" width="3.2" height="1" fill="#d8747a" opacity="0.27"/>
<rect x="266.6" y="673.8" width="2.3" height="1" fill="#d8747a" opacity="0.14"/>
<rect x="268.9" y="673.8" width="4.4" height="1" fill="#fdd8d4" opacity="0.36"/>
<rect x="273.3" y="673.8" width="5.3" height="1" fill="#fdd8d4" opacity="0.22"/>
<rect x="278.7" y="673.8" width="3.9" height="1" fill="#d8747a" opacity="0.13"/>
<rect x="282.6" y="673.8" width="2.2" height="1" fill="#d8747a" opacity="0.16"/>
<rect x="284.7" y="673.8" width="5.5" height="1" fill="#fdd8d4" opacity="0.16"/>
<rect x="290.2" y="673.8" width="2.5" height="1" fill="#fdd8d4" opacity="0.37"/>
<rect x="292.7" y="673.8" width="1.6" height="1" fill="#d8747a" opacity="0.21"/>
<rect x="294.3" y="673.8" width="4.2" height="1" fill="#d8747a" opacity="0.27"/>
<rect x="298.5" y="673.8" width="2.6" height="1" fill="#fdd8d4" opacity="0.37"/>
<rect x="301.1" y="673.8" width="3.0" height="1" fill="#fdd8d4" opacity="0.30"/>
<rect x="304.1" y="673.8" width="3.4" height="1" fill="#fdd8d4" opacity="0.51"/>
<rect x="307.6" y="673.8" width="5.9" height="1" fill="#fdd8d4" opacity="0.37"/>
<rect x="313.5" y="673.8" width="4.7" height="1" fill="#fdd8d4" opacity="0.57"/>
<rect x="318.2" y="673.8" width="5.6" height="1" fill="#fdd8d4" opacity="0.22"/>
<rect x="263.4" y="674.8" width="4.1" height="1" fill="#d8747a" opacity="0.13"/>
<rect x="267.5" y="674.8" width="5.0" height="1" fill="#d8747a" opacity="0.25"/>
<rect x="272.5" y="674.8" width="3.7" height="1" fill="#d8747a" opacity="0.25"/>
<rect x="276.2" y="674.8" width="4.8" height="1" fill="#fdd8d4" opacity="0.59"/>
<rect x="280.9" y="674.8" width="5.1" height="1" fill="#d8747a" opacity="0.24"/>
<rect x="286.0" y="674.8" width="3.7" height="1" fill="#fdd8d4" opacity="0.33"/>
<rect x="289.8" y="674.8" width="3.1" height="1" fill="#d8747a" opacity="0.19"/>
<rect x="292.9" y="674.8" width="3.9" height="1" fill="#d8747a" opacity="0.10"/>
<rect x="296.8" y="674.8" width="3.7" height="1" fill="#d8747a" opacity="0.11"/>
<rect x="300.5" y="674.8" width="3.5" height="1" fill="#d8747a" opacity="0.20"/>
<rect x="303.9" y="674.8" width="3.9" height="1" fill="#d8747a" opacity="0.10"/>
<rect x="307.8" y="674.8" width="1.6" height="1" fill="#fdd8d4" opacity="0.57"/>
<rect x="309.4" y="674.8" width="2.8" height="1" fill="#d8747a" opacity="0.15"/>
<rect x="312.2" y="674.8" width="4.8" height="1" fill="#fdd8d4" opacity="0.49"/>
<rect x="317.0" y="674.8" width="1.5" height="1" fill="#d8747a" opacity="0.12"/>
<rect x="318.5" y="674.8" width="3.2" height="1" fill="#d8747a" opacity="0.17"/>
<rect x="321.7" y="674.8" width="2.1" height="1" fill="#d8747a" opacity="0.22"/>
<rect x="263.4" y="675.8" width="5.8" height="1" fill="#fdd8d4" opacity="0.40"/>
<rect x="269.2" y="675.8" width="5.2" height="1" fill="#d8747a" opacity="0.08"/>
<rect x="274.5" y="675.8" width="5.8" height="1" fill="#fdd8d4" opacity="0.39"/>
<rect x="280.3" y="675.8" width="1.8" height="1" fill="#fdd8d4" opacity="0.29"/>
<rect x="282.1" y="675.8" width="4.4" height="1" fill="#d8747a" opacity="0.30"/>
<rect x="286.5" y="675.8" width="3.2" height="1" fill="#d8747a" opacity="0.29"/>
<rect x="289.6" y="675.8" width="2.5" height="1" fill="#d8747a" opacity="0.19"/>
<rect x="292.1" y="675.8" width="5.9" height="1" fill="#d8747a" opacity="0.12"/>
<rect x="298.0" y="675.8" width="5.1" height="1" fill="#d8747a" opacity="0.17"/>
<rect x="303.1" y="675.8" width="5.0" height="1" fill="#fdd8d4" opacity="0.49"/>
<rect x="308.1" y="675.8" width="2.0" height="1" fill="#fdd8d4" opacity="0.29"/>
<rect x="310.2" y="675.8" width="5.2" height="1" fill="#fdd8d4" opacity="0.54"/>
<rect x="315.3" y="675.8" width="3.7" height="1" fill="#d8747a" opacity="0.11"/>
<rect x="319.0" y="675.8" width="3.7" height="1" fill="#d8747a" opacity="0.11"/>
<rect x="322.7" y="675.8" width="1.1" height="1" fill="#fdd8d4" opacity="0.52"/>
<rect x="263.4" y="676.8" width="2.2" height="1" fill="#fdd8d4" opacity="0.34"/>
<rect x="265.6" y="676.8" width="2.0" height="1" fill="#d8747a" opacity="0.30"/>
<rect x="267.6" y="676.8" width="4.8" height="1" fill="#fdd8d4" opacity="0.41"/>
<rect x="272.3" y="676.8" width="5.4" height="1" fill="#fdd8d4" opacity="0.40"/>
<rect x="277.7" y="676.8" width="1.7" height="1" fill="#fdd8d4" opacity="0.20"/>
<rect x="279.4" y="676.8" width="2.6" height="1" fill="#d8747a" opacity="0.20"/>
<rect x="282.0" y="676.8" width="4.1" height="1" fill="#fdd8d4" opacity="0.34"/>
<rect x="286.1" y="676.8" width="2.1" height="1" fill="#fdd8d4" opacity="0.37"/>
<rect x="288.3" y="676.8" width="2.9" height="1" fill="#fdd8d4" opacity="0.56"/>
<rect x="291.1" y="676.8" width="5.7" height="1" fill="#fdd8d4" opacity="0.15"/>
<rect x="296.8" y="676.8" width="3.2" height="1" fill="#d8747a" opacity="0.14"/>
<rect x="300.0" y="676.8" width="4.8" height="1" fill="#fdd8d4" opacity="0.18"/>
<rect x="304.9" y="676.8" width="3.8" height="1" fill="#fdd8d4" opacity="0.54"/>
<rect x="308.7" y="676.8" width="3.5" height="1" fill="#d8747a" opacity="0.18"/>
<rect x="312.2" y="676.8" width="3.8" height="1" fill="#fdd8d4" opacity="0.21"/>
<rect x="316.0" y="676.8" width="2.8" height="1" fill="#fdd8d4" opacity="0.12"/>
<rect x="318.8" y="676.8" width="4.2" height="1" fill="#d8747a" opacity="0.26"/>
<rect x="323.0" y="676.8" width="0.8" height="1" fill="#fdd8d4" opacity="0.22"/>
<rect x="263.4" y="677.8" width="5.4" height="1" fill="#d8747a" opacity="0.08"/>
<rect x="268.8" y="677.8" width="1.9" height="1" fill="#d8747a" opacity="0.17"/>
<rect x="270.7" y="677.8" width="5.9" height="1" fill="#d8747a" opacity="0.25"/>
<rect x="276.6" y="677.8" width="1.7" height="1" fill="#fdd8d4" opacity="0.37"/>
<rect x="278.3" y="677.8" width="1.9" height="1" fill="#fdd8d4" opacity="0.33"/>
<rect x="280.2" y="677.8" width="3.0" height="1" fill="#fdd8d4" opacity="0.45"/>
<rect x="283.2" y="677.8" width="2.0" height="1" fill="#d8747a" opacity="0.08"/>
<rect x="285.2" y="677.8" width="2.7" height="1" fill="#fdd8d4" opacity="0.58"/>
<rect x="287.9" y="677.8" width="5.9" height="1" fill="#fdd8d4" opacity="0.18"/>
<rect x="293.8" y="677.8" width="5.1" height="1" fill="#fdd8d4" opacity="0.34"/>
<rect x="298.8" y="677.8" width="6.0" height="1" fill="#fdd8d4" opacity="0.17"/>
<rect x="304.8" y="677.8" width="2.5" height="1" fill="#d8747a" opacity="0.22"/>
<rect x="307.3" y="677.8" width="4.3" height="1" fill="#fdd8d4" opacity="0.12"/>
<rect x="311.6" y="677.8" width="1.5" height="1" fill="#fdd8d4" opacity="0.24"/>
<rect x="313.1" y="677.8" width="2.7" height="1" fill="#fdd8d4" opacity="0.17"/>
<rect x="315.8" y="677.8" width="5.1" height="1" fill="#fdd8d4" opacity="0.38"/>
<rect x="320.9" y="677.8" width="2.9" height="1" fill="#d8747a" opacity="0.22"/>
<rect x="263.4" y="678.8" width="4.3" height="1" fill="#fdd8d4" opacity="0.36"/>
<rect x="267.7" y="678.8" width="2.0" height="1" fill="#d8747a" opacity="0.23"/>
<rect x="269.7" y="678.8" width="1.9" height="1" fill="#d8747a" opacity="0.13"/>
<rect x="271.5" y="678.8" width="5.1" height="1" fill="#fdd8d4" opacity="0.29"/>
<rect x="276.6" y="678.8" width="5.8" height="1" fill="#fdd8d4" opacity="0.23"/>
<rect x="282.5" y="678.8" width="4.0" height="1" fill="#fdd8d4" opacity="0.29"/>
<rect x="286.5" y="678.8" width="3.5" height="1" fill="#fdd8d4" opacity="0.59"/>
<rect x="290.0" y="678.8" width="4.4" height="1" fill="#d8747a" opacity="0.21"/>
<rect x="294.3" y="678.8" width="2.9" height="1" fill="#fdd8d4" opacity="0.46"/>
<rect x="297.3" y="678.8" width="1.6" height="1" fill="#fdd8d4" opacity="0.27"/>
<rect x="298.9" y="678.8" width="4.2" height="1" fill="#fdd8d4" opacity="0.34"/>
<rect x="303.1" y="678.8" width="4.3" height="1" fill="#d8747a" opacity="0.13"/>
<rect x="307.4" y="678.8" width="3.8" height="1" fill="#fdd8d4" opacity="0.22"/>
<rect x="311.2" y="678.8" width="4.9" height="1" fill="#fdd8d4" opacity="0.29"/>
<rect x="316.1" y="678.8" width="2.6" height="1" fill="#fdd8d4" opacity="0.55"/>
<rect x="318.8" y="678.8" width="5.0" height="1" fill="#d8747a" opacity="0.09"/>
<rect x="263.4" y="679.8" width="4.3" height="1" fill="#d8747a" opacity="0.28"/>
<rect x="267.7" y="679.8" width="4.6" height="1" fill="#d8747a" opacity="0.18"/>
<rect x="272.3" y="679.8" width="4.6" height="1" fill="#d8747a" opacity="0.16"/>
<rect x="276.9" y="679.8" width="5.0" height="1" fill="#fdd8d4" opacity="0.40"/>
<rect x="281.9" y="679.8" width="2.0" height="1" fill="#d8747a" opacity="0.13"/>
<rect x="283.9" y="679.8" width="1.6" height="1" fill="#fdd8d4" opacity="0.39"/>
<rect x="285.5" y="679.8" width="5.7" height="1" fill="#fdd8d4" opacity="0.56"/>
<rect x="291.2" y="679.8" width="3.6" height="1" fill="#fdd8d4" opacity="0.25"/>
<rect x="294.8" y="679.8" width="3.6" height="1" fill="#fdd8d4" opacity="0.35"/>
<rect x="298.4" y="679.8" width="1.5" height="1" fill="#d8747a" opacity="0.12"/>
<rect x="299.9" y="679.8" width="4.3" height="1" fill="#fdd8d4" opacity="0.35"/>
<rect x="304.2" y="679.8" width="5.7" height="1" fill="#fdd8d4" opacity="0.16"/>
<rect x="309.9" y="679.8" width="1.6" height="1" fill="#fdd8d4" opacity="0.40"/>
<rect x="311.5" y="679.8" width="4.4" height="1" fill="#fdd8d4" opacity="0.14"/>
<rect x="315.9" y="679.8" width="3.5" height="1" fill="#fdd8d4" opacity="0.41"/>
<rect x="319.5" y="679.8" width="1.7" height="1" fill="#d8747a" opacity="0.29"/>
<rect x="321.2" y="679.8" width="2.6" height="1" fill="#d8747a" opacity="0.25"/>
<rect x="263.4" y="680.8" width="5.7" height="1" fill="#fdd8d4" opacity="0.43"/>
<rect x="269.1" y="680.8" width="5.1" height="1" fill="#d8747a" opacity="0.18"/>
<rect x="274.2" y="680.8" width="5.1" height="1" fill="#d8747a" opacity="0.11"/>
<rect x="279.3" y="680.8" width="5.4" height="1" fill="#fdd8d4" opacity="0.12"/>
<rect x="284.7" y="680.8" width="1.8" height="1" fill="#fdd8d4" opacity="0.57"/>
<rect x="286.5" y="680.8" width="4.3" height="1" fill="#fdd8d4" opacity="0.17"/>
<rect x="290.8" y="680.8" width="4.1" height="1" fill="#d8747a" opacity="0.15"/>
<rect x="294.9" y="680.8" width="2.2" height="1" fill="#fdd8d4" opacity="0.14"/>
<rect x="297.1" y="680.8" width="4.5" height="1" fill="#fdd8d4" opacity="0.55"/>
<rect x="301.5" y="680.8" width="5.0" height="1" fill="#d8747a" opacity="0.28"/>
<rect x="306.5" y="680.8" width="3.9" height="1" fill="#fdd8d4" opacity="0.35"/>
<rect x="310.4" y="680.8" width="1.9" height="1" fill="#fdd8d4" opacity="0.20"/>
<rect x="312.3" y="680.8" width="5.9" height="1" fill="#fdd8d4" opacity="0.55"/>
<rect x="318.2" y="680.8" width="3.7" height="1" fill="#d8747a" opacity="0.23"/>
<rect x="321.9" y="680.8" width="1.9" height="1" fill="#fdd8d4" opacity="0.25"/>
<rect x="263.4" y="681.8" width="3.4" height="1" fill="#fdd8d4" opacity="0.23"/>
<rect x="266.8" y="681.8" width="2.2" height="1" fill="#fdd8d4" opacity="0.43"/>
<rect x="269.0" y="681.8" width="1.8" height="1" fill="#d8747a" opacity="0.31"/>
<rect x="270.8" y="681.8" width="2.7" height="1" fill="#fdd8d4" opacity="0.27"/>
<rect x="273.5" y="681.8" width="1.9" height="1" fill="#fdd8d4" opacity="0.54"/>
<rect x="275.4" y="681.8" width="5.0" height="1" fill="#d8747a" opacity="0.24"/>
<rect x="280.4" y="681.8" width="4.3" height="1" fill="#fdd8d4" opacity="0.44"/>
<rect x="284.7" y="681.8" width="3.8" height="1" fill="#d8747a" opacity="0.24"/>
<rect x="288.5" y="681.8" width="2.1" height="1" fill="#d8747a" opacity="0.28"/>
<rect x="290.6" y="681.8" width="4.1" height="1" fill="#fdd8d4" opacity="0.46"/>
<rect x="294.7" y="681.8" width="3.7" height="1" fill="#d8747a" opacity="0.21"/>
<rect x="298.4" y="681.8" width="1.6" height="1" fill="#d8747a" opacity="0.08"/>
<rect x="300.0" y="681.8" width="6.0" height="1" fill="#fdd8d4" opacity="0.43"/>
<rect x="306.0" y="681.8" width="2.2" height="1" fill="#fdd8d4" opacity="0.26"/>
<rect x="308.2" y="681.8" width="5.1" height="1" fill="#fdd8d4" opacity="0.41"/>
<rect x="313.3" y="681.8" width="4.8" height="1" fill="#d8747a" opacity="0.28"/>
<rect x="318.1" y="681.8" width="3.9" height="1" fill="#fdd8d4" opacity="0.52"/>
<rect x="322.1" y="681.8" width="1.7" height="1" fill="#d8747a" opacity="0.16"/>
<path d="M272.6,527.8 L283.6,527.8 L280.90000000000003,664 L275.3,664Z" fill="url(#sglow)"/>
<path d="M275.3,527.8 L280.90000000000003,527.8 L280.0,656 L279.70000000000005,664 L276.5,664 L276.20000000000005,656Z" fill="url(#sg)"/>
<rect x="276.40000000000003" y="664" width="3.4" height="18.799999999999955" fill="#e63a42" opacity="0.4"/>
<path d="M303.5,527.8 L314.5,527.8 L311.8,656 L306.2,656Z" fill="url(#sglow)"/>
<path d="M306.2,527.8 L311.8,527.8 L310.9,648 L310.6,656 L307.4,656 L307.1,648Z" fill="url(#sg)"/>
<rect x="307.3" y="656" width="3.4" height="26.799999999999955" fill="#e63a42" opacity="0.4"/>
<rect x="307.4" y="672.6" width="3.3" height="10" fill="#e4242c" opacity="0.65"/>
<rect x="276.5" y="672" width="3.2" height="4" fill="#e4242c" opacity="0.5"/>
<path d="M332,527.1 H337.9 V654.2 H332" fill="none" stroke="#000" stroke-width="2"/>
<text transform="translate(349.40,577.50) rotate(-90)" x="0" y="3.60" font-size="10" fill="#111" text-anchor="middle" stroke="#111" stroke-width="0.28">2233</text>
<text transform="translate(251.0,608.4) rotate(-90)" font-size="10" fill="#222" text-anchor="middle" stroke="#222" stroke-width="0.28">% tags/kb (10<tspan font-size="6" dy="-4">−4</tspan><tspan dy="4">)</tspan></text>
<rect x="367" y="556" width="6.7" height="67" fill="url(#rg)"/>
<text x="370.20" y="549.20" font-size="10" fill="#222" text-anchor="middle" font-weight="normal"  stroke="#222" stroke-width="0.28">4</text>
<text x="370.20" y="647.60" font-size="10" fill="#222" text-anchor="middle" font-weight="normal"  stroke="#222" stroke-width="0.28">0</text>
<defs><clipPath id="gc"><ellipse cx="470" cy="595.7" rx="43.5" ry="40.5"/></clipPath></defs>
<ellipse cx="470" cy="595.7" rx="43.5" ry="40.5" fill="#b7d88f"/>
<circle cx="468.6" cy="580.5" r="45.4" fill="#e8626c"/>
<circle cx="468.6" cy="580.5" r="45.4" fill="#e05540" clip-path="url(#gc)"/>
<text x="464.80" y="552.20" font-size="9.5" fill="#222" text-anchor="middle" font-weight="normal"  stroke="#222" stroke-width="0.28">8567</text>
<text x="461.40" y="595.60" font-size="11" fill="#222" text-anchor="middle" font-weight="normal"  stroke="#222" stroke-width="0.28">18364</text>
<text x="472.30" y="634.60" font-size="8.5" fill="#222" text-anchor="middle" font-weight="normal"  stroke="#222" stroke-width="0.28">2520</text>
<rect x="451.2" y="652.2" width="7.2" height="7.1" fill="#e4566c"/>
<rect x="451.2" y="673.1" width="7.2" height="7.2" fill="#b8d890"/>
<text x="466.00" y="659.30" font-size="10" fill="#1a1a1a" text-anchor="start" font-weight="normal"  stroke="#1a1a1a" stroke-width="0.28">ERG</text>
<text x="466.00" y="680.10" font-size="10" fill="#1a1a1a" text-anchor="start" font-weight="normal"  stroke="#1a1a1a" stroke-width="0.28">FLI1</text>
</g>
</svg></body></html>
